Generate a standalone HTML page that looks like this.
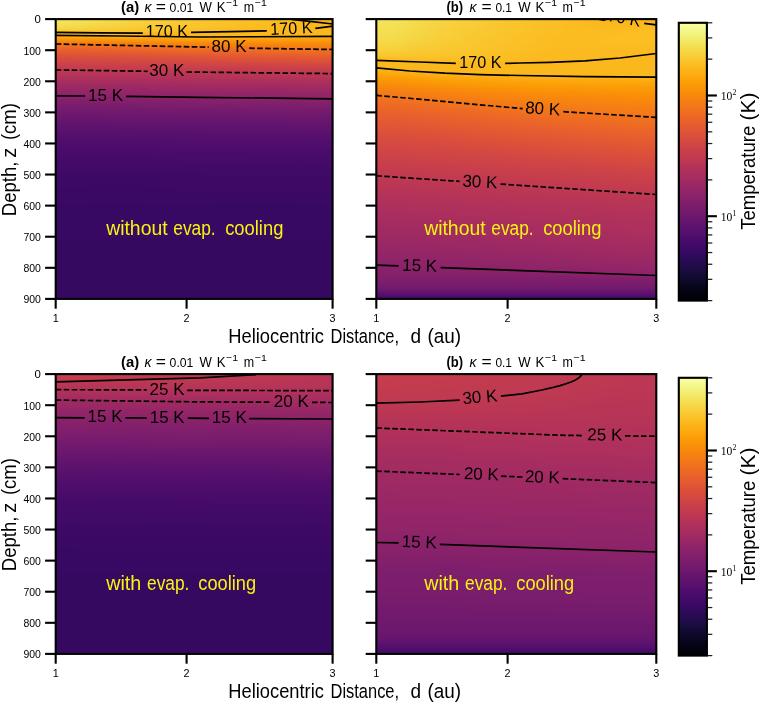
<!DOCTYPE html>
<html><head><meta charset="utf-8"><title>Temperature profiles</title><style>html,body{margin:0;padding:0;background:#fff;}body{width:760px;height:703px;overflow:hidden;font-family:"Liberation Sans",sans-serif;}</style></head>
<body><svg width="760" height="703" viewBox="0 0 760 703" style="display:block;will-change:transform"><defs><filter id="hb" x="-5%" y="-5%" width="110%" height="110%" color-interpolation-filters="sRGB"><feGaussianBlur stdDeviation="11 0"/></filter><linearGradient id="a0" gradientUnits="userSpaceOnUse" x1="0" y1="19.10" x2="0" y2="298.90"><stop offset="0" stop-color="#f3e35a"/><stop offset="0.0143" stop-color="#f4e156"/><stop offset="0.0286" stop-color="#f5d949"/><stop offset="0.0429" stop-color="#f9cb35"/><stop offset="0.0479" stop-color="#fbb81d"/><stop offset="0.0572" stop-color="#fbb81d"/><stop offset="0.0656" stop-color="#fca60c"/><stop offset="0.0715" stop-color="#fb9906"/><stop offset="0.0858" stop-color="#f57b17"/><stop offset="0.0901" stop-color="#f3761b"/><stop offset="0.1001" stop-color="#ee6a24"/><stop offset="0.1144" stop-color="#e65d2f"/><stop offset="0.1287" stop-color="#de5238"/><stop offset="0.143" stop-color="#d54a41"/><stop offset="0.1573" stop-color="#ce4347"/><stop offset="0.1716" stop-color="#c63d4d"/><stop offset="0.1823" stop-color="#bf3952"/><stop offset="0.1858" stop-color="#bd3853"/><stop offset="0.2001" stop-color="#b43359"/><stop offset="0.2144" stop-color="#ad305d"/><stop offset="0.2287" stop-color="#a32c61"/><stop offset="0.243" stop-color="#9b2964"/><stop offset="0.2573" stop-color="#952667"/><stop offset="0.2716" stop-color="#8d2369"/><stop offset="0.275" stop-color="#8c2369"/><stop offset="0.2859" stop-color="#85216b"/><stop offset="0.3002" stop-color="#7f1e6c"/><stop offset="0.3145" stop-color="#781c6d"/><stop offset="0.3288" stop-color="#721a6e"/><stop offset="0.3322" stop-color="#71196e"/><stop offset="0.3431" stop-color="#6c186e"/><stop offset="0.3574" stop-color="#67166e"/><stop offset="0.3717" stop-color="#62146e"/><stop offset="0.386" stop-color="#5d126e"/><stop offset="0.3894" stop-color="#5d126e"/><stop offset="0.4003" stop-color="#5a116e"/><stop offset="0.4146" stop-color="#550f6d"/><stop offset="0.4289" stop-color="#520e6d"/><stop offset="0.4432" stop-color="#4f0d6c"/><stop offset="0.4466" stop-color="#4f0d6c"/><stop offset="0.4575" stop-color="#4c0c6b"/><stop offset="0.4718" stop-color="#4a0c6b"/><stop offset="0.4861" stop-color="#470b6a"/><stop offset="0.5004" stop-color="#450a69"/><stop offset="0.5147" stop-color="#440a68"/><stop offset="0.5289" stop-color="#420a68"/><stop offset="0.5432" stop-color="#400a67"/><stop offset="0.5574" stop-color="#3e0966"/><stop offset="0.5718" stop-color="#3e0966"/><stop offset="0.5861" stop-color="#3d0965"/><stop offset="0.6004" stop-color="#3b0964"/><stop offset="0.6147" stop-color="#3b0964"/><stop offset="0.629" stop-color="#390963"/><stop offset="0.6433" stop-color="#390963"/><stop offset="0.6576" stop-color="#390963"/><stop offset="0.6719" stop-color="#380962"/><stop offset="0.6824" stop-color="#380962"/><stop offset="0.6862" stop-color="#380962"/><stop offset="0.7005" stop-color="#380962"/><stop offset="0.7148" stop-color="#380962"/><stop offset="0.7291" stop-color="#380962"/><stop offset="0.7434" stop-color="#380962"/><stop offset="0.7577" stop-color="#380962"/><stop offset="0.772" stop-color="#380962"/><stop offset="0.7863" stop-color="#360961"/><stop offset="0.8006" stop-color="#360961"/><stop offset="0.8149" stop-color="#360961"/><stop offset="0.8292" stop-color="#360961"/><stop offset="0.8435" stop-color="#360961"/><stop offset="0.8578" stop-color="#360961"/><stop offset="0.8721" stop-color="#360961"/><stop offset="0.8863" stop-color="#360961"/><stop offset="0.9006" stop-color="#360961"/><stop offset="0.9149" stop-color="#360961"/><stop offset="0.9292" stop-color="#360961"/><stop offset="0.9435" stop-color="#360961"/><stop offset="0.9578" stop-color="#360961"/><stop offset="0.9721" stop-color="#360961"/><stop offset="0.9864" stop-color="#360961"/><stop offset="1" stop-color="#360961"/></linearGradient><linearGradient id="a1" gradientUnits="userSpaceOnUse" x1="0" y1="19.10" x2="0" y2="298.90"><stop offset="0" stop-color="#f5db4c"/><stop offset="0.0143" stop-color="#f5d949"/><stop offset="0.0286" stop-color="#f7d340"/><stop offset="0.0429" stop-color="#f9c72f"/><stop offset="0.0451" stop-color="#fac62d"/><stop offset="0.0487" stop-color="#fbb81d"/><stop offset="0.0572" stop-color="#fbb81d"/><stop offset="0.0597" stop-color="#fbb81d"/><stop offset="0.0668" stop-color="#fca60c"/><stop offset="0.0715" stop-color="#fb9b06"/><stop offset="0.0858" stop-color="#f67e14"/><stop offset="0.0924" stop-color="#f3761b"/><stop offset="0.1001" stop-color="#ef6c23"/><stop offset="0.1144" stop-color="#e75e2e"/><stop offset="0.1287" stop-color="#df5337"/><stop offset="0.143" stop-color="#d74b3f"/><stop offset="0.1573" stop-color="#cf4446"/><stop offset="0.1716" stop-color="#c73e4c"/><stop offset="0.1839" stop-color="#bf3952"/><stop offset="0.1858" stop-color="#bf3952"/><stop offset="0.2001" stop-color="#b63458"/><stop offset="0.2144" stop-color="#ad305d"/><stop offset="0.2287" stop-color="#a52c60"/><stop offset="0.243" stop-color="#9d2964"/><stop offset="0.2573" stop-color="#952667"/><stop offset="0.2716" stop-color="#8d2369"/><stop offset="0.2761" stop-color="#8c2369"/><stop offset="0.2859" stop-color="#87216b"/><stop offset="0.3002" stop-color="#7f1e6c"/><stop offset="0.3145" stop-color="#781c6d"/><stop offset="0.3288" stop-color="#721a6e"/><stop offset="0.3333" stop-color="#71196e"/><stop offset="0.3431" stop-color="#6d186e"/><stop offset="0.3574" stop-color="#67166e"/><stop offset="0.3717" stop-color="#62146e"/><stop offset="0.386" stop-color="#5f136e"/><stop offset="0.3904" stop-color="#5d126e"/><stop offset="0.4003" stop-color="#5a116e"/><stop offset="0.4146" stop-color="#550f6d"/><stop offset="0.4289" stop-color="#520e6d"/><stop offset="0.4432" stop-color="#4f0d6c"/><stop offset="0.4476" stop-color="#4f0d6c"/><stop offset="0.4575" stop-color="#4d0d6c"/><stop offset="0.4718" stop-color="#4a0c6b"/><stop offset="0.4861" stop-color="#490b6a"/><stop offset="0.5004" stop-color="#450a69"/><stop offset="0.5147" stop-color="#440a68"/><stop offset="0.5289" stop-color="#420a68"/><stop offset="0.5432" stop-color="#400a67"/><stop offset="0.5575" stop-color="#3e0966"/><stop offset="0.5718" stop-color="#3e0966"/><stop offset="0.5861" stop-color="#3d0965"/><stop offset="0.6004" stop-color="#3b0964"/><stop offset="0.6147" stop-color="#3b0964"/><stop offset="0.629" stop-color="#390963"/><stop offset="0.6433" stop-color="#390963"/><stop offset="0.6576" stop-color="#390963"/><stop offset="0.6719" stop-color="#380962"/><stop offset="0.6835" stop-color="#380962"/><stop offset="0.6862" stop-color="#380962"/><stop offset="0.7005" stop-color="#380962"/><stop offset="0.7148" stop-color="#380962"/><stop offset="0.7291" stop-color="#380962"/><stop offset="0.7434" stop-color="#380962"/><stop offset="0.7577" stop-color="#380962"/><stop offset="0.772" stop-color="#380962"/><stop offset="0.7863" stop-color="#360961"/><stop offset="0.8006" stop-color="#360961"/><stop offset="0.8149" stop-color="#360961"/><stop offset="0.8292" stop-color="#360961"/><stop offset="0.8435" stop-color="#360961"/><stop offset="0.8578" stop-color="#360961"/><stop offset="0.8721" stop-color="#360961"/><stop offset="0.8863" stop-color="#360961"/><stop offset="0.9006" stop-color="#360961"/><stop offset="0.9149" stop-color="#360961"/><stop offset="0.9292" stop-color="#360961"/><stop offset="0.9435" stop-color="#360961"/><stop offset="0.9578" stop-color="#360961"/><stop offset="0.9721" stop-color="#360961"/><stop offset="0.9864" stop-color="#360961"/><stop offset="1" stop-color="#360961"/></linearGradient><linearGradient id="a2" gradientUnits="userSpaceOnUse" x1="0" y1="19.10" x2="0" y2="298.90"><stop offset="0" stop-color="#f7d340"/><stop offset="0.0143" stop-color="#f7d13d"/><stop offset="0.0286" stop-color="#f8cd37"/><stop offset="0.0429" stop-color="#fac42a"/><stop offset="0.0459" stop-color="#fac228"/><stop offset="0.0494" stop-color="#fbb81d"/><stop offset="0.0572" stop-color="#fbb81d"/><stop offset="0.061" stop-color="#fbb81d"/><stop offset="0.0681" stop-color="#fca60c"/><stop offset="0.0715" stop-color="#fc9f07"/><stop offset="0.0858" stop-color="#f78212"/><stop offset="0.0947" stop-color="#f3761b"/><stop offset="0.1001" stop-color="#f06f20"/><stop offset="0.1144" stop-color="#e9612b"/><stop offset="0.1287" stop-color="#e05536"/><stop offset="0.143" stop-color="#d84c3e"/><stop offset="0.1573" stop-color="#d04545"/><stop offset="0.1716" stop-color="#c73e4c"/><stop offset="0.1854" stop-color="#bf3952"/><stop offset="0.2001" stop-color="#b63458"/><stop offset="0.2144" stop-color="#ae305c"/><stop offset="0.2287" stop-color="#a52c60"/><stop offset="0.243" stop-color="#9d2964"/><stop offset="0.2573" stop-color="#952667"/><stop offset="0.2716" stop-color="#8f2469"/><stop offset="0.2771" stop-color="#8c2369"/><stop offset="0.2859" stop-color="#87216b"/><stop offset="0.3002" stop-color="#801f6c"/><stop offset="0.3145" stop-color="#781c6d"/><stop offset="0.3288" stop-color="#721a6e"/><stop offset="0.3343" stop-color="#71196e"/><stop offset="0.3431" stop-color="#6d186e"/><stop offset="0.3574" stop-color="#69166e"/><stop offset="0.3717" stop-color="#64156e"/><stop offset="0.386" stop-color="#5f136e"/><stop offset="0.3915" stop-color="#5d126e"/><stop offset="0.4003" stop-color="#5a116e"/><stop offset="0.4146" stop-color="#57106e"/><stop offset="0.4289" stop-color="#520e6d"/><stop offset="0.4432" stop-color="#4f0d6c"/><stop offset="0.4487" stop-color="#4f0d6c"/><stop offset="0.4575" stop-color="#4d0d6c"/><stop offset="0.4718" stop-color="#4a0c6b"/><stop offset="0.4861" stop-color="#490b6a"/><stop offset="0.5004" stop-color="#450a69"/><stop offset="0.5147" stop-color="#440a68"/><stop offset="0.5289" stop-color="#420a68"/><stop offset="0.5432" stop-color="#400a67"/><stop offset="0.5575" stop-color="#3e0966"/><stop offset="0.5595" stop-color="#3e0966"/><stop offset="0.5718" stop-color="#3e0966"/><stop offset="0.5861" stop-color="#3d0965"/><stop offset="0.6004" stop-color="#3b0964"/><stop offset="0.6147" stop-color="#3b0964"/><stop offset="0.629" stop-color="#390963"/><stop offset="0.6433" stop-color="#390963"/><stop offset="0.6576" stop-color="#390963"/><stop offset="0.6719" stop-color="#380962"/><stop offset="0.6846" stop-color="#380962"/><stop offset="0.6862" stop-color="#380962"/><stop offset="0.7005" stop-color="#380962"/><stop offset="0.7148" stop-color="#380962"/><stop offset="0.7291" stop-color="#380962"/><stop offset="0.7434" stop-color="#380962"/><stop offset="0.7577" stop-color="#380962"/><stop offset="0.772" stop-color="#380962"/><stop offset="0.7863" stop-color="#360961"/><stop offset="0.8006" stop-color="#360961"/><stop offset="0.8149" stop-color="#360961"/><stop offset="0.8292" stop-color="#360961"/><stop offset="0.8435" stop-color="#360961"/><stop offset="0.8578" stop-color="#360961"/><stop offset="0.8721" stop-color="#360961"/><stop offset="0.8863" stop-color="#360961"/><stop offset="0.9006" stop-color="#360961"/><stop offset="0.9149" stop-color="#360961"/><stop offset="0.9292" stop-color="#360961"/><stop offset="0.9435" stop-color="#360961"/><stop offset="0.9578" stop-color="#360961"/><stop offset="0.9721" stop-color="#360961"/><stop offset="0.9864" stop-color="#360961"/><stop offset="1" stop-color="#360961"/></linearGradient><linearGradient id="a3" gradientUnits="userSpaceOnUse" x1="0" y1="19.10" x2="0" y2="298.90"><stop offset="0" stop-color="#f8cd37"/><stop offset="0.0143" stop-color="#f9cb35"/><stop offset="0.0286" stop-color="#f9c72f"/><stop offset="0.0429" stop-color="#fac228"/><stop offset="0.0452" stop-color="#fac026"/><stop offset="0.0488" stop-color="#fbb81d"/><stop offset="0.0572" stop-color="#fbb81d"/><stop offset="0.0623" stop-color="#fbb81d"/><stop offset="0.0695" stop-color="#fca60c"/><stop offset="0.0715" stop-color="#fca309"/><stop offset="0.0858" stop-color="#f8850f"/><stop offset="0.097" stop-color="#f3761b"/><stop offset="0.1001" stop-color="#f1731d"/><stop offset="0.1144" stop-color="#ea632a"/><stop offset="0.1287" stop-color="#e25734"/><stop offset="0.143" stop-color="#d94d3d"/><stop offset="0.1573" stop-color="#d04545"/><stop offset="0.1716" stop-color="#c83f4b"/><stop offset="0.1858" stop-color="#c03a51"/><stop offset="0.2001" stop-color="#b73557"/><stop offset="0.2144" stop-color="#ae305c"/><stop offset="0.2287" stop-color="#a62d60"/><stop offset="0.243" stop-color="#9f2a63"/><stop offset="0.2573" stop-color="#972766"/><stop offset="0.2716" stop-color="#8f2469"/><stop offset="0.2782" stop-color="#8c2369"/><stop offset="0.2859" stop-color="#87216b"/><stop offset="0.3002" stop-color="#801f6c"/><stop offset="0.3145" stop-color="#7a1d6d"/><stop offset="0.3288" stop-color="#741a6e"/><stop offset="0.3354" stop-color="#71196e"/><stop offset="0.3431" stop-color="#6d186e"/><stop offset="0.3574" stop-color="#69166e"/><stop offset="0.3717" stop-color="#64156e"/><stop offset="0.386" stop-color="#5f136e"/><stop offset="0.3926" stop-color="#5d126e"/><stop offset="0.4003" stop-color="#5a116e"/><stop offset="0.4146" stop-color="#57106e"/><stop offset="0.4289" stop-color="#520e6d"/><stop offset="0.4432" stop-color="#4f0d6c"/><stop offset="0.4498" stop-color="#4f0d6c"/><stop offset="0.4575" stop-color="#4d0d6c"/><stop offset="0.4718" stop-color="#4a0c6b"/><stop offset="0.4861" stop-color="#490b6a"/><stop offset="0.5004" stop-color="#450a69"/><stop offset="0.5147" stop-color="#440a68"/><stop offset="0.5289" stop-color="#420a68"/><stop offset="0.5432" stop-color="#400a67"/><stop offset="0.5575" stop-color="#3e0966"/><stop offset="0.5606" stop-color="#3e0966"/><stop offset="0.5718" stop-color="#3e0966"/><stop offset="0.5861" stop-color="#3d0965"/><stop offset="0.6004" stop-color="#3b0964"/><stop offset="0.6147" stop-color="#3b0964"/><stop offset="0.629" stop-color="#390963"/><stop offset="0.6433" stop-color="#390963"/><stop offset="0.6576" stop-color="#390963"/><stop offset="0.6719" stop-color="#380962"/><stop offset="0.6856" stop-color="#380962"/><stop offset="0.7005" stop-color="#380962"/><stop offset="0.7148" stop-color="#380962"/><stop offset="0.7291" stop-color="#380962"/><stop offset="0.7434" stop-color="#380962"/><stop offset="0.7577" stop-color="#380962"/><stop offset="0.772" stop-color="#380962"/><stop offset="0.7863" stop-color="#360961"/><stop offset="0.8006" stop-color="#360961"/><stop offset="0.8149" stop-color="#360961"/><stop offset="0.8292" stop-color="#360961"/><stop offset="0.8435" stop-color="#360961"/><stop offset="0.8578" stop-color="#360961"/><stop offset="0.8721" stop-color="#360961"/><stop offset="0.8863" stop-color="#360961"/><stop offset="0.9006" stop-color="#360961"/><stop offset="0.9149" stop-color="#360961"/><stop offset="0.9292" stop-color="#360961"/><stop offset="0.9435" stop-color="#360961"/><stop offset="0.9578" stop-color="#360961"/><stop offset="0.9721" stop-color="#360961"/><stop offset="0.9864" stop-color="#360961"/><stop offset="1" stop-color="#360961"/></linearGradient><linearGradient id="a4" gradientUnits="userSpaceOnUse" x1="0" y1="19.10" x2="0" y2="298.90"><stop offset="0" stop-color="#f9c72f"/><stop offset="0.0143" stop-color="#fac62d"/><stop offset="0.0286" stop-color="#fac42a"/><stop offset="0.0429" stop-color="#fbbe23"/><stop offset="0.0473" stop-color="#fbb81d"/><stop offset="0.0572" stop-color="#fbb81d"/><stop offset="0.0637" stop-color="#fbb81d"/><stop offset="0.0709" stop-color="#fca60c"/><stop offset="0.0858" stop-color="#f8890c"/><stop offset="0.0993" stop-color="#f3761b"/><stop offset="0.1144" stop-color="#eb6628"/><stop offset="0.1287" stop-color="#e35933"/><stop offset="0.143" stop-color="#da4e3c"/><stop offset="0.1573" stop-color="#d24644"/><stop offset="0.1716" stop-color="#ca404a"/><stop offset="0.1858" stop-color="#c13a50"/><stop offset="0.1885" stop-color="#bf3952"/><stop offset="0.2001" stop-color="#b73557"/><stop offset="0.2144" stop-color="#b0315b"/><stop offset="0.2287" stop-color="#a62d60"/><stop offset="0.243" stop-color="#9f2a63"/><stop offset="0.2573" stop-color="#972766"/><stop offset="0.2716" stop-color="#8f2469"/><stop offset="0.2793" stop-color="#8c2369"/><stop offset="0.2859" stop-color="#88226a"/><stop offset="0.3002" stop-color="#801f6c"/><stop offset="0.3145" stop-color="#7a1d6d"/><stop offset="0.3288" stop-color="#741a6e"/><stop offset="0.3365" stop-color="#71196e"/><stop offset="0.3431" stop-color="#6d186e"/><stop offset="0.3574" stop-color="#69166e"/><stop offset="0.3717" stop-color="#64156e"/><stop offset="0.386" stop-color="#5f136e"/><stop offset="0.3936" stop-color="#5d126e"/><stop offset="0.4003" stop-color="#5a116e"/><stop offset="0.4146" stop-color="#57106e"/><stop offset="0.4289" stop-color="#540f6d"/><stop offset="0.4432" stop-color="#510e6c"/><stop offset="0.4508" stop-color="#4f0d6c"/><stop offset="0.4575" stop-color="#4d0d6c"/><stop offset="0.4718" stop-color="#4a0c6b"/><stop offset="0.4861" stop-color="#490b6a"/><stop offset="0.5004" stop-color="#470b6a"/><stop offset="0.5147" stop-color="#440a68"/><stop offset="0.5289" stop-color="#420a68"/><stop offset="0.5432" stop-color="#400a67"/><stop offset="0.5575" stop-color="#3e0966"/><stop offset="0.5616" stop-color="#3e0966"/><stop offset="0.5718" stop-color="#3e0966"/><stop offset="0.5861" stop-color="#3d0965"/><stop offset="0.6004" stop-color="#3d0965"/><stop offset="0.6147" stop-color="#3b0964"/><stop offset="0.629" stop-color="#390963"/><stop offset="0.6433" stop-color="#390963"/><stop offset="0.6576" stop-color="#390963"/><stop offset="0.6719" stop-color="#380962"/><stop offset="0.6862" stop-color="#380962"/><stop offset="0.7005" stop-color="#380962"/><stop offset="0.7148" stop-color="#380962"/><stop offset="0.7291" stop-color="#380962"/><stop offset="0.7434" stop-color="#380962"/><stop offset="0.7577" stop-color="#380962"/><stop offset="0.772" stop-color="#380962"/><stop offset="0.7863" stop-color="#360961"/><stop offset="0.8006" stop-color="#360961"/><stop offset="0.8149" stop-color="#360961"/><stop offset="0.8292" stop-color="#360961"/><stop offset="0.8435" stop-color="#360961"/><stop offset="0.8578" stop-color="#360961"/><stop offset="0.8721" stop-color="#360961"/><stop offset="0.8863" stop-color="#360961"/><stop offset="0.9006" stop-color="#360961"/><stop offset="0.9149" stop-color="#360961"/><stop offset="0.9292" stop-color="#360961"/><stop offset="0.9435" stop-color="#360961"/><stop offset="0.9578" stop-color="#360961"/><stop offset="0.9721" stop-color="#360961"/><stop offset="0.9864" stop-color="#360961"/><stop offset="1" stop-color="#360961"/></linearGradient><linearGradient id="a5" gradientUnits="userSpaceOnUse" x1="0" y1="19.10" x2="0" y2="298.90"><stop offset="0" stop-color="#fac228"/><stop offset="0.0143" stop-color="#fac228"/><stop offset="0.0286" stop-color="#fac026"/><stop offset="0.0411" stop-color="#fbbc21"/><stop offset="0.0429" stop-color="#fbba1f"/><stop offset="0.0447" stop-color="#fbb81d"/><stop offset="0.0572" stop-color="#fbb81d"/><stop offset="0.0636" stop-color="#fbb81d"/><stop offset="0.0707" stop-color="#fca60c"/><stop offset="0.0858" stop-color="#f98b0b"/><stop offset="0.1001" stop-color="#f37819"/><stop offset="0.1144" stop-color="#ec6726"/><stop offset="0.1287" stop-color="#e55c30"/><stop offset="0.143" stop-color="#dd513a"/><stop offset="0.1573" stop-color="#d34743"/><stop offset="0.1716" stop-color="#cb4149"/><stop offset="0.1858" stop-color="#c13a50"/><stop offset="0.1899" stop-color="#bf3952"/><stop offset="0.2001" stop-color="#b93556"/><stop offset="0.2144" stop-color="#b0315b"/><stop offset="0.2287" stop-color="#a82e5f"/><stop offset="0.243" stop-color="#a02a63"/><stop offset="0.2573" stop-color="#982766"/><stop offset="0.2716" stop-color="#902568"/><stop offset="0.2806" stop-color="#8c2369"/><stop offset="0.2859" stop-color="#88226a"/><stop offset="0.3002" stop-color="#82206c"/><stop offset="0.3145" stop-color="#7a1d6d"/><stop offset="0.3288" stop-color="#741a6e"/><stop offset="0.3377" stop-color="#71196e"/><stop offset="0.3431" stop-color="#6f196e"/><stop offset="0.3574" stop-color="#69166e"/><stop offset="0.3717" stop-color="#64156e"/><stop offset="0.386" stop-color="#5f136e"/><stop offset="0.3949" stop-color="#5d126e"/><stop offset="0.4003" stop-color="#5c126e"/><stop offset="0.4146" stop-color="#57106e"/><stop offset="0.4289" stop-color="#540f6d"/><stop offset="0.4432" stop-color="#510e6c"/><stop offset="0.4521" stop-color="#4f0d6c"/><stop offset="0.4575" stop-color="#4d0d6c"/><stop offset="0.4718" stop-color="#4a0c6b"/><stop offset="0.4861" stop-color="#490b6a"/><stop offset="0.5004" stop-color="#470b6a"/><stop offset="0.5147" stop-color="#440a68"/><stop offset="0.5289" stop-color="#420a68"/><stop offset="0.5432" stop-color="#400a67"/><stop offset="0.5575" stop-color="#400a67"/><stop offset="0.5629" stop-color="#3e0966"/><stop offset="0.5718" stop-color="#3e0966"/><stop offset="0.5861" stop-color="#3d0965"/><stop offset="0.6004" stop-color="#3d0965"/><stop offset="0.6147" stop-color="#3b0964"/><stop offset="0.629" stop-color="#3b0964"/><stop offset="0.6433" stop-color="#390963"/><stop offset="0.6576" stop-color="#390963"/><stop offset="0.6719" stop-color="#380962"/><stop offset="0.6862" stop-color="#380962"/><stop offset="0.688" stop-color="#380962"/><stop offset="0.7005" stop-color="#380962"/><stop offset="0.7148" stop-color="#380962"/><stop offset="0.7291" stop-color="#380962"/><stop offset="0.7434" stop-color="#380962"/><stop offset="0.7577" stop-color="#380962"/><stop offset="0.772" stop-color="#380962"/><stop offset="0.7863" stop-color="#360961"/><stop offset="0.8006" stop-color="#360961"/><stop offset="0.8149" stop-color="#360961"/><stop offset="0.8292" stop-color="#360961"/><stop offset="0.8435" stop-color="#360961"/><stop offset="0.8578" stop-color="#360961"/><stop offset="0.8721" stop-color="#360961"/><stop offset="0.8863" stop-color="#360961"/><stop offset="0.9006" stop-color="#360961"/><stop offset="0.9149" stop-color="#360961"/><stop offset="0.9292" stop-color="#360961"/><stop offset="0.9435" stop-color="#360961"/><stop offset="0.9578" stop-color="#360961"/><stop offset="0.9721" stop-color="#360961"/><stop offset="0.9864" stop-color="#360961"/><stop offset="1" stop-color="#360961"/></linearGradient><linearGradient id="a6" gradientUnits="userSpaceOnUse" x1="0" y1="19.10" x2="0" y2="298.90"><stop offset="0" stop-color="#fbbe23"/><stop offset="0.0143" stop-color="#fbbe23"/><stop offset="0.0286" stop-color="#fbbc21"/><stop offset="0.0385" stop-color="#fbba1f"/><stop offset="0.0421" stop-color="#fbb81d"/><stop offset="0.0572" stop-color="#fbb81d"/><stop offset="0.0631" stop-color="#fbb81d"/><stop offset="0.0702" stop-color="#fca60c"/><stop offset="0.0858" stop-color="#f98c0a"/><stop offset="0.1001" stop-color="#f47918"/><stop offset="0.1035" stop-color="#f3761b"/><stop offset="0.1144" stop-color="#ee6a24"/><stop offset="0.1287" stop-color="#e65d2f"/><stop offset="0.143" stop-color="#de5238"/><stop offset="0.1573" stop-color="#d44842"/><stop offset="0.1716" stop-color="#cb4149"/><stop offset="0.1858" stop-color="#c33b4f"/><stop offset="0.1913" stop-color="#bf3952"/><stop offset="0.2001" stop-color="#ba3655"/><stop offset="0.2144" stop-color="#b1325a"/><stop offset="0.2287" stop-color="#a82e5f"/><stop offset="0.243" stop-color="#a02a63"/><stop offset="0.2573" stop-color="#982766"/><stop offset="0.2716" stop-color="#902568"/><stop offset="0.2819" stop-color="#8c2369"/><stop offset="0.2859" stop-color="#8a226a"/><stop offset="0.3002" stop-color="#82206c"/><stop offset="0.3145" stop-color="#7c1d6d"/><stop offset="0.3288" stop-color="#751b6e"/><stop offset="0.3391" stop-color="#71196e"/><stop offset="0.3431" stop-color="#6f196e"/><stop offset="0.3574" stop-color="#6a176e"/><stop offset="0.3717" stop-color="#65156e"/><stop offset="0.386" stop-color="#61136e"/><stop offset="0.3963" stop-color="#5d126e"/><stop offset="0.4003" stop-color="#5c126e"/><stop offset="0.4146" stop-color="#57106e"/><stop offset="0.4289" stop-color="#540f6d"/><stop offset="0.4432" stop-color="#510e6c"/><stop offset="0.4534" stop-color="#4f0d6c"/><stop offset="0.4575" stop-color="#4d0d6c"/><stop offset="0.4718" stop-color="#4c0c6b"/><stop offset="0.4861" stop-color="#490b6a"/><stop offset="0.5004" stop-color="#470b6a"/><stop offset="0.5147" stop-color="#450a69"/><stop offset="0.5289" stop-color="#420a68"/><stop offset="0.5432" stop-color="#400a67"/><stop offset="0.5575" stop-color="#400a67"/><stop offset="0.5642" stop-color="#3e0966"/><stop offset="0.5718" stop-color="#3e0966"/><stop offset="0.5861" stop-color="#3d0965"/><stop offset="0.6004" stop-color="#3d0965"/><stop offset="0.6147" stop-color="#3b0964"/><stop offset="0.629" stop-color="#3b0964"/><stop offset="0.6433" stop-color="#390963"/><stop offset="0.6576" stop-color="#390963"/><stop offset="0.6719" stop-color="#380962"/><stop offset="0.6862" stop-color="#380962"/><stop offset="0.6893" stop-color="#380962"/><stop offset="0.7005" stop-color="#380962"/><stop offset="0.7148" stop-color="#380962"/><stop offset="0.7291" stop-color="#380962"/><stop offset="0.7434" stop-color="#380962"/><stop offset="0.7577" stop-color="#380962"/><stop offset="0.772" stop-color="#380962"/><stop offset="0.7863" stop-color="#360961"/><stop offset="0.8006" stop-color="#360961"/><stop offset="0.8149" stop-color="#360961"/><stop offset="0.8292" stop-color="#360961"/><stop offset="0.8435" stop-color="#360961"/><stop offset="0.8578" stop-color="#360961"/><stop offset="0.8721" stop-color="#360961"/><stop offset="0.8863" stop-color="#360961"/><stop offset="0.9006" stop-color="#360961"/><stop offset="0.9149" stop-color="#360961"/><stop offset="0.9292" stop-color="#360961"/><stop offset="0.9435" stop-color="#360961"/><stop offset="0.9578" stop-color="#360961"/><stop offset="0.9721" stop-color="#360961"/><stop offset="0.9864" stop-color="#360961"/><stop offset="1" stop-color="#360961"/></linearGradient><linearGradient id="a7" gradientUnits="userSpaceOnUse" x1="0" y1="19.10" x2="0" y2="298.90"><stop offset="0" stop-color="#fbba1f"/><stop offset="0.0143" stop-color="#fbba1f"/><stop offset="0.0286" stop-color="#fbba1f"/><stop offset="0.0343" stop-color="#fbba1f"/><stop offset="0.0379" stop-color="#fbb81d"/><stop offset="0.0429" stop-color="#fbb81d"/><stop offset="0.0572" stop-color="#fbb81d"/><stop offset="0.0626" stop-color="#fbb81d"/><stop offset="0.0697" stop-color="#fca60c"/><stop offset="0.0715" stop-color="#fca309"/><stop offset="0.0858" stop-color="#f98c0a"/><stop offset="0.1001" stop-color="#f57b17"/><stop offset="0.1055" stop-color="#f3761b"/><stop offset="0.1144" stop-color="#ef6c23"/><stop offset="0.1287" stop-color="#e75e2e"/><stop offset="0.143" stop-color="#df5337"/><stop offset="0.1573" stop-color="#d54a41"/><stop offset="0.1716" stop-color="#cc4248"/><stop offset="0.1858" stop-color="#c33b4f"/><stop offset="0.1927" stop-color="#bf3952"/><stop offset="0.2001" stop-color="#ba3655"/><stop offset="0.2144" stop-color="#b1325a"/><stop offset="0.2287" stop-color="#a92e5e"/><stop offset="0.243" stop-color="#a02a63"/><stop offset="0.2573" stop-color="#982766"/><stop offset="0.2716" stop-color="#922568"/><stop offset="0.2832" stop-color="#8c2369"/><stop offset="0.2859" stop-color="#8a226a"/><stop offset="0.3002" stop-color="#82206c"/><stop offset="0.3145" stop-color="#7c1d6d"/><stop offset="0.3288" stop-color="#751b6e"/><stop offset="0.3404" stop-color="#71196e"/><stop offset="0.3431" stop-color="#6f196e"/><stop offset="0.3574" stop-color="#6a176e"/><stop offset="0.3717" stop-color="#65156e"/><stop offset="0.386" stop-color="#61136e"/><stop offset="0.3976" stop-color="#5d126e"/><stop offset="0.4003" stop-color="#5c126e"/><stop offset="0.4146" stop-color="#59106e"/><stop offset="0.4289" stop-color="#540f6d"/><stop offset="0.4432" stop-color="#510e6c"/><stop offset="0.4548" stop-color="#4f0d6c"/><stop offset="0.4575" stop-color="#4d0d6c"/><stop offset="0.4718" stop-color="#4c0c6b"/><stop offset="0.4861" stop-color="#490b6a"/><stop offset="0.5004" stop-color="#470b6a"/><stop offset="0.5147" stop-color="#450a69"/><stop offset="0.5289" stop-color="#420a68"/><stop offset="0.5432" stop-color="#400a67"/><stop offset="0.5575" stop-color="#400a67"/><stop offset="0.5656" stop-color="#3e0966"/><stop offset="0.5718" stop-color="#3e0966"/><stop offset="0.5861" stop-color="#3d0965"/><stop offset="0.6004" stop-color="#3d0965"/><stop offset="0.6147" stop-color="#3b0964"/><stop offset="0.629" stop-color="#3b0964"/><stop offset="0.6433" stop-color="#390963"/><stop offset="0.6576" stop-color="#390963"/><stop offset="0.6719" stop-color="#380962"/><stop offset="0.6862" stop-color="#380962"/><stop offset="0.6906" stop-color="#380962"/><stop offset="0.7005" stop-color="#380962"/><stop offset="0.7148" stop-color="#380962"/><stop offset="0.7291" stop-color="#380962"/><stop offset="0.7434" stop-color="#380962"/><stop offset="0.7577" stop-color="#380962"/><stop offset="0.772" stop-color="#380962"/><stop offset="0.7863" stop-color="#360961"/><stop offset="0.8006" stop-color="#360961"/><stop offset="0.8149" stop-color="#360961"/><stop offset="0.8292" stop-color="#360961"/><stop offset="0.8435" stop-color="#360961"/><stop offset="0.8578" stop-color="#360961"/><stop offset="0.8721" stop-color="#360961"/><stop offset="0.8863" stop-color="#360961"/><stop offset="0.9006" stop-color="#360961"/><stop offset="0.9149" stop-color="#360961"/><stop offset="0.9292" stop-color="#360961"/><stop offset="0.9435" stop-color="#360961"/><stop offset="0.9578" stop-color="#360961"/><stop offset="0.9721" stop-color="#360961"/><stop offset="0.9864" stop-color="#360961"/><stop offset="1" stop-color="#360961"/></linearGradient><linearGradient id="a8" gradientUnits="userSpaceOnUse" x1="0" y1="19.10" x2="0" y2="298.90"><stop offset="0" stop-color="#fbb61a"/><stop offset="0.0143" stop-color="#fbb81d"/><stop offset="0.0286" stop-color="#fbb81d"/><stop offset="0.0323" stop-color="#fbb81d"/><stop offset="0.0429" stop-color="#fbb81d"/><stop offset="0.0572" stop-color="#fbb81d"/><stop offset="0.0621" stop-color="#fbb81d"/><stop offset="0.0692" stop-color="#fca60c"/><stop offset="0.0715" stop-color="#fca309"/><stop offset="0.0858" stop-color="#f98c0a"/><stop offset="0.1001" stop-color="#f57d15"/><stop offset="0.1076" stop-color="#f3761b"/><stop offset="0.1144" stop-color="#f06f20"/><stop offset="0.1287" stop-color="#e9612b"/><stop offset="0.143" stop-color="#e05536"/><stop offset="0.1573" stop-color="#d84c3e"/><stop offset="0.1716" stop-color="#ce4347"/><stop offset="0.1858" stop-color="#c43c4e"/><stop offset="0.1941" stop-color="#bf3952"/><stop offset="0.2001" stop-color="#bc3754"/><stop offset="0.2144" stop-color="#b3325a"/><stop offset="0.2287" stop-color="#a92e5e"/><stop offset="0.243" stop-color="#a22b62"/><stop offset="0.2573" stop-color="#9a2865"/><stop offset="0.2716" stop-color="#922568"/><stop offset="0.2845" stop-color="#8c2369"/><stop offset="0.3002" stop-color="#84206b"/><stop offset="0.3145" stop-color="#7d1e6d"/><stop offset="0.3288" stop-color="#751b6e"/><stop offset="0.3417" stop-color="#71196e"/><stop offset="0.3574" stop-color="#6a176e"/><stop offset="0.3717" stop-color="#65156e"/><stop offset="0.386" stop-color="#61136e"/><stop offset="0.3989" stop-color="#5d126e"/><stop offset="0.4146" stop-color="#59106e"/><stop offset="0.4289" stop-color="#540f6d"/><stop offset="0.4432" stop-color="#510e6c"/><stop offset="0.4561" stop-color="#4f0d6c"/><stop offset="0.4718" stop-color="#4c0c6b"/><stop offset="0.4861" stop-color="#490b6a"/><stop offset="0.5004" stop-color="#470b6a"/><stop offset="0.5147" stop-color="#450a69"/><stop offset="0.5289" stop-color="#440a68"/><stop offset="0.5432" stop-color="#420a68"/><stop offset="0.5575" stop-color="#400a67"/><stop offset="0.5669" stop-color="#3e0966"/><stop offset="0.5718" stop-color="#3e0966"/><stop offset="0.5861" stop-color="#3d0965"/><stop offset="0.6004" stop-color="#3d0965"/><stop offset="0.6147" stop-color="#3b0964"/><stop offset="0.629" stop-color="#3b0964"/><stop offset="0.6433" stop-color="#390963"/><stop offset="0.6576" stop-color="#390963"/><stop offset="0.6719" stop-color="#380962"/><stop offset="0.6862" stop-color="#380962"/><stop offset="0.692" stop-color="#380962"/><stop offset="0.7005" stop-color="#380962"/><stop offset="0.7148" stop-color="#380962"/><stop offset="0.7291" stop-color="#380962"/><stop offset="0.7434" stop-color="#380962"/><stop offset="0.7577" stop-color="#380962"/><stop offset="0.772" stop-color="#380962"/><stop offset="0.7863" stop-color="#360961"/><stop offset="0.8006" stop-color="#360961"/><stop offset="0.8149" stop-color="#360961"/><stop offset="0.8292" stop-color="#360961"/><stop offset="0.8435" stop-color="#360961"/><stop offset="0.8578" stop-color="#360961"/><stop offset="0.8721" stop-color="#360961"/><stop offset="0.8863" stop-color="#360961"/><stop offset="0.9006" stop-color="#360961"/><stop offset="0.9149" stop-color="#360961"/><stop offset="0.9292" stop-color="#360961"/><stop offset="0.9435" stop-color="#360961"/><stop offset="0.9578" stop-color="#360961"/><stop offset="0.9721" stop-color="#360961"/><stop offset="0.9864" stop-color="#360961"/><stop offset="1" stop-color="#360961"/></linearGradient><linearGradient id="b0" gradientUnits="userSpaceOnUse" x1="0" y1="19.10" x2="0" y2="298.90"><stop offset="0" stop-color="#f3e35a"/><stop offset="0.0143" stop-color="#f3e35a"/><stop offset="0.0286" stop-color="#f4e156"/><stop offset="0.0429" stop-color="#f4df53"/><stop offset="0.0572" stop-color="#f4dd4f"/><stop offset="0.0598" stop-color="#f4dd4f"/><stop offset="0.0715" stop-color="#f5db4c"/><stop offset="0.0858" stop-color="#f6d746"/><stop offset="0.0971" stop-color="#f7d340"/><stop offset="0.1001" stop-color="#f7d340"/><stop offset="0.1144" stop-color="#f8cf3a"/><stop offset="0.1287" stop-color="#f9c72f"/><stop offset="0.143" stop-color="#fbbc21"/><stop offset="0.1494" stop-color="#fbb81d"/><stop offset="0.1573" stop-color="#fbb81d"/><stop offset="0.1716" stop-color="#fbb81d"/><stop offset="0.179" stop-color="#fbb61a"/><stop offset="0.1858" stop-color="#fcb014"/><stop offset="0.1897" stop-color="#fcac11"/><stop offset="0.2001" stop-color="#fca50a"/><stop offset="0.2144" stop-color="#fb9906"/><stop offset="0.2287" stop-color="#fa9008"/><stop offset="0.243" stop-color="#f8870e"/><stop offset="0.2573" stop-color="#f67e14"/><stop offset="0.2716" stop-color="#f37819"/><stop offset="0.2769" stop-color="#f3761b"/><stop offset="0.2859" stop-color="#f1731d"/><stop offset="0.3002" stop-color="#ef6c23"/><stop offset="0.3145" stop-color="#ec6726"/><stop offset="0.3288" stop-color="#ea632a"/><stop offset="0.3431" stop-color="#e75e2e"/><stop offset="0.3574" stop-color="#e55c30"/><stop offset="0.3717" stop-color="#e25734"/><stop offset="0.386" stop-color="#e05536"/><stop offset="0.4003" stop-color="#dd513a"/><stop offset="0.4146" stop-color="#da4e3c"/><stop offset="0.4289" stop-color="#d84c3e"/><stop offset="0.4432" stop-color="#d54a41"/><stop offset="0.4575" stop-color="#d34743"/><stop offset="0.4718" stop-color="#cf4446"/><stop offset="0.4861" stop-color="#ce4347"/><stop offset="0.5004" stop-color="#cb4149"/><stop offset="0.5147" stop-color="#c83f4b"/><stop offset="0.5289" stop-color="#c63d4d"/><stop offset="0.5432" stop-color="#c33b4f"/><stop offset="0.5575" stop-color="#c03a51"/><stop offset="0.5634" stop-color="#bf3952"/><stop offset="0.5718" stop-color="#bd3853"/><stop offset="0.5861" stop-color="#bc3754"/><stop offset="0.6004" stop-color="#b93556"/><stop offset="0.6147" stop-color="#b63458"/><stop offset="0.629" stop-color="#b43359"/><stop offset="0.6433" stop-color="#b1325a"/><stop offset="0.6576" stop-color="#b0315b"/><stop offset="0.6719" stop-color="#ad305d"/><stop offset="0.6862" stop-color="#ab2f5e"/><stop offset="0.7005" stop-color="#a82e5f"/><stop offset="0.7148" stop-color="#a62d60"/><stop offset="0.7291" stop-color="#a52c60"/><stop offset="0.7434" stop-color="#a22b62"/><stop offset="0.7577" stop-color="#a02a63"/><stop offset="0.772" stop-color="#9f2a63"/><stop offset="0.7863" stop-color="#9b2964"/><stop offset="0.8006" stop-color="#9a2865"/><stop offset="0.8149" stop-color="#972766"/><stop offset="0.8292" stop-color="#952667"/><stop offset="0.8435" stop-color="#922568"/><stop offset="0.8578" stop-color="#902568"/><stop offset="0.8721" stop-color="#8d2369"/><stop offset="0.8814" stop-color="#8c2369"/><stop offset="0.8863" stop-color="#8a226a"/><stop offset="0.9006" stop-color="#87216b"/><stop offset="0.9149" stop-color="#85216b"/><stop offset="0.9285" stop-color="#801f6c"/><stop offset="0.9435" stop-color="#7c1d6d"/><stop offset="0.9578" stop-color="#751b6e"/><stop offset="0.9721" stop-color="#67166e"/><stop offset="0.975" stop-color="#64156e"/><stop offset="0.9864" stop-color="#540f6d"/><stop offset="0.9907" stop-color="#4f0d6c"/><stop offset="1" stop-color="#450a69"/></linearGradient><linearGradient id="b1" gradientUnits="userSpaceOnUse" x1="0" y1="19.10" x2="0" y2="298.90"><stop offset="0" stop-color="#f5db4c"/><stop offset="0.0143" stop-color="#f5d949"/><stop offset="0.0286" stop-color="#f5d949"/><stop offset="0.0429" stop-color="#f6d746"/><stop offset="0.0572" stop-color="#f6d543"/><stop offset="0.0612" stop-color="#f6d543"/><stop offset="0.0715" stop-color="#f7d340"/><stop offset="0.0858" stop-color="#f7d13d"/><stop offset="0.0995" stop-color="#f8cd37"/><stop offset="0.1144" stop-color="#f9c932"/><stop offset="0.1287" stop-color="#fac62d"/><stop offset="0.1332" stop-color="#fac42a"/><stop offset="0.143" stop-color="#fbbe23"/><stop offset="0.1531" stop-color="#fbb81d"/><stop offset="0.1573" stop-color="#fbb81d"/><stop offset="0.1716" stop-color="#fbb81d"/><stop offset="0.1858" stop-color="#fbb61a"/><stop offset="0.1981" stop-color="#fcac11"/><stop offset="0.2001" stop-color="#fcaa0f"/><stop offset="0.2144" stop-color="#fc9f07"/><stop offset="0.2287" stop-color="#fb9606"/><stop offset="0.243" stop-color="#f98c0a"/><stop offset="0.2573" stop-color="#f78410"/><stop offset="0.2716" stop-color="#f57d15"/><stop offset="0.2859" stop-color="#f3761b"/><stop offset="0.3002" stop-color="#f06f20"/><stop offset="0.3145" stop-color="#ee6a24"/><stop offset="0.3288" stop-color="#eb6628"/><stop offset="0.3431" stop-color="#e9612b"/><stop offset="0.3574" stop-color="#e65d2f"/><stop offset="0.3717" stop-color="#e45a31"/><stop offset="0.386" stop-color="#e15635"/><stop offset="0.4003" stop-color="#df5337"/><stop offset="0.4146" stop-color="#db503b"/><stop offset="0.4289" stop-color="#d94d3d"/><stop offset="0.4432" stop-color="#d74b3f"/><stop offset="0.4575" stop-color="#d44842"/><stop offset="0.4718" stop-color="#d24644"/><stop offset="0.4861" stop-color="#cf4446"/><stop offset="0.5004" stop-color="#cc4248"/><stop offset="0.5147" stop-color="#ca404a"/><stop offset="0.5289" stop-color="#c73e4c"/><stop offset="0.5432" stop-color="#c43c4e"/><stop offset="0.5575" stop-color="#c13a50"/><stop offset="0.5701" stop-color="#bf3952"/><stop offset="0.5718" stop-color="#bf3952"/><stop offset="0.5861" stop-color="#bc3754"/><stop offset="0.6004" stop-color="#ba3655"/><stop offset="0.6147" stop-color="#b73557"/><stop offset="0.629" stop-color="#b43359"/><stop offset="0.6433" stop-color="#b3325a"/><stop offset="0.6576" stop-color="#b0315b"/><stop offset="0.6719" stop-color="#ae305c"/><stop offset="0.6862" stop-color="#ad305d"/><stop offset="0.7005" stop-color="#a92e5e"/><stop offset="0.7148" stop-color="#a82e5f"/><stop offset="0.7291" stop-color="#a52c60"/><stop offset="0.7434" stop-color="#a32c61"/><stop offset="0.7577" stop-color="#a22b62"/><stop offset="0.772" stop-color="#9f2a63"/><stop offset="0.7863" stop-color="#9d2964"/><stop offset="0.8006" stop-color="#9b2964"/><stop offset="0.8149" stop-color="#982766"/><stop offset="0.8292" stop-color="#972766"/><stop offset="0.8435" stop-color="#932667"/><stop offset="0.8578" stop-color="#902568"/><stop offset="0.8721" stop-color="#8f2469"/><stop offset="0.8851" stop-color="#8c2369"/><stop offset="0.9006" stop-color="#88226a"/><stop offset="0.9149" stop-color="#85216b"/><stop offset="0.9285" stop-color="#801f6c"/><stop offset="0.9435" stop-color="#7c1d6d"/><stop offset="0.9578" stop-color="#751b6e"/><stop offset="0.9721" stop-color="#67166e"/><stop offset="0.975" stop-color="#64156e"/><stop offset="0.9864" stop-color="#540f6d"/><stop offset="0.9907" stop-color="#4f0d6c"/><stop offset="1" stop-color="#450a69"/></linearGradient><linearGradient id="b2" gradientUnits="userSpaceOnUse" x1="0" y1="19.10" x2="0" y2="298.90"><stop offset="0" stop-color="#f7d340"/><stop offset="0.0143" stop-color="#f7d13d"/><stop offset="0.0286" stop-color="#f7d13d"/><stop offset="0.0429" stop-color="#f8cf3a"/><stop offset="0.0572" stop-color="#f8cf3a"/><stop offset="0.0626" stop-color="#f8cf3a"/><stop offset="0.0715" stop-color="#f8cd37"/><stop offset="0.0858" stop-color="#f9cb35"/><stop offset="0.1001" stop-color="#f9c932"/><stop offset="0.1017" stop-color="#f9c932"/><stop offset="0.1144" stop-color="#f9c72f"/><stop offset="0.1287" stop-color="#fac42a"/><stop offset="0.1361" stop-color="#fac228"/><stop offset="0.143" stop-color="#fbbe23"/><stop offset="0.1565" stop-color="#fbb81d"/><stop offset="0.1716" stop-color="#fbb81d"/><stop offset="0.1858" stop-color="#fbb81d"/><stop offset="0.1935" stop-color="#fbb61a"/><stop offset="0.2001" stop-color="#fcb014"/><stop offset="0.2042" stop-color="#fcac11"/><stop offset="0.2144" stop-color="#fca50a"/><stop offset="0.2287" stop-color="#fb9906"/><stop offset="0.243" stop-color="#fa9008"/><stop offset="0.2573" stop-color="#f8870e"/><stop offset="0.2716" stop-color="#f68013"/><stop offset="0.2859" stop-color="#f47918"/><stop offset="0.2952" stop-color="#f3761b"/><stop offset="0.3002" stop-color="#f2741c"/><stop offset="0.3145" stop-color="#ef6e21"/><stop offset="0.3288" stop-color="#ed6925"/><stop offset="0.3431" stop-color="#eb6429"/><stop offset="0.3574" stop-color="#e8602d"/><stop offset="0.3717" stop-color="#e65d2f"/><stop offset="0.386" stop-color="#e35933"/><stop offset="0.4003" stop-color="#e05536"/><stop offset="0.4146" stop-color="#de5238"/><stop offset="0.4289" stop-color="#da4e3c"/><stop offset="0.4432" stop-color="#d84c3e"/><stop offset="0.4575" stop-color="#d54a41"/><stop offset="0.4718" stop-color="#d34743"/><stop offset="0.4861" stop-color="#d04545"/><stop offset="0.5004" stop-color="#ce4347"/><stop offset="0.5147" stop-color="#cb4149"/><stop offset="0.5289" stop-color="#c83f4b"/><stop offset="0.5432" stop-color="#c63d4d"/><stop offset="0.5575" stop-color="#c33b4f"/><stop offset="0.5718" stop-color="#c03a51"/><stop offset="0.5768" stop-color="#bf3952"/><stop offset="0.5861" stop-color="#bd3853"/><stop offset="0.6004" stop-color="#ba3655"/><stop offset="0.6147" stop-color="#b93556"/><stop offset="0.629" stop-color="#b63458"/><stop offset="0.6433" stop-color="#b43359"/><stop offset="0.6576" stop-color="#b1325a"/><stop offset="0.6719" stop-color="#b0315b"/><stop offset="0.6862" stop-color="#ad305d"/><stop offset="0.7005" stop-color="#ab2f5e"/><stop offset="0.7148" stop-color="#a92e5e"/><stop offset="0.7291" stop-color="#a62d60"/><stop offset="0.7434" stop-color="#a52c60"/><stop offset="0.7577" stop-color="#a22b62"/><stop offset="0.772" stop-color="#a02a63"/><stop offset="0.7863" stop-color="#9f2a63"/><stop offset="0.8006" stop-color="#9b2964"/><stop offset="0.8149" stop-color="#9a2865"/><stop offset="0.8292" stop-color="#972766"/><stop offset="0.8435" stop-color="#952667"/><stop offset="0.8578" stop-color="#922568"/><stop offset="0.8721" stop-color="#8f2469"/><stop offset="0.8863" stop-color="#8c2369"/><stop offset="0.8888" stop-color="#8c2369"/><stop offset="0.9006" stop-color="#88226a"/><stop offset="0.9149" stop-color="#85216b"/><stop offset="0.9285" stop-color="#801f6c"/><stop offset="0.9435" stop-color="#7c1d6d"/><stop offset="0.9578" stop-color="#751b6e"/><stop offset="0.9721" stop-color="#67166e"/><stop offset="0.975" stop-color="#64156e"/><stop offset="0.9864" stop-color="#540f6d"/><stop offset="0.9907" stop-color="#4f0d6c"/><stop offset="1" stop-color="#450a69"/></linearGradient><linearGradient id="b3" gradientUnits="userSpaceOnUse" x1="0" y1="19.10" x2="0" y2="298.90"><stop offset="0" stop-color="#f9cb35"/><stop offset="0.0143" stop-color="#f9cb35"/><stop offset="0.0286" stop-color="#f9cb35"/><stop offset="0.0429" stop-color="#f9c932"/><stop offset="0.0572" stop-color="#f9c932"/><stop offset="0.0632" stop-color="#f9c932"/><stop offset="0.0715" stop-color="#f9c72f"/><stop offset="0.0858" stop-color="#f9c72f"/><stop offset="0.1001" stop-color="#fac62d"/><stop offset="0.1026" stop-color="#fac62d"/><stop offset="0.1144" stop-color="#fac42a"/><stop offset="0.1287" stop-color="#fac228"/><stop offset="0.1374" stop-color="#fac026"/><stop offset="0.143" stop-color="#fbbe23"/><stop offset="0.1573" stop-color="#fbb81d"/><stop offset="0.1716" stop-color="#fbb81d"/><stop offset="0.1858" stop-color="#fbb81d"/><stop offset="0.1966" stop-color="#fbb61a"/><stop offset="0.2001" stop-color="#fcb418"/><stop offset="0.2073" stop-color="#fcac11"/><stop offset="0.2144" stop-color="#fca60c"/><stop offset="0.2287" stop-color="#fb9d07"/><stop offset="0.243" stop-color="#fa9407"/><stop offset="0.2573" stop-color="#f98b0b"/><stop offset="0.2716" stop-color="#f78410"/><stop offset="0.2859" stop-color="#f57d15"/><stop offset="0.3002" stop-color="#f37819"/><stop offset="0.3044" stop-color="#f3761b"/><stop offset="0.3145" stop-color="#f1711f"/><stop offset="0.3288" stop-color="#ef6c23"/><stop offset="0.3431" stop-color="#ec6726"/><stop offset="0.3574" stop-color="#ea632a"/><stop offset="0.3717" stop-color="#e75e2e"/><stop offset="0.386" stop-color="#e55c30"/><stop offset="0.4003" stop-color="#e25734"/><stop offset="0.4146" stop-color="#e05536"/><stop offset="0.4289" stop-color="#dd513a"/><stop offset="0.4432" stop-color="#da4e3c"/><stop offset="0.4575" stop-color="#d74b3f"/><stop offset="0.4718" stop-color="#d44842"/><stop offset="0.4861" stop-color="#d24644"/><stop offset="0.5004" stop-color="#cf4446"/><stop offset="0.5147" stop-color="#cc4248"/><stop offset="0.5289" stop-color="#ca404a"/><stop offset="0.5432" stop-color="#c73e4c"/><stop offset="0.5575" stop-color="#c43c4e"/><stop offset="0.5718" stop-color="#c13a50"/><stop offset="0.5834" stop-color="#bf3952"/><stop offset="0.5861" stop-color="#bf3952"/><stop offset="0.6004" stop-color="#bc3754"/><stop offset="0.6147" stop-color="#b93556"/><stop offset="0.629" stop-color="#b73557"/><stop offset="0.6433" stop-color="#b43359"/><stop offset="0.6576" stop-color="#b3325a"/><stop offset="0.6719" stop-color="#b0315b"/><stop offset="0.6862" stop-color="#ae305c"/><stop offset="0.7005" stop-color="#ad305d"/><stop offset="0.7148" stop-color="#a92e5e"/><stop offset="0.7291" stop-color="#a82e5f"/><stop offset="0.7434" stop-color="#a62d60"/><stop offset="0.7577" stop-color="#a32c61"/><stop offset="0.772" stop-color="#a22b62"/><stop offset="0.7863" stop-color="#9f2a63"/><stop offset="0.8006" stop-color="#9d2964"/><stop offset="0.8149" stop-color="#9b2964"/><stop offset="0.8292" stop-color="#982766"/><stop offset="0.8435" stop-color="#952667"/><stop offset="0.8578" stop-color="#932667"/><stop offset="0.8721" stop-color="#902568"/><stop offset="0.8863" stop-color="#8d2369"/><stop offset="0.8924" stop-color="#8c2369"/><stop offset="0.9006" stop-color="#8a226a"/><stop offset="0.9149" stop-color="#85216b"/><stop offset="0.9285" stop-color="#801f6c"/><stop offset="0.9435" stop-color="#7c1d6d"/><stop offset="0.9578" stop-color="#751b6e"/><stop offset="0.9721" stop-color="#67166e"/><stop offset="0.975" stop-color="#64156e"/><stop offset="0.9864" stop-color="#540f6d"/><stop offset="0.9907" stop-color="#4f0d6c"/><stop offset="1" stop-color="#450a69"/></linearGradient><linearGradient id="b4" gradientUnits="userSpaceOnUse" x1="0" y1="19.10" x2="0" y2="298.90"><stop offset="0" stop-color="#fac62d"/><stop offset="0.0143" stop-color="#fac62d"/><stop offset="0.0286" stop-color="#fac62d"/><stop offset="0.0429" stop-color="#fac62d"/><stop offset="0.0572" stop-color="#fac42a"/><stop offset="0.0633" stop-color="#fac42a"/><stop offset="0.0715" stop-color="#fac42a"/><stop offset="0.0858" stop-color="#fac228"/><stop offset="0.1001" stop-color="#fac228"/><stop offset="0.1029" stop-color="#fac228"/><stop offset="0.1144" stop-color="#fac026"/><stop offset="0.1287" stop-color="#fbbe23"/><stop offset="0.1377" stop-color="#fbbe23"/><stop offset="0.143" stop-color="#fbbc21"/><stop offset="0.1573" stop-color="#fbb81d"/><stop offset="0.1716" stop-color="#fbb81d"/><stop offset="0.1858" stop-color="#fbb81d"/><stop offset="0.1996" stop-color="#fbb61a"/><stop offset="0.2104" stop-color="#fcac11"/><stop offset="0.2144" stop-color="#fcaa0f"/><stop offset="0.2287" stop-color="#fc9f07"/><stop offset="0.243" stop-color="#fb9706"/><stop offset="0.2573" stop-color="#f98e09"/><stop offset="0.2716" stop-color="#f8870e"/><stop offset="0.2859" stop-color="#f68013"/><stop offset="0.3002" stop-color="#f57b17"/><stop offset="0.3136" stop-color="#f3761b"/><stop offset="0.3288" stop-color="#f06f20"/><stop offset="0.3431" stop-color="#ee6a24"/><stop offset="0.3574" stop-color="#eb6628"/><stop offset="0.3717" stop-color="#e9612b"/><stop offset="0.386" stop-color="#e75e2e"/><stop offset="0.4003" stop-color="#e45a31"/><stop offset="0.4146" stop-color="#e15635"/><stop offset="0.4289" stop-color="#df5337"/><stop offset="0.4432" stop-color="#db503b"/><stop offset="0.4575" stop-color="#d94d3d"/><stop offset="0.4718" stop-color="#d74b3f"/><stop offset="0.4861" stop-color="#d34743"/><stop offset="0.5004" stop-color="#d04545"/><stop offset="0.5147" stop-color="#ce4347"/><stop offset="0.5289" stop-color="#cb4149"/><stop offset="0.5432" stop-color="#c83f4b"/><stop offset="0.5575" stop-color="#c63d4d"/><stop offset="0.5718" stop-color="#c33b4f"/><stop offset="0.5861" stop-color="#c03a51"/><stop offset="0.5901" stop-color="#bf3952"/><stop offset="0.6004" stop-color="#bd3853"/><stop offset="0.6147" stop-color="#ba3655"/><stop offset="0.629" stop-color="#b93556"/><stop offset="0.6433" stop-color="#b63458"/><stop offset="0.6576" stop-color="#b3325a"/><stop offset="0.6719" stop-color="#b1325a"/><stop offset="0.6862" stop-color="#b0315b"/><stop offset="0.7005" stop-color="#ad305d"/><stop offset="0.7148" stop-color="#ab2f5e"/><stop offset="0.7291" stop-color="#a92e5e"/><stop offset="0.7434" stop-color="#a62d60"/><stop offset="0.7577" stop-color="#a52c60"/><stop offset="0.772" stop-color="#a32c61"/><stop offset="0.7863" stop-color="#a02a63"/><stop offset="0.8006" stop-color="#9f2a63"/><stop offset="0.8149" stop-color="#9b2964"/><stop offset="0.8292" stop-color="#9a2865"/><stop offset="0.8435" stop-color="#972766"/><stop offset="0.8578" stop-color="#932667"/><stop offset="0.8721" stop-color="#902568"/><stop offset="0.8863" stop-color="#8d2369"/><stop offset="0.8961" stop-color="#8c2369"/><stop offset="0.9006" stop-color="#8a226a"/><stop offset="0.9149" stop-color="#85216b"/><stop offset="0.9285" stop-color="#801f6c"/><stop offset="0.9435" stop-color="#7c1d6d"/><stop offset="0.9578" stop-color="#751b6e"/><stop offset="0.9721" stop-color="#67166e"/><stop offset="0.975" stop-color="#64156e"/><stop offset="0.9864" stop-color="#540f6d"/><stop offset="0.9907" stop-color="#4f0d6c"/><stop offset="1" stop-color="#450a69"/></linearGradient><linearGradient id="b5" gradientUnits="userSpaceOnUse" x1="0" y1="19.10" x2="0" y2="298.90"><stop offset="0" stop-color="#fac228"/><stop offset="0.0143" stop-color="#fac228"/><stop offset="0.0286" stop-color="#fac228"/><stop offset="0.0429" stop-color="#fac228"/><stop offset="0.0572" stop-color="#fac026"/><stop offset="0.0623" stop-color="#fac026"/><stop offset="0.0715" stop-color="#fac026"/><stop offset="0.0858" stop-color="#fac026"/><stop offset="0.1001" stop-color="#fbbe23"/><stop offset="0.1144" stop-color="#fbbe23"/><stop offset="0.1287" stop-color="#fbbc21"/><stop offset="0.1354" stop-color="#fbbc21"/><stop offset="0.143" stop-color="#fbba1f"/><stop offset="0.1557" stop-color="#fbb81d"/><stop offset="0.1716" stop-color="#fbb81d"/><stop offset="0.1858" stop-color="#fbb81d"/><stop offset="0.2001" stop-color="#fbb61a"/><stop offset="0.2022" stop-color="#fbb61a"/><stop offset="0.2129" stop-color="#fcac11"/><stop offset="0.2287" stop-color="#fca108"/><stop offset="0.243" stop-color="#fb9906"/><stop offset="0.2573" stop-color="#fa9207"/><stop offset="0.2716" stop-color="#f98b0b"/><stop offset="0.2859" stop-color="#f78410"/><stop offset="0.3002" stop-color="#f67e14"/><stop offset="0.3145" stop-color="#f37819"/><stop offset="0.322" stop-color="#f3761b"/><stop offset="0.3288" stop-color="#f1731d"/><stop offset="0.3431" stop-color="#ef6e21"/><stop offset="0.3574" stop-color="#ed6925"/><stop offset="0.3717" stop-color="#eb6429"/><stop offset="0.386" stop-color="#e8602d"/><stop offset="0.4003" stop-color="#e65d2f"/><stop offset="0.4146" stop-color="#e35933"/><stop offset="0.4289" stop-color="#e05536"/><stop offset="0.4432" stop-color="#de5238"/><stop offset="0.4575" stop-color="#da4e3c"/><stop offset="0.4718" stop-color="#d84c3e"/><stop offset="0.4861" stop-color="#d54a41"/><stop offset="0.5004" stop-color="#d24644"/><stop offset="0.5147" stop-color="#cf4446"/><stop offset="0.5289" stop-color="#cc4248"/><stop offset="0.5432" stop-color="#ca404a"/><stop offset="0.5575" stop-color="#c73e4c"/><stop offset="0.5718" stop-color="#c43c4e"/><stop offset="0.5861" stop-color="#c13a50"/><stop offset="0.5968" stop-color="#bf3952"/><stop offset="0.6004" stop-color="#bf3952"/><stop offset="0.6147" stop-color="#bc3754"/><stop offset="0.629" stop-color="#b93556"/><stop offset="0.6433" stop-color="#b73557"/><stop offset="0.6576" stop-color="#b43359"/><stop offset="0.6719" stop-color="#b3325a"/><stop offset="0.6862" stop-color="#b0315b"/><stop offset="0.7005" stop-color="#ae305c"/><stop offset="0.7148" stop-color="#ad305d"/><stop offset="0.7291" stop-color="#a92e5e"/><stop offset="0.7434" stop-color="#a82e5f"/><stop offset="0.7577" stop-color="#a62d60"/><stop offset="0.772" stop-color="#a52c60"/><stop offset="0.7863" stop-color="#a22b62"/><stop offset="0.8006" stop-color="#a02a63"/><stop offset="0.8149" stop-color="#9d2964"/><stop offset="0.8292" stop-color="#9b2964"/><stop offset="0.8435" stop-color="#982766"/><stop offset="0.8578" stop-color="#952667"/><stop offset="0.8721" stop-color="#922568"/><stop offset="0.8863" stop-color="#8f2469"/><stop offset="0.8998" stop-color="#8c2369"/><stop offset="0.9149" stop-color="#87216b"/><stop offset="0.9285" stop-color="#801f6c"/><stop offset="0.9435" stop-color="#7c1d6d"/><stop offset="0.9578" stop-color="#751b6e"/><stop offset="0.9721" stop-color="#67166e"/><stop offset="0.975" stop-color="#64156e"/><stop offset="0.9864" stop-color="#540f6d"/><stop offset="0.9907" stop-color="#4f0d6c"/><stop offset="1" stop-color="#450a69"/></linearGradient><linearGradient id="b6" gradientUnits="userSpaceOnUse" x1="0" y1="19.10" x2="0" y2="298.90"><stop offset="0" stop-color="#fbbe23"/><stop offset="0.0143" stop-color="#fbbe23"/><stop offset="0.0286" stop-color="#fbbe23"/><stop offset="0.0429" stop-color="#fbbe23"/><stop offset="0.0572" stop-color="#fbbc21"/><stop offset="0.0715" stop-color="#fbbc21"/><stop offset="0.0761" stop-color="#fbbc21"/><stop offset="0.0858" stop-color="#fbbc21"/><stop offset="0.1001" stop-color="#fbbc21"/><stop offset="0.1144" stop-color="#fbba1f"/><stop offset="0.1287" stop-color="#fbba1f"/><stop offset="0.143" stop-color="#fbba1f"/><stop offset="0.1523" stop-color="#fbb81d"/><stop offset="0.1573" stop-color="#fbb81d"/><stop offset="0.1716" stop-color="#fbb81d"/><stop offset="0.1858" stop-color="#fbb81d"/><stop offset="0.2001" stop-color="#fbb61a"/><stop offset="0.2039" stop-color="#fbb61a"/><stop offset="0.2144" stop-color="#fcac11"/><stop offset="0.2287" stop-color="#fca309"/><stop offset="0.243" stop-color="#fb9b06"/><stop offset="0.2573" stop-color="#fa9207"/><stop offset="0.2716" stop-color="#f98c0a"/><stop offset="0.2859" stop-color="#f8850f"/><stop offset="0.3002" stop-color="#f68013"/><stop offset="0.3145" stop-color="#f57b17"/><stop offset="0.3285" stop-color="#f3761b"/><stop offset="0.3431" stop-color="#f1711f"/><stop offset="0.3574" stop-color="#ef6c23"/><stop offset="0.3717" stop-color="#ec6726"/><stop offset="0.386" stop-color="#ea632a"/><stop offset="0.4003" stop-color="#e75e2e"/><stop offset="0.4146" stop-color="#e45a31"/><stop offset="0.4289" stop-color="#e25734"/><stop offset="0.4432" stop-color="#df5337"/><stop offset="0.4575" stop-color="#dd513a"/><stop offset="0.4718" stop-color="#d94d3d"/><stop offset="0.4861" stop-color="#d74b3f"/><stop offset="0.5004" stop-color="#d44842"/><stop offset="0.5147" stop-color="#d04545"/><stop offset="0.5289" stop-color="#ce4347"/><stop offset="0.5432" stop-color="#cb4149"/><stop offset="0.5575" stop-color="#c83f4b"/><stop offset="0.5718" stop-color="#c63d4d"/><stop offset="0.5861" stop-color="#c33b4f"/><stop offset="0.6004" stop-color="#c03a51"/><stop offset="0.6035" stop-color="#bf3952"/><stop offset="0.6147" stop-color="#bd3853"/><stop offset="0.629" stop-color="#ba3655"/><stop offset="0.6433" stop-color="#b73557"/><stop offset="0.6576" stop-color="#b63458"/><stop offset="0.6719" stop-color="#b3325a"/><stop offset="0.6862" stop-color="#b1325a"/><stop offset="0.7005" stop-color="#b0315b"/><stop offset="0.7148" stop-color="#ae305c"/><stop offset="0.7291" stop-color="#ab2f5e"/><stop offset="0.7434" stop-color="#a92e5e"/><stop offset="0.7577" stop-color="#a82e5f"/><stop offset="0.772" stop-color="#a52c60"/><stop offset="0.7863" stop-color="#a32c61"/><stop offset="0.8006" stop-color="#a22b62"/><stop offset="0.8149" stop-color="#9f2a63"/><stop offset="0.8292" stop-color="#9d2964"/><stop offset="0.8435" stop-color="#9a2865"/><stop offset="0.8578" stop-color="#972766"/><stop offset="0.8721" stop-color="#932667"/><stop offset="0.8863" stop-color="#902568"/><stop offset="0.9006" stop-color="#8c2369"/><stop offset="0.9035" stop-color="#8c2369"/><stop offset="0.9149" stop-color="#87216b"/><stop offset="0.9285" stop-color="#801f6c"/><stop offset="0.9435" stop-color="#7c1d6d"/><stop offset="0.9578" stop-color="#751b6e"/><stop offset="0.9721" stop-color="#67166e"/><stop offset="0.975" stop-color="#64156e"/><stop offset="0.9864" stop-color="#540f6d"/><stop offset="0.9907" stop-color="#4f0d6c"/><stop offset="1" stop-color="#450a69"/></linearGradient><linearGradient id="b7" gradientUnits="userSpaceOnUse" x1="0" y1="19.10" x2="0" y2="298.90"><stop offset="0" stop-color="#fbba1f"/><stop offset="0.0143" stop-color="#fbba1f"/><stop offset="0.0286" stop-color="#fbbc21"/><stop offset="0.0429" stop-color="#fbbc21"/><stop offset="0.0572" stop-color="#fbbc21"/><stop offset="0.0715" stop-color="#fbbc21"/><stop offset="0.0743" stop-color="#fbbc21"/><stop offset="0.0858" stop-color="#fbbc21"/><stop offset="0.1001" stop-color="#fbbc21"/><stop offset="0.1144" stop-color="#fbba1f"/><stop offset="0.1287" stop-color="#fbba1f"/><stop offset="0.143" stop-color="#fbba1f"/><stop offset="0.1487" stop-color="#fbb81d"/><stop offset="0.1573" stop-color="#fbb81d"/><stop offset="0.1716" stop-color="#fbb81d"/><stop offset="0.1858" stop-color="#fbb81d"/><stop offset="0.2001" stop-color="#fbb81d"/><stop offset="0.2055" stop-color="#fbb61a"/><stop offset="0.2144" stop-color="#fcae12"/><stop offset="0.2163" stop-color="#fcac11"/><stop offset="0.2287" stop-color="#fca50a"/><stop offset="0.243" stop-color="#fb9b06"/><stop offset="0.2573" stop-color="#fa9407"/><stop offset="0.2716" stop-color="#f98e09"/><stop offset="0.2859" stop-color="#f8870e"/><stop offset="0.3002" stop-color="#f78212"/><stop offset="0.3145" stop-color="#f57d15"/><stop offset="0.3288" stop-color="#f37819"/><stop offset="0.335" stop-color="#f3761b"/><stop offset="0.3431" stop-color="#f1731d"/><stop offset="0.3574" stop-color="#ef6e21"/><stop offset="0.3717" stop-color="#ed6925"/><stop offset="0.386" stop-color="#eb6429"/><stop offset="0.4003" stop-color="#e9612b"/><stop offset="0.4146" stop-color="#e65d2f"/><stop offset="0.4289" stop-color="#e35933"/><stop offset="0.4432" stop-color="#e15635"/><stop offset="0.4575" stop-color="#de5238"/><stop offset="0.4718" stop-color="#db503b"/><stop offset="0.4861" stop-color="#d84c3e"/><stop offset="0.5004" stop-color="#d54a41"/><stop offset="0.5147" stop-color="#d34743"/><stop offset="0.5289" stop-color="#cf4446"/><stop offset="0.5432" stop-color="#cc4248"/><stop offset="0.5575" stop-color="#ca404a"/><stop offset="0.5718" stop-color="#c73e4c"/><stop offset="0.5861" stop-color="#c43c4e"/><stop offset="0.6004" stop-color="#c13a50"/><stop offset="0.6102" stop-color="#bf3952"/><stop offset="0.6147" stop-color="#bf3952"/><stop offset="0.629" stop-color="#bc3754"/><stop offset="0.6433" stop-color="#b93556"/><stop offset="0.6576" stop-color="#b73557"/><stop offset="0.6719" stop-color="#b43359"/><stop offset="0.6862" stop-color="#b3325a"/><stop offset="0.7005" stop-color="#b1325a"/><stop offset="0.7148" stop-color="#ae305c"/><stop offset="0.7291" stop-color="#ad305d"/><stop offset="0.7434" stop-color="#ab2f5e"/><stop offset="0.7577" stop-color="#a92e5e"/><stop offset="0.772" stop-color="#a62d60"/><stop offset="0.7863" stop-color="#a52c60"/><stop offset="0.8006" stop-color="#a32c61"/><stop offset="0.8149" stop-color="#a02a63"/><stop offset="0.8292" stop-color="#9f2a63"/><stop offset="0.8435" stop-color="#9b2964"/><stop offset="0.8578" stop-color="#982766"/><stop offset="0.8721" stop-color="#952667"/><stop offset="0.8863" stop-color="#922568"/><stop offset="0.9006" stop-color="#8d2369"/><stop offset="0.9072" stop-color="#8c2369"/><stop offset="0.9149" stop-color="#88226a"/><stop offset="0.9285" stop-color="#801f6c"/><stop offset="0.9435" stop-color="#7c1d6d"/><stop offset="0.9578" stop-color="#751b6e"/><stop offset="0.9721" stop-color="#67166e"/><stop offset="0.975" stop-color="#64156e"/><stop offset="0.9864" stop-color="#540f6d"/><stop offset="0.9907" stop-color="#4f0d6c"/><stop offset="1" stop-color="#450a69"/></linearGradient><linearGradient id="b8" gradientUnits="userSpaceOnUse" x1="0" y1="19.10" x2="0" y2="298.90"><stop offset="0" stop-color="#fbb61a"/><stop offset="0.0143" stop-color="#fbb81d"/><stop offset="0.0286" stop-color="#fbba1f"/><stop offset="0.0429" stop-color="#fbbc21"/><stop offset="0.0572" stop-color="#fbbe23"/><stop offset="0.0703" stop-color="#fbbe23"/><stop offset="0.0858" stop-color="#fbbe23"/><stop offset="0.1001" stop-color="#fbbc21"/><stop offset="0.1144" stop-color="#fbba1f"/><stop offset="0.1287" stop-color="#fbba1f"/><stop offset="0.1407" stop-color="#fbb81d"/><stop offset="0.143" stop-color="#fbb81d"/><stop offset="0.1573" stop-color="#fbb81d"/><stop offset="0.1716" stop-color="#fbb81d"/><stop offset="0.1858" stop-color="#fbb81d"/><stop offset="0.2001" stop-color="#fbb81d"/><stop offset="0.2064" stop-color="#fbb61a"/><stop offset="0.2144" stop-color="#fcae12"/><stop offset="0.2171" stop-color="#fcac11"/><stop offset="0.2287" stop-color="#fca50a"/><stop offset="0.243" stop-color="#fb9d07"/><stop offset="0.2573" stop-color="#fb9606"/><stop offset="0.2716" stop-color="#f98e09"/><stop offset="0.2859" stop-color="#f8890c"/><stop offset="0.3002" stop-color="#f78410"/><stop offset="0.3145" stop-color="#f67e14"/><stop offset="0.3288" stop-color="#f47918"/><stop offset="0.3415" stop-color="#f3761b"/><stop offset="0.3574" stop-color="#f06f20"/><stop offset="0.3717" stop-color="#ef6c23"/><stop offset="0.386" stop-color="#ec6726"/><stop offset="0.4003" stop-color="#ea632a"/><stop offset="0.4146" stop-color="#e75e2e"/><stop offset="0.4289" stop-color="#e55c30"/><stop offset="0.4432" stop-color="#e25734"/><stop offset="0.4575" stop-color="#df5337"/><stop offset="0.4718" stop-color="#dd513a"/><stop offset="0.4861" stop-color="#d94d3d"/><stop offset="0.5004" stop-color="#d74b3f"/><stop offset="0.5147" stop-color="#d44842"/><stop offset="0.5289" stop-color="#d04545"/><stop offset="0.5432" stop-color="#ce4347"/><stop offset="0.5575" stop-color="#cb4149"/><stop offset="0.5718" stop-color="#c83f4b"/><stop offset="0.5861" stop-color="#c63d4d"/><stop offset="0.6004" stop-color="#c33b4f"/><stop offset="0.6147" stop-color="#c03a51"/><stop offset="0.6169" stop-color="#bf3952"/><stop offset="0.629" stop-color="#bd3853"/><stop offset="0.6433" stop-color="#ba3655"/><stop offset="0.6576" stop-color="#b73557"/><stop offset="0.6719" stop-color="#b63458"/><stop offset="0.6862" stop-color="#b43359"/><stop offset="0.7005" stop-color="#b1325a"/><stop offset="0.7148" stop-color="#b0315b"/><stop offset="0.7291" stop-color="#ae305c"/><stop offset="0.7434" stop-color="#ad305d"/><stop offset="0.7577" stop-color="#ab2f5e"/><stop offset="0.772" stop-color="#a82e5f"/><stop offset="0.7863" stop-color="#a62d60"/><stop offset="0.8006" stop-color="#a52c60"/><stop offset="0.8149" stop-color="#a22b62"/><stop offset="0.8292" stop-color="#a02a63"/><stop offset="0.8435" stop-color="#9d2964"/><stop offset="0.8578" stop-color="#9a2865"/><stop offset="0.8721" stop-color="#972766"/><stop offset="0.8863" stop-color="#932667"/><stop offset="0.9006" stop-color="#8f2469"/><stop offset="0.9108" stop-color="#8c2369"/><stop offset="0.9149" stop-color="#8a226a"/><stop offset="0.9285" stop-color="#801f6c"/><stop offset="0.9435" stop-color="#7c1d6d"/><stop offset="0.9578" stop-color="#751b6e"/><stop offset="0.9721" stop-color="#67166e"/><stop offset="0.975" stop-color="#64156e"/><stop offset="0.9864" stop-color="#540f6d"/><stop offset="0.9907" stop-color="#4f0d6c"/><stop offset="1" stop-color="#450a69"/></linearGradient><linearGradient id="b9" gradientUnits="userSpaceOnUse" x1="0" y1="19.10" x2="0" y2="298.90"><stop offset="0" stop-color="#fcb216"/><stop offset="0.0143" stop-color="#fbb81d"/><stop offset="0.0286" stop-color="#fbba1f"/><stop offset="0.0429" stop-color="#fbbe23"/><stop offset="0.0572" stop-color="#fbbe23"/><stop offset="0.0646" stop-color="#fbbe23"/><stop offset="0.0715" stop-color="#fbbe23"/><stop offset="0.0858" stop-color="#fbbe23"/><stop offset="0.1001" stop-color="#fbbc21"/><stop offset="0.1144" stop-color="#fbba1f"/><stop offset="0.1287" stop-color="#fbb81d"/><stop offset="0.143" stop-color="#fbb81d"/><stop offset="0.1573" stop-color="#fbb81d"/><stop offset="0.1716" stop-color="#fbb81d"/><stop offset="0.1858" stop-color="#fbb81d"/><stop offset="0.2001" stop-color="#fbb81d"/><stop offset="0.2072" stop-color="#fbb61a"/><stop offset="0.2144" stop-color="#fcb014"/><stop offset="0.2179" stop-color="#fcac11"/><stop offset="0.2287" stop-color="#fca60c"/><stop offset="0.243" stop-color="#fb9d07"/><stop offset="0.2573" stop-color="#fb9606"/><stop offset="0.2716" stop-color="#fa9008"/><stop offset="0.2859" stop-color="#f98b0b"/><stop offset="0.3002" stop-color="#f8850f"/><stop offset="0.3145" stop-color="#f68013"/><stop offset="0.3288" stop-color="#f57d15"/><stop offset="0.3431" stop-color="#f37819"/><stop offset="0.3481" stop-color="#f3761b"/><stop offset="0.3574" stop-color="#f1731d"/><stop offset="0.3717" stop-color="#ef6e21"/><stop offset="0.386" stop-color="#ed6925"/><stop offset="0.4003" stop-color="#eb6429"/><stop offset="0.4146" stop-color="#e9612b"/><stop offset="0.4289" stop-color="#e65d2f"/><stop offset="0.4432" stop-color="#e35933"/><stop offset="0.4575" stop-color="#e15635"/><stop offset="0.4718" stop-color="#de5238"/><stop offset="0.4861" stop-color="#db503b"/><stop offset="0.5004" stop-color="#d84c3e"/><stop offset="0.5147" stop-color="#d54a41"/><stop offset="0.5289" stop-color="#d34743"/><stop offset="0.5432" stop-color="#cf4446"/><stop offset="0.5575" stop-color="#cc4248"/><stop offset="0.5718" stop-color="#ca404a"/><stop offset="0.5861" stop-color="#c73e4c"/><stop offset="0.6004" stop-color="#c43c4e"/><stop offset="0.6147" stop-color="#c13a50"/><stop offset="0.6235" stop-color="#bf3952"/><stop offset="0.629" stop-color="#bf3952"/><stop offset="0.6433" stop-color="#bc3754"/><stop offset="0.6576" stop-color="#b93556"/><stop offset="0.6719" stop-color="#b73557"/><stop offset="0.6862" stop-color="#b43359"/><stop offset="0.7005" stop-color="#b3325a"/><stop offset="0.7148" stop-color="#b1325a"/><stop offset="0.7291" stop-color="#b0315b"/><stop offset="0.7434" stop-color="#ae305c"/><stop offset="0.7577" stop-color="#ad305d"/><stop offset="0.772" stop-color="#ab2f5e"/><stop offset="0.7863" stop-color="#a82e5f"/><stop offset="0.8006" stop-color="#a62d60"/><stop offset="0.8149" stop-color="#a52c60"/><stop offset="0.8292" stop-color="#a22b62"/><stop offset="0.8435" stop-color="#9f2a63"/><stop offset="0.8578" stop-color="#9b2964"/><stop offset="0.8721" stop-color="#982766"/><stop offset="0.8863" stop-color="#952667"/><stop offset="0.9006" stop-color="#902568"/><stop offset="0.9145" stop-color="#8c2369"/><stop offset="0.9285" stop-color="#801f6c"/><stop offset="0.9435" stop-color="#7c1d6d"/><stop offset="0.9578" stop-color="#751b6e"/><stop offset="0.9721" stop-color="#67166e"/><stop offset="0.975" stop-color="#64156e"/><stop offset="0.9864" stop-color="#540f6d"/><stop offset="0.9907" stop-color="#4f0d6c"/><stop offset="1" stop-color="#450a69"/></linearGradient><linearGradient id="c0" gradientUnits="userSpaceOnUse" x1="0" y1="374.10" x2="0" y2="653.90"><stop offset="0" stop-color="#cb4149"/><stop offset="0.0143" stop-color="#c43c4e"/><stop offset="0.026" stop-color="#bf3952"/><stop offset="0.0286" stop-color="#bf3952"/><stop offset="0.0429" stop-color="#b73557"/><stop offset="0.056" stop-color="#b3325a"/><stop offset="0.0715" stop-color="#ab2f5e"/><stop offset="0.0858" stop-color="#a52c60"/><stop offset="0.0936" stop-color="#a22b62"/><stop offset="0.1001" stop-color="#9f2a63"/><stop offset="0.1144" stop-color="#9a2865"/><stop offset="0.1287" stop-color="#932667"/><stop offset="0.143" stop-color="#8f2469"/><stop offset="0.1561" stop-color="#8c2369"/><stop offset="0.1716" stop-color="#87216b"/><stop offset="0.1858" stop-color="#84206b"/><stop offset="0.2001" stop-color="#801f6c"/><stop offset="0.2144" stop-color="#7d1e6d"/><stop offset="0.224" stop-color="#7a1d6d"/><stop offset="0.2287" stop-color="#781c6d"/><stop offset="0.243" stop-color="#751b6e"/><stop offset="0.2573" stop-color="#71196e"/><stop offset="0.2716" stop-color="#6d186e"/><stop offset="0.2859" stop-color="#69166e"/><stop offset="0.3002" stop-color="#65156e"/><stop offset="0.3145" stop-color="#61136e"/><stop offset="0.3288" stop-color="#5d126e"/><stop offset="0.3348" stop-color="#5c126e"/><stop offset="0.3431" stop-color="#5a116e"/><stop offset="0.3574" stop-color="#57106e"/><stop offset="0.3717" stop-color="#540f6d"/><stop offset="0.386" stop-color="#510e6c"/><stop offset="0.4003" stop-color="#4f0d6c"/><stop offset="0.4146" stop-color="#4c0c6b"/><stop offset="0.4289" stop-color="#4a0c6b"/><stop offset="0.4432" stop-color="#470b6a"/><stop offset="0.4456" stop-color="#470b6a"/><stop offset="0.4575" stop-color="#450a69"/><stop offset="0.4718" stop-color="#440a68"/><stop offset="0.4861" stop-color="#440a68"/><stop offset="0.5004" stop-color="#420a68"/><stop offset="0.5147" stop-color="#400a67"/><stop offset="0.5289" stop-color="#400a67"/><stop offset="0.5432" stop-color="#3e0966"/><stop offset="0.5564" stop-color="#3d0965"/><stop offset="0.5718" stop-color="#3d0965"/><stop offset="0.5861" stop-color="#3b0964"/><stop offset="0.6004" stop-color="#3b0964"/><stop offset="0.6147" stop-color="#390963"/><stop offset="0.629" stop-color="#380962"/><stop offset="0.6433" stop-color="#380962"/><stop offset="0.6576" stop-color="#380962"/><stop offset="0.6672" stop-color="#380962"/><stop offset="0.6719" stop-color="#380962"/><stop offset="0.6862" stop-color="#380962"/><stop offset="0.7005" stop-color="#380962"/><stop offset="0.7148" stop-color="#360961"/><stop offset="0.7291" stop-color="#360961"/><stop offset="0.7434" stop-color="#360961"/><stop offset="0.7577" stop-color="#360961"/><stop offset="0.772" stop-color="#360961"/><stop offset="0.7863" stop-color="#360961"/><stop offset="0.8006" stop-color="#360961"/><stop offset="0.8149" stop-color="#360961"/><stop offset="0.8292" stop-color="#360961"/><stop offset="0.8435" stop-color="#360961"/><stop offset="0.8578" stop-color="#360961"/><stop offset="0.8721" stop-color="#360961"/><stop offset="0.8863" stop-color="#360961"/><stop offset="0.9006" stop-color="#360961"/><stop offset="0.9149" stop-color="#360961"/><stop offset="0.9292" stop-color="#360961"/><stop offset="0.9435" stop-color="#360961"/><stop offset="0.9578" stop-color="#360961"/><stop offset="0.9721" stop-color="#360961"/><stop offset="0.9864" stop-color="#360961"/><stop offset="1" stop-color="#360961"/></linearGradient><linearGradient id="c1" gradientUnits="userSpaceOnUse" x1="0" y1="374.10" x2="0" y2="653.90"><stop offset="0" stop-color="#c83f4b"/><stop offset="0.0143" stop-color="#c33b4f"/><stop offset="0.0231" stop-color="#bf3952"/><stop offset="0.0286" stop-color="#bd3853"/><stop offset="0.0429" stop-color="#b73557"/><stop offset="0.0565" stop-color="#b3325a"/><stop offset="0.0715" stop-color="#ab2f5e"/><stop offset="0.0858" stop-color="#a52c60"/><stop offset="0.095" stop-color="#a22b62"/><stop offset="0.1001" stop-color="#9f2a63"/><stop offset="0.1144" stop-color="#9a2865"/><stop offset="0.1287" stop-color="#952667"/><stop offset="0.143" stop-color="#902568"/><stop offset="0.1567" stop-color="#8c2369"/><stop offset="0.1716" stop-color="#87216b"/><stop offset="0.1858" stop-color="#84206b"/><stop offset="0.2001" stop-color="#801f6c"/><stop offset="0.2144" stop-color="#7d1e6d"/><stop offset="0.2246" stop-color="#7a1d6d"/><stop offset="0.2287" stop-color="#781c6d"/><stop offset="0.243" stop-color="#751b6e"/><stop offset="0.2573" stop-color="#71196e"/><stop offset="0.2716" stop-color="#6d186e"/><stop offset="0.2859" stop-color="#69166e"/><stop offset="0.3002" stop-color="#65156e"/><stop offset="0.3145" stop-color="#61136e"/><stop offset="0.3288" stop-color="#5d126e"/><stop offset="0.3354" stop-color="#5c126e"/><stop offset="0.3431" stop-color="#5a116e"/><stop offset="0.3574" stop-color="#57106e"/><stop offset="0.3717" stop-color="#540f6d"/><stop offset="0.386" stop-color="#510e6c"/><stop offset="0.4003" stop-color="#4f0d6c"/><stop offset="0.4146" stop-color="#4c0c6b"/><stop offset="0.4289" stop-color="#4a0c6b"/><stop offset="0.4432" stop-color="#470b6a"/><stop offset="0.4462" stop-color="#470b6a"/><stop offset="0.4575" stop-color="#450a69"/><stop offset="0.4718" stop-color="#440a68"/><stop offset="0.4861" stop-color="#440a68"/><stop offset="0.5004" stop-color="#420a68"/><stop offset="0.5147" stop-color="#400a67"/><stop offset="0.5289" stop-color="#400a67"/><stop offset="0.5432" stop-color="#3e0966"/><stop offset="0.557" stop-color="#3d0965"/><stop offset="0.5718" stop-color="#3d0965"/><stop offset="0.5861" stop-color="#3b0964"/><stop offset="0.6004" stop-color="#3b0964"/><stop offset="0.6147" stop-color="#390963"/><stop offset="0.629" stop-color="#390963"/><stop offset="0.6433" stop-color="#380962"/><stop offset="0.6576" stop-color="#380962"/><stop offset="0.6678" stop-color="#380962"/><stop offset="0.6719" stop-color="#380962"/><stop offset="0.6862" stop-color="#380962"/><stop offset="0.7005" stop-color="#380962"/><stop offset="0.7148" stop-color="#360961"/><stop offset="0.7291" stop-color="#360961"/><stop offset="0.7434" stop-color="#360961"/><stop offset="0.7577" stop-color="#360961"/><stop offset="0.772" stop-color="#360961"/><stop offset="0.7863" stop-color="#360961"/><stop offset="0.8006" stop-color="#360961"/><stop offset="0.8149" stop-color="#360961"/><stop offset="0.8292" stop-color="#360961"/><stop offset="0.8435" stop-color="#360961"/><stop offset="0.8578" stop-color="#360961"/><stop offset="0.8721" stop-color="#360961"/><stop offset="0.8863" stop-color="#360961"/><stop offset="0.9006" stop-color="#360961"/><stop offset="0.9149" stop-color="#360961"/><stop offset="0.9292" stop-color="#360961"/><stop offset="0.9435" stop-color="#360961"/><stop offset="0.9578" stop-color="#360961"/><stop offset="0.9721" stop-color="#360961"/><stop offset="0.9864" stop-color="#360961"/><stop offset="1" stop-color="#360961"/></linearGradient><linearGradient id="c2" gradientUnits="userSpaceOnUse" x1="0" y1="374.10" x2="0" y2="653.90"><stop offset="0" stop-color="#c73e4c"/><stop offset="0.0143" stop-color="#c13a50"/><stop offset="0.0201" stop-color="#bf3952"/><stop offset="0.0286" stop-color="#bc3754"/><stop offset="0.0429" stop-color="#b73557"/><stop offset="0.057" stop-color="#b3325a"/><stop offset="0.0715" stop-color="#ad305d"/><stop offset="0.0858" stop-color="#a62d60"/><stop offset="0.0964" stop-color="#a22b62"/><stop offset="0.1001" stop-color="#a02a63"/><stop offset="0.1144" stop-color="#9a2865"/><stop offset="0.1287" stop-color="#952667"/><stop offset="0.143" stop-color="#902568"/><stop offset="0.1572" stop-color="#8c2369"/><stop offset="0.1716" stop-color="#87216b"/><stop offset="0.1858" stop-color="#84206b"/><stop offset="0.2001" stop-color="#801f6c"/><stop offset="0.2144" stop-color="#7d1e6d"/><stop offset="0.2252" stop-color="#7a1d6d"/><stop offset="0.2287" stop-color="#781c6d"/><stop offset="0.243" stop-color="#751b6e"/><stop offset="0.2573" stop-color="#71196e"/><stop offset="0.2716" stop-color="#6d186e"/><stop offset="0.2859" stop-color="#69166e"/><stop offset="0.3002" stop-color="#65156e"/><stop offset="0.3145" stop-color="#61136e"/><stop offset="0.3288" stop-color="#5d126e"/><stop offset="0.3359" stop-color="#5c126e"/><stop offset="0.3431" stop-color="#5a116e"/><stop offset="0.3574" stop-color="#57106e"/><stop offset="0.3717" stop-color="#540f6d"/><stop offset="0.386" stop-color="#510e6c"/><stop offset="0.4003" stop-color="#4f0d6c"/><stop offset="0.4146" stop-color="#4c0c6b"/><stop offset="0.4289" stop-color="#4a0c6b"/><stop offset="0.4432" stop-color="#470b6a"/><stop offset="0.4467" stop-color="#470b6a"/><stop offset="0.4575" stop-color="#450a69"/><stop offset="0.4718" stop-color="#450a69"/><stop offset="0.4861" stop-color="#440a68"/><stop offset="0.5004" stop-color="#420a68"/><stop offset="0.5147" stop-color="#400a67"/><stop offset="0.5289" stop-color="#400a67"/><stop offset="0.5432" stop-color="#3e0966"/><stop offset="0.5575" stop-color="#3d0965"/><stop offset="0.5718" stop-color="#3d0965"/><stop offset="0.5861" stop-color="#3b0964"/><stop offset="0.6004" stop-color="#3b0964"/><stop offset="0.6147" stop-color="#390963"/><stop offset="0.629" stop-color="#390963"/><stop offset="0.6433" stop-color="#380962"/><stop offset="0.6576" stop-color="#380962"/><stop offset="0.6683" stop-color="#380962"/><stop offset="0.6719" stop-color="#380962"/><stop offset="0.6862" stop-color="#380962"/><stop offset="0.7005" stop-color="#380962"/><stop offset="0.7148" stop-color="#360961"/><stop offset="0.7291" stop-color="#360961"/><stop offset="0.7434" stop-color="#360961"/><stop offset="0.7577" stop-color="#360961"/><stop offset="0.772" stop-color="#360961"/><stop offset="0.7863" stop-color="#360961"/><stop offset="0.8006" stop-color="#360961"/><stop offset="0.8149" stop-color="#360961"/><stop offset="0.8292" stop-color="#360961"/><stop offset="0.8435" stop-color="#360961"/><stop offset="0.8578" stop-color="#360961"/><stop offset="0.8721" stop-color="#360961"/><stop offset="0.8863" stop-color="#360961"/><stop offset="0.9006" stop-color="#360961"/><stop offset="0.9149" stop-color="#360961"/><stop offset="0.9292" stop-color="#360961"/><stop offset="0.9435" stop-color="#360961"/><stop offset="0.9578" stop-color="#360961"/><stop offset="0.9721" stop-color="#360961"/><stop offset="0.9864" stop-color="#360961"/><stop offset="1" stop-color="#360961"/></linearGradient><linearGradient id="c3" gradientUnits="userSpaceOnUse" x1="0" y1="374.10" x2="0" y2="653.90"><stop offset="0" stop-color="#c43c4e"/><stop offset="0.0143" stop-color="#c03a51"/><stop offset="0.0171" stop-color="#bf3952"/><stop offset="0.0286" stop-color="#bc3754"/><stop offset="0.0429" stop-color="#b73557"/><stop offset="0.0572" stop-color="#b3325a"/><stop offset="0.0715" stop-color="#ad305d"/><stop offset="0.0858" stop-color="#a62d60"/><stop offset="0.0977" stop-color="#a22b62"/><stop offset="0.1001" stop-color="#a02a63"/><stop offset="0.1144" stop-color="#9b2964"/><stop offset="0.1287" stop-color="#952667"/><stop offset="0.143" stop-color="#902568"/><stop offset="0.1573" stop-color="#8c2369"/><stop offset="0.1716" stop-color="#87216b"/><stop offset="0.1858" stop-color="#84206b"/><stop offset="0.2001" stop-color="#801f6c"/><stop offset="0.2144" stop-color="#7d1e6d"/><stop offset="0.2257" stop-color="#7a1d6d"/><stop offset="0.2287" stop-color="#7a1d6d"/><stop offset="0.243" stop-color="#751b6e"/><stop offset="0.2573" stop-color="#721a6e"/><stop offset="0.2716" stop-color="#6d186e"/><stop offset="0.2859" stop-color="#69166e"/><stop offset="0.3002" stop-color="#65156e"/><stop offset="0.3145" stop-color="#61136e"/><stop offset="0.3288" stop-color="#5d126e"/><stop offset="0.3365" stop-color="#5c126e"/><stop offset="0.3431" stop-color="#5a116e"/><stop offset="0.3574" stop-color="#57106e"/><stop offset="0.3717" stop-color="#540f6d"/><stop offset="0.386" stop-color="#510e6c"/><stop offset="0.4003" stop-color="#4f0d6c"/><stop offset="0.4146" stop-color="#4c0c6b"/><stop offset="0.4289" stop-color="#4a0c6b"/><stop offset="0.4432" stop-color="#470b6a"/><stop offset="0.4473" stop-color="#470b6a"/><stop offset="0.4575" stop-color="#450a69"/><stop offset="0.4718" stop-color="#450a69"/><stop offset="0.4861" stop-color="#440a68"/><stop offset="0.5004" stop-color="#420a68"/><stop offset="0.5147" stop-color="#400a67"/><stop offset="0.5289" stop-color="#400a67"/><stop offset="0.5432" stop-color="#3e0966"/><stop offset="0.5575" stop-color="#3d0965"/><stop offset="0.5718" stop-color="#3d0965"/><stop offset="0.5861" stop-color="#3b0964"/><stop offset="0.6004" stop-color="#3b0964"/><stop offset="0.6147" stop-color="#390963"/><stop offset="0.629" stop-color="#390963"/><stop offset="0.6433" stop-color="#380962"/><stop offset="0.6576" stop-color="#380962"/><stop offset="0.6689" stop-color="#380962"/><stop offset="0.6719" stop-color="#380962"/><stop offset="0.6862" stop-color="#380962"/><stop offset="0.7005" stop-color="#380962"/><stop offset="0.7148" stop-color="#360961"/><stop offset="0.7291" stop-color="#360961"/><stop offset="0.7434" stop-color="#360961"/><stop offset="0.7577" stop-color="#360961"/><stop offset="0.772" stop-color="#360961"/><stop offset="0.7863" stop-color="#360961"/><stop offset="0.8006" stop-color="#360961"/><stop offset="0.8149" stop-color="#360961"/><stop offset="0.8292" stop-color="#360961"/><stop offset="0.8435" stop-color="#360961"/><stop offset="0.8578" stop-color="#360961"/><stop offset="0.8721" stop-color="#360961"/><stop offset="0.8863" stop-color="#360961"/><stop offset="0.9006" stop-color="#360961"/><stop offset="0.9149" stop-color="#360961"/><stop offset="0.9292" stop-color="#360961"/><stop offset="0.9435" stop-color="#360961"/><stop offset="0.9578" stop-color="#360961"/><stop offset="0.9721" stop-color="#360961"/><stop offset="0.9864" stop-color="#360961"/><stop offset="1" stop-color="#360961"/></linearGradient><linearGradient id="c4" gradientUnits="userSpaceOnUse" x1="0" y1="374.10" x2="0" y2="653.90"><stop offset="0" stop-color="#c33b4f"/><stop offset="0.0141" stop-color="#bf3952"/><stop offset="0.0286" stop-color="#bc3754"/><stop offset="0.0429" stop-color="#b73557"/><stop offset="0.0572" stop-color="#b3325a"/><stop offset="0.0715" stop-color="#ad305d"/><stop offset="0.0858" stop-color="#a62d60"/><stop offset="0.0991" stop-color="#a22b62"/><stop offset="0.1144" stop-color="#9b2964"/><stop offset="0.1287" stop-color="#952667"/><stop offset="0.143" stop-color="#902568"/><stop offset="0.1573" stop-color="#8c2369"/><stop offset="0.1716" stop-color="#88226a"/><stop offset="0.1858" stop-color="#84206b"/><stop offset="0.2001" stop-color="#801f6c"/><stop offset="0.2144" stop-color="#7d1e6d"/><stop offset="0.2263" stop-color="#7a1d6d"/><stop offset="0.2287" stop-color="#7a1d6d"/><stop offset="0.243" stop-color="#751b6e"/><stop offset="0.2573" stop-color="#721a6e"/><stop offset="0.2716" stop-color="#6d186e"/><stop offset="0.2859" stop-color="#69166e"/><stop offset="0.3002" stop-color="#65156e"/><stop offset="0.3145" stop-color="#62146e"/><stop offset="0.3288" stop-color="#5d126e"/><stop offset="0.3371" stop-color="#5c126e"/><stop offset="0.3431" stop-color="#5a116e"/><stop offset="0.3574" stop-color="#57106e"/><stop offset="0.3717" stop-color="#540f6d"/><stop offset="0.386" stop-color="#520e6d"/><stop offset="0.4003" stop-color="#4f0d6c"/><stop offset="0.4146" stop-color="#4c0c6b"/><stop offset="0.4289" stop-color="#4a0c6b"/><stop offset="0.4432" stop-color="#490b6a"/><stop offset="0.4479" stop-color="#470b6a"/><stop offset="0.4575" stop-color="#450a69"/><stop offset="0.4718" stop-color="#450a69"/><stop offset="0.4861" stop-color="#440a68"/><stop offset="0.5004" stop-color="#420a68"/><stop offset="0.5147" stop-color="#400a67"/><stop offset="0.5289" stop-color="#400a67"/><stop offset="0.5432" stop-color="#3e0966"/><stop offset="0.5575" stop-color="#3d0965"/><stop offset="0.5718" stop-color="#3d0965"/><stop offset="0.5861" stop-color="#3b0964"/><stop offset="0.6004" stop-color="#3b0964"/><stop offset="0.6147" stop-color="#390963"/><stop offset="0.629" stop-color="#390963"/><stop offset="0.6433" stop-color="#380962"/><stop offset="0.6576" stop-color="#380962"/><stop offset="0.6695" stop-color="#380962"/><stop offset="0.6719" stop-color="#380962"/><stop offset="0.6862" stop-color="#380962"/><stop offset="0.7005" stop-color="#380962"/><stop offset="0.7148" stop-color="#360961"/><stop offset="0.7291" stop-color="#360961"/><stop offset="0.7434" stop-color="#360961"/><stop offset="0.7577" stop-color="#360961"/><stop offset="0.772" stop-color="#360961"/><stop offset="0.7863" stop-color="#360961"/><stop offset="0.8006" stop-color="#360961"/><stop offset="0.8149" stop-color="#360961"/><stop offset="0.8292" stop-color="#360961"/><stop offset="0.8435" stop-color="#360961"/><stop offset="0.8578" stop-color="#360961"/><stop offset="0.8721" stop-color="#360961"/><stop offset="0.8863" stop-color="#360961"/><stop offset="0.9006" stop-color="#360961"/><stop offset="0.9149" stop-color="#360961"/><stop offset="0.9292" stop-color="#360961"/><stop offset="0.9435" stop-color="#360961"/><stop offset="0.9578" stop-color="#360961"/><stop offset="0.9721" stop-color="#360961"/><stop offset="0.9864" stop-color="#360961"/><stop offset="1" stop-color="#360961"/></linearGradient><linearGradient id="c5" gradientUnits="userSpaceOnUse" x1="0" y1="374.10" x2="0" y2="653.90"><stop offset="0" stop-color="#c13a50"/><stop offset="0.0082" stop-color="#bf3952"/><stop offset="0.0143" stop-color="#bd3853"/><stop offset="0.0286" stop-color="#ba3655"/><stop offset="0.0429" stop-color="#b73557"/><stop offset="0.0572" stop-color="#b3325a"/><stop offset="0.0715" stop-color="#ad305d"/><stop offset="0.0858" stop-color="#a62d60"/><stop offset="0.0998" stop-color="#a22b62"/><stop offset="0.1144" stop-color="#9b2964"/><stop offset="0.1287" stop-color="#972766"/><stop offset="0.143" stop-color="#902568"/><stop offset="0.1573" stop-color="#8c2369"/><stop offset="0.159" stop-color="#8c2369"/><stop offset="0.1716" stop-color="#88226a"/><stop offset="0.1858" stop-color="#84206b"/><stop offset="0.2001" stop-color="#801f6c"/><stop offset="0.2144" stop-color="#7d1e6d"/><stop offset="0.2269" stop-color="#7a1d6d"/><stop offset="0.2287" stop-color="#7a1d6d"/><stop offset="0.243" stop-color="#751b6e"/><stop offset="0.2573" stop-color="#721a6e"/><stop offset="0.2716" stop-color="#6d186e"/><stop offset="0.2859" stop-color="#6a176e"/><stop offset="0.3002" stop-color="#65156e"/><stop offset="0.3145" stop-color="#62146e"/><stop offset="0.3288" stop-color="#5d126e"/><stop offset="0.3377" stop-color="#5c126e"/><stop offset="0.3431" stop-color="#5a116e"/><stop offset="0.3574" stop-color="#57106e"/><stop offset="0.3717" stop-color="#540f6d"/><stop offset="0.386" stop-color="#520e6d"/><stop offset="0.4003" stop-color="#4f0d6c"/><stop offset="0.4146" stop-color="#4c0c6b"/><stop offset="0.4289" stop-color="#4a0c6b"/><stop offset="0.4432" stop-color="#490b6a"/><stop offset="0.4484" stop-color="#470b6a"/><stop offset="0.4575" stop-color="#470b6a"/><stop offset="0.4718" stop-color="#450a69"/><stop offset="0.4861" stop-color="#440a68"/><stop offset="0.5004" stop-color="#420a68"/><stop offset="0.5147" stop-color="#400a67"/><stop offset="0.5289" stop-color="#400a67"/><stop offset="0.5432" stop-color="#3e0966"/><stop offset="0.5575" stop-color="#3d0965"/><stop offset="0.5592" stop-color="#3d0965"/><stop offset="0.5718" stop-color="#3d0965"/><stop offset="0.5861" stop-color="#3b0964"/><stop offset="0.6004" stop-color="#3b0964"/><stop offset="0.6147" stop-color="#390963"/><stop offset="0.629" stop-color="#390963"/><stop offset="0.6433" stop-color="#380962"/><stop offset="0.6576" stop-color="#380962"/><stop offset="0.67" stop-color="#380962"/><stop offset="0.6719" stop-color="#380962"/><stop offset="0.6862" stop-color="#380962"/><stop offset="0.7005" stop-color="#380962"/><stop offset="0.7148" stop-color="#360961"/><stop offset="0.7291" stop-color="#360961"/><stop offset="0.7434" stop-color="#360961"/><stop offset="0.7577" stop-color="#360961"/><stop offset="0.772" stop-color="#360961"/><stop offset="0.7863" stop-color="#360961"/><stop offset="0.8006" stop-color="#360961"/><stop offset="0.8149" stop-color="#360961"/><stop offset="0.8292" stop-color="#360961"/><stop offset="0.8435" stop-color="#360961"/><stop offset="0.8578" stop-color="#360961"/><stop offset="0.8721" stop-color="#360961"/><stop offset="0.8863" stop-color="#360961"/><stop offset="0.9006" stop-color="#360961"/><stop offset="0.9149" stop-color="#360961"/><stop offset="0.9292" stop-color="#360961"/><stop offset="0.9435" stop-color="#360961"/><stop offset="0.9578" stop-color="#360961"/><stop offset="0.9721" stop-color="#360961"/><stop offset="0.9864" stop-color="#360961"/><stop offset="1" stop-color="#360961"/></linearGradient><linearGradient id="c6" gradientUnits="userSpaceOnUse" x1="0" y1="374.10" x2="0" y2="653.90"><stop offset="0" stop-color="#bf3952"/><stop offset="0.0143" stop-color="#bd3853"/><stop offset="0.0286" stop-color="#ba3655"/><stop offset="0.0429" stop-color="#b63458"/><stop offset="0.0572" stop-color="#b3325a"/><stop offset="0.0715" stop-color="#ae305c"/><stop offset="0.0858" stop-color="#a82e5f"/><stop offset="0.1001" stop-color="#a22b62"/><stop offset="0.1144" stop-color="#9b2964"/><stop offset="0.1287" stop-color="#972766"/><stop offset="0.143" stop-color="#902568"/><stop offset="0.1573" stop-color="#8c2369"/><stop offset="0.1595" stop-color="#8c2369"/><stop offset="0.1716" stop-color="#88226a"/><stop offset="0.1858" stop-color="#84206b"/><stop offset="0.2001" stop-color="#801f6c"/><stop offset="0.2144" stop-color="#7d1e6d"/><stop offset="0.2274" stop-color="#7a1d6d"/><stop offset="0.243" stop-color="#751b6e"/><stop offset="0.2573" stop-color="#721a6e"/><stop offset="0.2716" stop-color="#6d186e"/><stop offset="0.2859" stop-color="#6a176e"/><stop offset="0.3002" stop-color="#65156e"/><stop offset="0.3145" stop-color="#62146e"/><stop offset="0.3288" stop-color="#5d126e"/><stop offset="0.3382" stop-color="#5c126e"/><stop offset="0.3431" stop-color="#5a116e"/><stop offset="0.3574" stop-color="#57106e"/><stop offset="0.3717" stop-color="#540f6d"/><stop offset="0.386" stop-color="#520e6d"/><stop offset="0.4003" stop-color="#4f0d6c"/><stop offset="0.4146" stop-color="#4c0c6b"/><stop offset="0.4289" stop-color="#4a0c6b"/><stop offset="0.4432" stop-color="#490b6a"/><stop offset="0.449" stop-color="#470b6a"/><stop offset="0.4575" stop-color="#470b6a"/><stop offset="0.4718" stop-color="#450a69"/><stop offset="0.4861" stop-color="#440a68"/><stop offset="0.5004" stop-color="#420a68"/><stop offset="0.5147" stop-color="#400a67"/><stop offset="0.5289" stop-color="#400a67"/><stop offset="0.5432" stop-color="#3e0966"/><stop offset="0.5575" stop-color="#3d0965"/><stop offset="0.5598" stop-color="#3d0965"/><stop offset="0.5718" stop-color="#3d0965"/><stop offset="0.5861" stop-color="#3b0964"/><stop offset="0.6004" stop-color="#3b0964"/><stop offset="0.6147" stop-color="#390963"/><stop offset="0.629" stop-color="#390963"/><stop offset="0.6433" stop-color="#380962"/><stop offset="0.6576" stop-color="#380962"/><stop offset="0.6706" stop-color="#380962"/><stop offset="0.6862" stop-color="#380962"/><stop offset="0.7005" stop-color="#380962"/><stop offset="0.7148" stop-color="#360961"/><stop offset="0.7291" stop-color="#360961"/><stop offset="0.7434" stop-color="#360961"/><stop offset="0.7577" stop-color="#360961"/><stop offset="0.772" stop-color="#360961"/><stop offset="0.7863" stop-color="#360961"/><stop offset="0.8006" stop-color="#360961"/><stop offset="0.8149" stop-color="#360961"/><stop offset="0.8292" stop-color="#360961"/><stop offset="0.8435" stop-color="#360961"/><stop offset="0.8578" stop-color="#360961"/><stop offset="0.8721" stop-color="#360961"/><stop offset="0.8863" stop-color="#360961"/><stop offset="0.9006" stop-color="#360961"/><stop offset="0.9149" stop-color="#360961"/><stop offset="0.9292" stop-color="#360961"/><stop offset="0.9435" stop-color="#360961"/><stop offset="0.9578" stop-color="#360961"/><stop offset="0.9721" stop-color="#360961"/><stop offset="0.9864" stop-color="#360961"/><stop offset="1" stop-color="#360961"/></linearGradient><linearGradient id="c7" gradientUnits="userSpaceOnUse" x1="0" y1="374.10" x2="0" y2="653.90"><stop offset="0" stop-color="#bc3754"/><stop offset="0.0143" stop-color="#bc3754"/><stop offset="0.0286" stop-color="#b93556"/><stop offset="0.0429" stop-color="#b63458"/><stop offset="0.0572" stop-color="#b3325a"/><stop offset="0.0589" stop-color="#b3325a"/><stop offset="0.0715" stop-color="#ae305c"/><stop offset="0.0858" stop-color="#a82e5f"/><stop offset="0.1001" stop-color="#a22b62"/><stop offset="0.1144" stop-color="#9b2964"/><stop offset="0.1287" stop-color="#972766"/><stop offset="0.143" stop-color="#902568"/><stop offset="0.1573" stop-color="#8c2369"/><stop offset="0.1599" stop-color="#8c2369"/><stop offset="0.1716" stop-color="#88226a"/><stop offset="0.1858" stop-color="#84206b"/><stop offset="0.2001" stop-color="#801f6c"/><stop offset="0.2144" stop-color="#7d1e6d"/><stop offset="0.2278" stop-color="#7a1d6d"/><stop offset="0.243" stop-color="#751b6e"/><stop offset="0.2573" stop-color="#721a6e"/><stop offset="0.2716" stop-color="#6d186e"/><stop offset="0.2859" stop-color="#6a176e"/><stop offset="0.3002" stop-color="#65156e"/><stop offset="0.3145" stop-color="#62146e"/><stop offset="0.3288" stop-color="#5d126e"/><stop offset="0.3386" stop-color="#5c126e"/><stop offset="0.3431" stop-color="#5a116e"/><stop offset="0.3574" stop-color="#57106e"/><stop offset="0.3717" stop-color="#550f6d"/><stop offset="0.386" stop-color="#520e6d"/><stop offset="0.4003" stop-color="#4f0d6c"/><stop offset="0.4146" stop-color="#4c0c6b"/><stop offset="0.4289" stop-color="#4a0c6b"/><stop offset="0.4432" stop-color="#490b6a"/><stop offset="0.4494" stop-color="#470b6a"/><stop offset="0.4575" stop-color="#470b6a"/><stop offset="0.4718" stop-color="#450a69"/><stop offset="0.4861" stop-color="#440a68"/><stop offset="0.5004" stop-color="#420a68"/><stop offset="0.5147" stop-color="#400a67"/><stop offset="0.5289" stop-color="#400a67"/><stop offset="0.5432" stop-color="#3e0966"/><stop offset="0.5575" stop-color="#3d0965"/><stop offset="0.5602" stop-color="#3d0965"/><stop offset="0.5718" stop-color="#3d0965"/><stop offset="0.5861" stop-color="#3b0964"/><stop offset="0.6004" stop-color="#3b0964"/><stop offset="0.6147" stop-color="#390963"/><stop offset="0.629" stop-color="#390963"/><stop offset="0.6433" stop-color="#380962"/><stop offset="0.6576" stop-color="#380962"/><stop offset="0.671" stop-color="#380962"/><stop offset="0.6862" stop-color="#380962"/><stop offset="0.7005" stop-color="#380962"/><stop offset="0.7148" stop-color="#360961"/><stop offset="0.7291" stop-color="#360961"/><stop offset="0.7434" stop-color="#360961"/><stop offset="0.7577" stop-color="#360961"/><stop offset="0.772" stop-color="#360961"/><stop offset="0.7863" stop-color="#360961"/><stop offset="0.8006" stop-color="#360961"/><stop offset="0.8149" stop-color="#360961"/><stop offset="0.8292" stop-color="#360961"/><stop offset="0.8435" stop-color="#360961"/><stop offset="0.8578" stop-color="#360961"/><stop offset="0.8721" stop-color="#360961"/><stop offset="0.8863" stop-color="#360961"/><stop offset="0.9006" stop-color="#360961"/><stop offset="0.9149" stop-color="#360961"/><stop offset="0.9292" stop-color="#360961"/><stop offset="0.9435" stop-color="#360961"/><stop offset="0.9578" stop-color="#360961"/><stop offset="0.9721" stop-color="#360961"/><stop offset="0.9864" stop-color="#360961"/><stop offset="1" stop-color="#360961"/></linearGradient><linearGradient id="c8" gradientUnits="userSpaceOnUse" x1="0" y1="374.10" x2="0" y2="653.90"><stop offset="0" stop-color="#ba3655"/><stop offset="0.0143" stop-color="#b93556"/><stop offset="0.0286" stop-color="#b73557"/><stop offset="0.0429" stop-color="#b63458"/><stop offset="0.0572" stop-color="#b3325a"/><stop offset="0.0592" stop-color="#b3325a"/><stop offset="0.0715" stop-color="#ae305c"/><stop offset="0.0858" stop-color="#a82e5f"/><stop offset="0.1001" stop-color="#a22b62"/><stop offset="0.1144" stop-color="#9b2964"/><stop offset="0.1287" stop-color="#972766"/><stop offset="0.143" stop-color="#922568"/><stop offset="0.1573" stop-color="#8c2369"/><stop offset="0.1603" stop-color="#8c2369"/><stop offset="0.1716" stop-color="#88226a"/><stop offset="0.1858" stop-color="#85216b"/><stop offset="0.2001" stop-color="#801f6c"/><stop offset="0.2144" stop-color="#7d1e6d"/><stop offset="0.2282" stop-color="#7a1d6d"/><stop offset="0.243" stop-color="#771c6d"/><stop offset="0.2573" stop-color="#721a6e"/><stop offset="0.2716" stop-color="#6d186e"/><stop offset="0.2859" stop-color="#6a176e"/><stop offset="0.3002" stop-color="#65156e"/><stop offset="0.3145" stop-color="#62146e"/><stop offset="0.3288" stop-color="#5f136e"/><stop offset="0.339" stop-color="#5c126e"/><stop offset="0.3431" stop-color="#5c126e"/><stop offset="0.3574" stop-color="#59106e"/><stop offset="0.3717" stop-color="#550f6d"/><stop offset="0.386" stop-color="#520e6d"/><stop offset="0.4003" stop-color="#4f0d6c"/><stop offset="0.4146" stop-color="#4c0c6b"/><stop offset="0.4289" stop-color="#4a0c6b"/><stop offset="0.4432" stop-color="#490b6a"/><stop offset="0.4498" stop-color="#470b6a"/><stop offset="0.4575" stop-color="#470b6a"/><stop offset="0.4718" stop-color="#450a69"/><stop offset="0.4861" stop-color="#440a68"/><stop offset="0.5004" stop-color="#420a68"/><stop offset="0.5147" stop-color="#400a67"/><stop offset="0.5289" stop-color="#400a67"/><stop offset="0.5432" stop-color="#3e0966"/><stop offset="0.5575" stop-color="#3e0966"/><stop offset="0.5606" stop-color="#3d0965"/><stop offset="0.5718" stop-color="#3d0965"/><stop offset="0.5861" stop-color="#3b0964"/><stop offset="0.6004" stop-color="#3b0964"/><stop offset="0.6147" stop-color="#390963"/><stop offset="0.629" stop-color="#390963"/><stop offset="0.6433" stop-color="#380962"/><stop offset="0.6576" stop-color="#380962"/><stop offset="0.6714" stop-color="#380962"/><stop offset="0.6862" stop-color="#380962"/><stop offset="0.7005" stop-color="#380962"/><stop offset="0.7148" stop-color="#360961"/><stop offset="0.7291" stop-color="#360961"/><stop offset="0.7434" stop-color="#360961"/><stop offset="0.7577" stop-color="#360961"/><stop offset="0.772" stop-color="#360961"/><stop offset="0.7863" stop-color="#360961"/><stop offset="0.8006" stop-color="#360961"/><stop offset="0.8149" stop-color="#360961"/><stop offset="0.8292" stop-color="#360961"/><stop offset="0.8435" stop-color="#360961"/><stop offset="0.8578" stop-color="#360961"/><stop offset="0.8721" stop-color="#360961"/><stop offset="0.8863" stop-color="#360961"/><stop offset="0.9006" stop-color="#360961"/><stop offset="0.9149" stop-color="#360961"/><stop offset="0.9292" stop-color="#360961"/><stop offset="0.9435" stop-color="#360961"/><stop offset="0.9578" stop-color="#360961"/><stop offset="0.9721" stop-color="#360961"/><stop offset="0.9864" stop-color="#360961"/><stop offset="1" stop-color="#360961"/></linearGradient><linearGradient id="d0" gradientUnits="userSpaceOnUse" x1="0" y1="374.10" x2="0" y2="653.90"><stop offset="0" stop-color="#c63d4d"/><stop offset="0.0143" stop-color="#c63d4d"/><stop offset="0.0286" stop-color="#c43c4e"/><stop offset="0.0429" stop-color="#c43c4e"/><stop offset="0.0572" stop-color="#c33b4f"/><stop offset="0.0715" stop-color="#c13a50"/><stop offset="0.0858" stop-color="#c03a51"/><stop offset="0.1001" stop-color="#c03a51"/><stop offset="0.1026" stop-color="#bf3952"/><stop offset="0.1144" stop-color="#bd3853"/><stop offset="0.1287" stop-color="#bc3754"/><stop offset="0.143" stop-color="#ba3655"/><stop offset="0.1573" stop-color="#b73557"/><stop offset="0.1716" stop-color="#b63458"/><stop offset="0.1858" stop-color="#b3325a"/><stop offset="0.1946" stop-color="#b3325a"/><stop offset="0.2001" stop-color="#b1325a"/><stop offset="0.2144" stop-color="#b0315b"/><stop offset="0.2287" stop-color="#ae305c"/><stop offset="0.243" stop-color="#ad305d"/><stop offset="0.2573" stop-color="#ab2f5e"/><stop offset="0.2716" stop-color="#a92e5e"/><stop offset="0.2859" stop-color="#a82e5f"/><stop offset="0.3002" stop-color="#a62d60"/><stop offset="0.3145" stop-color="#a52c60"/><stop offset="0.3288" stop-color="#a32c61"/><stop offset="0.3431" stop-color="#a22b62"/><stop offset="0.3487" stop-color="#a22b62"/><stop offset="0.3574" stop-color="#a02a63"/><stop offset="0.3717" stop-color="#9f2a63"/><stop offset="0.386" stop-color="#9f2a63"/><stop offset="0.4003" stop-color="#9d2964"/><stop offset="0.4146" stop-color="#9b2964"/><stop offset="0.4289" stop-color="#9a2865"/><stop offset="0.4432" stop-color="#9a2865"/><stop offset="0.4575" stop-color="#982766"/><stop offset="0.4718" stop-color="#972766"/><stop offset="0.4861" stop-color="#972766"/><stop offset="0.5004" stop-color="#952667"/><stop offset="0.5147" stop-color="#932667"/><stop offset="0.5289" stop-color="#922568"/><stop offset="0.5432" stop-color="#922568"/><stop offset="0.5575" stop-color="#902568"/><stop offset="0.5718" stop-color="#8f2469"/><stop offset="0.5861" stop-color="#8d2369"/><stop offset="0.6004" stop-color="#8c2369"/><stop offset="0.6036" stop-color="#8c2369"/><stop offset="0.6147" stop-color="#8a226a"/><stop offset="0.629" stop-color="#88226a"/><stop offset="0.6433" stop-color="#85216b"/><stop offset="0.6576" stop-color="#84206b"/><stop offset="0.6719" stop-color="#82206c"/><stop offset="0.6862" stop-color="#801f6c"/><stop offset="0.6929" stop-color="#7f1e6c"/><stop offset="0.7005" stop-color="#7f1e6c"/><stop offset="0.7148" stop-color="#7d1e6d"/><stop offset="0.7291" stop-color="#7d1e6d"/><stop offset="0.7434" stop-color="#7c1d6d"/><stop offset="0.7577" stop-color="#7c1d6d"/><stop offset="0.772" stop-color="#7a1d6d"/><stop offset="0.7863" stop-color="#7a1d6d"/><stop offset="0.793" stop-color="#781c6d"/><stop offset="0.8006" stop-color="#781c6d"/><stop offset="0.8149" stop-color="#771c6d"/><stop offset="0.8292" stop-color="#751b6e"/><stop offset="0.8435" stop-color="#741a6e"/><stop offset="0.8578" stop-color="#721a6e"/><stop offset="0.8721" stop-color="#71196e"/><stop offset="0.8863" stop-color="#6f196e"/><stop offset="0.9006" stop-color="#6d186e"/><stop offset="0.9149" stop-color="#6c186e"/><stop offset="0.9292" stop-color="#69166e"/><stop offset="0.9407" stop-color="#67166e"/><stop offset="0.9435" stop-color="#65156e"/><stop offset="0.9578" stop-color="#5f136e"/><stop offset="0.9671" stop-color="#5a116e"/><stop offset="0.9721" stop-color="#57106e"/><stop offset="0.9864" stop-color="#4c0c6b"/><stop offset="1" stop-color="#450a69"/></linearGradient><linearGradient id="d1" gradientUnits="userSpaceOnUse" x1="0" y1="374.10" x2="0" y2="653.90"><stop offset="0" stop-color="#c63d4d"/><stop offset="0.0143" stop-color="#c43c4e"/><stop offset="0.0286" stop-color="#c43c4e"/><stop offset="0.0429" stop-color="#c33b4f"/><stop offset="0.0572" stop-color="#c33b4f"/><stop offset="0.0715" stop-color="#c13a50"/><stop offset="0.0858" stop-color="#c03a51"/><stop offset="0.0999" stop-color="#bf3952"/><stop offset="0.1144" stop-color="#bd3853"/><stop offset="0.1287" stop-color="#bc3754"/><stop offset="0.143" stop-color="#ba3655"/><stop offset="0.1573" stop-color="#b73557"/><stop offset="0.1716" stop-color="#b63458"/><stop offset="0.1858" stop-color="#b43359"/><stop offset="0.1985" stop-color="#b3325a"/><stop offset="0.2001" stop-color="#b1325a"/><stop offset="0.2144" stop-color="#b0315b"/><stop offset="0.2287" stop-color="#ae305c"/><stop offset="0.243" stop-color="#ad305d"/><stop offset="0.2573" stop-color="#ab2f5e"/><stop offset="0.2716" stop-color="#a92e5e"/><stop offset="0.2859" stop-color="#a82e5f"/><stop offset="0.3002" stop-color="#a62d60"/><stop offset="0.3145" stop-color="#a52c60"/><stop offset="0.3288" stop-color="#a32c61"/><stop offset="0.3431" stop-color="#a22b62"/><stop offset="0.3528" stop-color="#a22b62"/><stop offset="0.3574" stop-color="#a02a63"/><stop offset="0.3717" stop-color="#a02a63"/><stop offset="0.386" stop-color="#9f2a63"/><stop offset="0.4003" stop-color="#9d2964"/><stop offset="0.4146" stop-color="#9b2964"/><stop offset="0.4289" stop-color="#9b2964"/><stop offset="0.4432" stop-color="#9a2865"/><stop offset="0.4575" stop-color="#982766"/><stop offset="0.4718" stop-color="#972766"/><stop offset="0.4861" stop-color="#972766"/><stop offset="0.5004" stop-color="#952667"/><stop offset="0.5147" stop-color="#932667"/><stop offset="0.5289" stop-color="#932667"/><stop offset="0.5432" stop-color="#922568"/><stop offset="0.5575" stop-color="#902568"/><stop offset="0.5718" stop-color="#8f2469"/><stop offset="0.5861" stop-color="#8d2369"/><stop offset="0.6004" stop-color="#8c2369"/><stop offset="0.607" stop-color="#8c2369"/><stop offset="0.6147" stop-color="#8a226a"/><stop offset="0.629" stop-color="#88226a"/><stop offset="0.6433" stop-color="#87216b"/><stop offset="0.6576" stop-color="#84206b"/><stop offset="0.6719" stop-color="#82206c"/><stop offset="0.6862" stop-color="#801f6c"/><stop offset="0.6963" stop-color="#7f1e6c"/><stop offset="0.7005" stop-color="#7f1e6c"/><stop offset="0.7148" stop-color="#7d1e6d"/><stop offset="0.7291" stop-color="#7d1e6d"/><stop offset="0.7434" stop-color="#7c1d6d"/><stop offset="0.7577" stop-color="#7c1d6d"/><stop offset="0.772" stop-color="#7a1d6d"/><stop offset="0.7863" stop-color="#7a1d6d"/><stop offset="0.7964" stop-color="#781c6d"/><stop offset="0.8006" stop-color="#781c6d"/><stop offset="0.8149" stop-color="#771c6d"/><stop offset="0.8292" stop-color="#751b6e"/><stop offset="0.8435" stop-color="#741a6e"/><stop offset="0.8578" stop-color="#721a6e"/><stop offset="0.8721" stop-color="#71196e"/><stop offset="0.8863" stop-color="#6f196e"/><stop offset="0.9006" stop-color="#6d186e"/><stop offset="0.9149" stop-color="#6c186e"/><stop offset="0.9292" stop-color="#69166e"/><stop offset="0.9407" stop-color="#67166e"/><stop offset="0.9435" stop-color="#65156e"/><stop offset="0.9578" stop-color="#5f136e"/><stop offset="0.9671" stop-color="#5a116e"/><stop offset="0.9721" stop-color="#57106e"/><stop offset="0.9864" stop-color="#4c0c6b"/><stop offset="1" stop-color="#450a69"/></linearGradient><linearGradient id="d2" gradientUnits="userSpaceOnUse" x1="0" y1="374.10" x2="0" y2="653.90"><stop offset="0" stop-color="#c43c4e"/><stop offset="0.0143" stop-color="#c43c4e"/><stop offset="0.0286" stop-color="#c33b4f"/><stop offset="0.0429" stop-color="#c33b4f"/><stop offset="0.0572" stop-color="#c13a50"/><stop offset="0.0715" stop-color="#c13a50"/><stop offset="0.0858" stop-color="#c03a51"/><stop offset="0.0952" stop-color="#bf3952"/><stop offset="0.1001" stop-color="#bf3952"/><stop offset="0.1144" stop-color="#bd3853"/><stop offset="0.1287" stop-color="#bc3754"/><stop offset="0.143" stop-color="#ba3655"/><stop offset="0.1573" stop-color="#b73557"/><stop offset="0.1716" stop-color="#b63458"/><stop offset="0.1858" stop-color="#b43359"/><stop offset="0.2001" stop-color="#b3325a"/><stop offset="0.2024" stop-color="#b3325a"/><stop offset="0.2144" stop-color="#b1325a"/><stop offset="0.2287" stop-color="#b0315b"/><stop offset="0.243" stop-color="#ae305c"/><stop offset="0.2573" stop-color="#ab2f5e"/><stop offset="0.2716" stop-color="#a92e5e"/><stop offset="0.2859" stop-color="#a82e5f"/><stop offset="0.3002" stop-color="#a62d60"/><stop offset="0.3145" stop-color="#a52c60"/><stop offset="0.3288" stop-color="#a52c60"/><stop offset="0.3431" stop-color="#a32c61"/><stop offset="0.3569" stop-color="#a22b62"/><stop offset="0.3717" stop-color="#a02a63"/><stop offset="0.386" stop-color="#9f2a63"/><stop offset="0.4003" stop-color="#9d2964"/><stop offset="0.4146" stop-color="#9b2964"/><stop offset="0.4289" stop-color="#9b2964"/><stop offset="0.4432" stop-color="#9a2865"/><stop offset="0.4575" stop-color="#982766"/><stop offset="0.4718" stop-color="#982766"/><stop offset="0.4861" stop-color="#972766"/><stop offset="0.5004" stop-color="#952667"/><stop offset="0.5147" stop-color="#932667"/><stop offset="0.5289" stop-color="#932667"/><stop offset="0.5432" stop-color="#922568"/><stop offset="0.5575" stop-color="#902568"/><stop offset="0.5718" stop-color="#8f2469"/><stop offset="0.5861" stop-color="#8d2369"/><stop offset="0.6004" stop-color="#8d2369"/><stop offset="0.6103" stop-color="#8c2369"/><stop offset="0.6147" stop-color="#8c2369"/><stop offset="0.629" stop-color="#88226a"/><stop offset="0.6433" stop-color="#87216b"/><stop offset="0.6576" stop-color="#85216b"/><stop offset="0.6719" stop-color="#82206c"/><stop offset="0.6862" stop-color="#801f6c"/><stop offset="0.6997" stop-color="#7f1e6c"/><stop offset="0.7148" stop-color="#7d1e6d"/><stop offset="0.7291" stop-color="#7d1e6d"/><stop offset="0.7434" stop-color="#7c1d6d"/><stop offset="0.7577" stop-color="#7c1d6d"/><stop offset="0.772" stop-color="#7a1d6d"/><stop offset="0.7863" stop-color="#7a1d6d"/><stop offset="0.7998" stop-color="#781c6d"/><stop offset="0.8149" stop-color="#771c6d"/><stop offset="0.8292" stop-color="#751b6e"/><stop offset="0.8435" stop-color="#741a6e"/><stop offset="0.8578" stop-color="#721a6e"/><stop offset="0.8721" stop-color="#71196e"/><stop offset="0.8863" stop-color="#6f196e"/><stop offset="0.9006" stop-color="#6d186e"/><stop offset="0.9149" stop-color="#6c186e"/><stop offset="0.9292" stop-color="#69166e"/><stop offset="0.9407" stop-color="#67166e"/><stop offset="0.9435" stop-color="#65156e"/><stop offset="0.9578" stop-color="#5f136e"/><stop offset="0.9671" stop-color="#5a116e"/><stop offset="0.9721" stop-color="#57106e"/><stop offset="0.9864" stop-color="#4c0c6b"/><stop offset="1" stop-color="#450a69"/></linearGradient><linearGradient id="d3" gradientUnits="userSpaceOnUse" x1="0" y1="374.10" x2="0" y2="653.90"><stop offset="0" stop-color="#c33b4f"/><stop offset="0.0143" stop-color="#c33b4f"/><stop offset="0.0286" stop-color="#c33b4f"/><stop offset="0.0429" stop-color="#c13a50"/><stop offset="0.0572" stop-color="#c13a50"/><stop offset="0.0715" stop-color="#c03a51"/><stop offset="0.0858" stop-color="#bf3952"/><stop offset="0.088" stop-color="#bf3952"/><stop offset="0.1001" stop-color="#bf3952"/><stop offset="0.1144" stop-color="#bd3853"/><stop offset="0.1287" stop-color="#bc3754"/><stop offset="0.143" stop-color="#ba3655"/><stop offset="0.1573" stop-color="#b93556"/><stop offset="0.1716" stop-color="#b63458"/><stop offset="0.1858" stop-color="#b43359"/><stop offset="0.2001" stop-color="#b3325a"/><stop offset="0.2064" stop-color="#b3325a"/><stop offset="0.2144" stop-color="#b1325a"/><stop offset="0.2287" stop-color="#b0315b"/><stop offset="0.243" stop-color="#ae305c"/><stop offset="0.2573" stop-color="#ad305d"/><stop offset="0.2716" stop-color="#ab2f5e"/><stop offset="0.2859" stop-color="#a92e5e"/><stop offset="0.3002" stop-color="#a82e5f"/><stop offset="0.3145" stop-color="#a62d60"/><stop offset="0.3288" stop-color="#a52c60"/><stop offset="0.3431" stop-color="#a32c61"/><stop offset="0.3574" stop-color="#a22b62"/><stop offset="0.361" stop-color="#a22b62"/><stop offset="0.3717" stop-color="#a02a63"/><stop offset="0.386" stop-color="#9f2a63"/><stop offset="0.4003" stop-color="#9d2964"/><stop offset="0.4146" stop-color="#9d2964"/><stop offset="0.4289" stop-color="#9b2964"/><stop offset="0.4432" stop-color="#9a2865"/><stop offset="0.4575" stop-color="#9a2865"/><stop offset="0.4718" stop-color="#982766"/><stop offset="0.4861" stop-color="#972766"/><stop offset="0.5004" stop-color="#952667"/><stop offset="0.5147" stop-color="#952667"/><stop offset="0.5289" stop-color="#932667"/><stop offset="0.5432" stop-color="#922568"/><stop offset="0.5575" stop-color="#902568"/><stop offset="0.5718" stop-color="#902568"/><stop offset="0.5861" stop-color="#8f2469"/><stop offset="0.6004" stop-color="#8d2369"/><stop offset="0.6137" stop-color="#8c2369"/><stop offset="0.629" stop-color="#8a226a"/><stop offset="0.6433" stop-color="#87216b"/><stop offset="0.6576" stop-color="#85216b"/><stop offset="0.6719" stop-color="#84206b"/><stop offset="0.6862" stop-color="#801f6c"/><stop offset="0.7005" stop-color="#7f1e6c"/><stop offset="0.7031" stop-color="#7f1e6c"/><stop offset="0.7148" stop-color="#7f1e6c"/><stop offset="0.7291" stop-color="#7d1e6d"/><stop offset="0.7434" stop-color="#7d1e6d"/><stop offset="0.7577" stop-color="#7c1d6d"/><stop offset="0.772" stop-color="#7c1d6d"/><stop offset="0.7863" stop-color="#7a1d6d"/><stop offset="0.8006" stop-color="#781c6d"/><stop offset="0.8032" stop-color="#781c6d"/><stop offset="0.8149" stop-color="#781c6d"/><stop offset="0.8292" stop-color="#771c6d"/><stop offset="0.8435" stop-color="#741a6e"/><stop offset="0.8578" stop-color="#721a6e"/><stop offset="0.8721" stop-color="#71196e"/><stop offset="0.8863" stop-color="#6f196e"/><stop offset="0.9006" stop-color="#6d186e"/><stop offset="0.9149" stop-color="#6c186e"/><stop offset="0.9292" stop-color="#69166e"/><stop offset="0.9407" stop-color="#67166e"/><stop offset="0.9435" stop-color="#65156e"/><stop offset="0.9578" stop-color="#5f136e"/><stop offset="0.9671" stop-color="#5a116e"/><stop offset="0.9721" stop-color="#57106e"/><stop offset="0.9864" stop-color="#4c0c6b"/><stop offset="1" stop-color="#450a69"/></linearGradient><linearGradient id="d4" gradientUnits="userSpaceOnUse" x1="0" y1="374.10" x2="0" y2="653.90"><stop offset="0" stop-color="#c13a50"/><stop offset="0.0143" stop-color="#c13a50"/><stop offset="0.0286" stop-color="#c13a50"/><stop offset="0.0429" stop-color="#c13a50"/><stop offset="0.0572" stop-color="#c03a51"/><stop offset="0.0715" stop-color="#c03a51"/><stop offset="0.0782" stop-color="#bf3952"/><stop offset="0.0858" stop-color="#bf3952"/><stop offset="0.1001" stop-color="#bd3853"/><stop offset="0.1144" stop-color="#bc3754"/><stop offset="0.1287" stop-color="#bc3754"/><stop offset="0.143" stop-color="#ba3655"/><stop offset="0.1573" stop-color="#b73557"/><stop offset="0.1716" stop-color="#b63458"/><stop offset="0.1858" stop-color="#b43359"/><stop offset="0.2001" stop-color="#b3325a"/><stop offset="0.2103" stop-color="#b3325a"/><stop offset="0.2144" stop-color="#b1325a"/><stop offset="0.2287" stop-color="#b0315b"/><stop offset="0.243" stop-color="#ae305c"/><stop offset="0.2573" stop-color="#ad305d"/><stop offset="0.2716" stop-color="#ab2f5e"/><stop offset="0.2859" stop-color="#a92e5e"/><stop offset="0.3002" stop-color="#a82e5f"/><stop offset="0.3145" stop-color="#a62d60"/><stop offset="0.3288" stop-color="#a52c60"/><stop offset="0.3431" stop-color="#a32c61"/><stop offset="0.3574" stop-color="#a22b62"/><stop offset="0.365" stop-color="#a22b62"/><stop offset="0.3717" stop-color="#a02a63"/><stop offset="0.386" stop-color="#9f2a63"/><stop offset="0.4003" stop-color="#9f2a63"/><stop offset="0.4146" stop-color="#9d2964"/><stop offset="0.4289" stop-color="#9b2964"/><stop offset="0.4432" stop-color="#9a2865"/><stop offset="0.4575" stop-color="#9a2865"/><stop offset="0.4718" stop-color="#982766"/><stop offset="0.4861" stop-color="#972766"/><stop offset="0.5004" stop-color="#972766"/><stop offset="0.5147" stop-color="#952667"/><stop offset="0.5289" stop-color="#932667"/><stop offset="0.5432" stop-color="#922568"/><stop offset="0.5575" stop-color="#922568"/><stop offset="0.5718" stop-color="#902568"/><stop offset="0.5861" stop-color="#8f2469"/><stop offset="0.6004" stop-color="#8d2369"/><stop offset="0.6147" stop-color="#8c2369"/><stop offset="0.6171" stop-color="#8c2369"/><stop offset="0.629" stop-color="#8a226a"/><stop offset="0.6433" stop-color="#88226a"/><stop offset="0.6576" stop-color="#85216b"/><stop offset="0.6719" stop-color="#84206b"/><stop offset="0.6862" stop-color="#82206c"/><stop offset="0.7005" stop-color="#801f6c"/><stop offset="0.7065" stop-color="#7f1e6c"/><stop offset="0.7148" stop-color="#7f1e6c"/><stop offset="0.7291" stop-color="#7d1e6d"/><stop offset="0.7434" stop-color="#7d1e6d"/><stop offset="0.7577" stop-color="#7c1d6d"/><stop offset="0.772" stop-color="#7c1d6d"/><stop offset="0.7863" stop-color="#7a1d6d"/><stop offset="0.8006" stop-color="#7a1d6d"/><stop offset="0.8066" stop-color="#781c6d"/><stop offset="0.8149" stop-color="#781c6d"/><stop offset="0.8292" stop-color="#771c6d"/><stop offset="0.8435" stop-color="#751b6e"/><stop offset="0.8578" stop-color="#721a6e"/><stop offset="0.8721" stop-color="#71196e"/><stop offset="0.8863" stop-color="#6f196e"/><stop offset="0.9006" stop-color="#6d186e"/><stop offset="0.9149" stop-color="#6c186e"/><stop offset="0.9292" stop-color="#69166e"/><stop offset="0.9407" stop-color="#67166e"/><stop offset="0.9435" stop-color="#65156e"/><stop offset="0.9578" stop-color="#5f136e"/><stop offset="0.9671" stop-color="#5a116e"/><stop offset="0.9721" stop-color="#57106e"/><stop offset="0.9864" stop-color="#4c0c6b"/><stop offset="1" stop-color="#450a69"/></linearGradient><linearGradient id="d5" gradientUnits="userSpaceOnUse" x1="0" y1="374.10" x2="0" y2="653.90"><stop offset="0" stop-color="#c13a50"/><stop offset="0.0143" stop-color="#c13a50"/><stop offset="0.0286" stop-color="#c03a51"/><stop offset="0.0429" stop-color="#c03a51"/><stop offset="0.0572" stop-color="#c03a51"/><stop offset="0.0631" stop-color="#bf3952"/><stop offset="0.0715" stop-color="#bf3952"/><stop offset="0.0858" stop-color="#bd3853"/><stop offset="0.1001" stop-color="#bd3853"/><stop offset="0.1144" stop-color="#bc3754"/><stop offset="0.1287" stop-color="#ba3655"/><stop offset="0.143" stop-color="#b93556"/><stop offset="0.1573" stop-color="#b73557"/><stop offset="0.1716" stop-color="#b63458"/><stop offset="0.1858" stop-color="#b43359"/><stop offset="0.2001" stop-color="#b3325a"/><stop offset="0.2142" stop-color="#b3325a"/><stop offset="0.2287" stop-color="#b1325a"/><stop offset="0.243" stop-color="#b0315b"/><stop offset="0.2573" stop-color="#ae305c"/><stop offset="0.2716" stop-color="#ad305d"/><stop offset="0.2859" stop-color="#ab2f5e"/><stop offset="0.3002" stop-color="#a82e5f"/><stop offset="0.3145" stop-color="#a62d60"/><stop offset="0.3288" stop-color="#a52c60"/><stop offset="0.3431" stop-color="#a32c61"/><stop offset="0.3574" stop-color="#a32c61"/><stop offset="0.3691" stop-color="#a22b62"/><stop offset="0.3717" stop-color="#a22b62"/><stop offset="0.386" stop-color="#a02a63"/><stop offset="0.4003" stop-color="#9f2a63"/><stop offset="0.4146" stop-color="#9d2964"/><stop offset="0.4289" stop-color="#9b2964"/><stop offset="0.4432" stop-color="#9b2964"/><stop offset="0.4575" stop-color="#9a2865"/><stop offset="0.4718" stop-color="#982766"/><stop offset="0.4861" stop-color="#972766"/><stop offset="0.5004" stop-color="#972766"/><stop offset="0.5147" stop-color="#952667"/><stop offset="0.5289" stop-color="#932667"/><stop offset="0.5432" stop-color="#932667"/><stop offset="0.5575" stop-color="#922568"/><stop offset="0.5718" stop-color="#902568"/><stop offset="0.5861" stop-color="#8f2469"/><stop offset="0.6004" stop-color="#8d2369"/><stop offset="0.6147" stop-color="#8c2369"/><stop offset="0.6205" stop-color="#8c2369"/><stop offset="0.629" stop-color="#8a226a"/><stop offset="0.6433" stop-color="#88226a"/><stop offset="0.6576" stop-color="#87216b"/><stop offset="0.6719" stop-color="#84206b"/><stop offset="0.6862" stop-color="#82206c"/><stop offset="0.7005" stop-color="#801f6c"/><stop offset="0.7099" stop-color="#7f1e6c"/><stop offset="0.7148" stop-color="#7f1e6c"/><stop offset="0.7291" stop-color="#7d1e6d"/><stop offset="0.7434" stop-color="#7d1e6d"/><stop offset="0.7577" stop-color="#7c1d6d"/><stop offset="0.772" stop-color="#7c1d6d"/><stop offset="0.7863" stop-color="#7a1d6d"/><stop offset="0.8006" stop-color="#7a1d6d"/><stop offset="0.81" stop-color="#781c6d"/><stop offset="0.8149" stop-color="#781c6d"/><stop offset="0.8292" stop-color="#771c6d"/><stop offset="0.8435" stop-color="#751b6e"/><stop offset="0.8578" stop-color="#721a6e"/><stop offset="0.8721" stop-color="#71196e"/><stop offset="0.8863" stop-color="#6f196e"/><stop offset="0.9006" stop-color="#6d186e"/><stop offset="0.9149" stop-color="#6c186e"/><stop offset="0.9292" stop-color="#69166e"/><stop offset="0.9407" stop-color="#67166e"/><stop offset="0.9435" stop-color="#65156e"/><stop offset="0.9578" stop-color="#5f136e"/><stop offset="0.9671" stop-color="#5a116e"/><stop offset="0.9721" stop-color="#57106e"/><stop offset="0.9864" stop-color="#4c0c6b"/><stop offset="1" stop-color="#450a69"/></linearGradient><linearGradient id="d6" gradientUnits="userSpaceOnUse" x1="0" y1="374.10" x2="0" y2="653.90"><stop offset="0" stop-color="#c03a51"/><stop offset="0.0143" stop-color="#c03a51"/><stop offset="0.0286" stop-color="#c03a51"/><stop offset="0.0426" stop-color="#bf3952"/><stop offset="0.0572" stop-color="#bf3952"/><stop offset="0.0715" stop-color="#bf3952"/><stop offset="0.0858" stop-color="#bd3853"/><stop offset="0.1001" stop-color="#bc3754"/><stop offset="0.1144" stop-color="#bc3754"/><stop offset="0.1287" stop-color="#ba3655"/><stop offset="0.143" stop-color="#b93556"/><stop offset="0.1573" stop-color="#b73557"/><stop offset="0.1716" stop-color="#b63458"/><stop offset="0.1858" stop-color="#b43359"/><stop offset="0.2001" stop-color="#b43359"/><stop offset="0.2144" stop-color="#b3325a"/><stop offset="0.2181" stop-color="#b3325a"/><stop offset="0.2287" stop-color="#b1325a"/><stop offset="0.243" stop-color="#b0315b"/><stop offset="0.2573" stop-color="#ae305c"/><stop offset="0.2716" stop-color="#ad305d"/><stop offset="0.2859" stop-color="#ab2f5e"/><stop offset="0.3002" stop-color="#a92e5e"/><stop offset="0.3145" stop-color="#a82e5f"/><stop offset="0.3288" stop-color="#a62d60"/><stop offset="0.3431" stop-color="#a52c60"/><stop offset="0.3574" stop-color="#a32c61"/><stop offset="0.3717" stop-color="#a22b62"/><stop offset="0.386" stop-color="#a02a63"/><stop offset="0.4003" stop-color="#9f2a63"/><stop offset="0.4146" stop-color="#9d2964"/><stop offset="0.4289" stop-color="#9d2964"/><stop offset="0.4432" stop-color="#9b2964"/><stop offset="0.4575" stop-color="#9a2865"/><stop offset="0.4718" stop-color="#982766"/><stop offset="0.4861" stop-color="#982766"/><stop offset="0.5004" stop-color="#972766"/><stop offset="0.5147" stop-color="#952667"/><stop offset="0.5289" stop-color="#932667"/><stop offset="0.5432" stop-color="#932667"/><stop offset="0.5575" stop-color="#922568"/><stop offset="0.5718" stop-color="#902568"/><stop offset="0.5861" stop-color="#8f2469"/><stop offset="0.6004" stop-color="#8d2369"/><stop offset="0.6147" stop-color="#8c2369"/><stop offset="0.6239" stop-color="#8c2369"/><stop offset="0.629" stop-color="#8a226a"/><stop offset="0.6433" stop-color="#88226a"/><stop offset="0.6576" stop-color="#87216b"/><stop offset="0.6719" stop-color="#85216b"/><stop offset="0.6862" stop-color="#82206c"/><stop offset="0.7005" stop-color="#801f6c"/><stop offset="0.7133" stop-color="#7f1e6c"/><stop offset="0.7291" stop-color="#7d1e6d"/><stop offset="0.7434" stop-color="#7d1e6d"/><stop offset="0.7577" stop-color="#7c1d6d"/><stop offset="0.772" stop-color="#7c1d6d"/><stop offset="0.7863" stop-color="#7a1d6d"/><stop offset="0.8006" stop-color="#7a1d6d"/><stop offset="0.8133" stop-color="#781c6d"/><stop offset="0.8292" stop-color="#771c6d"/><stop offset="0.8435" stop-color="#751b6e"/><stop offset="0.8578" stop-color="#741a6e"/><stop offset="0.8721" stop-color="#71196e"/><stop offset="0.8863" stop-color="#6f196e"/><stop offset="0.9006" stop-color="#6d186e"/><stop offset="0.9149" stop-color="#6c186e"/><stop offset="0.9292" stop-color="#69166e"/><stop offset="0.9407" stop-color="#67166e"/><stop offset="0.9435" stop-color="#65156e"/><stop offset="0.9578" stop-color="#5f136e"/><stop offset="0.9671" stop-color="#5a116e"/><stop offset="0.9721" stop-color="#57106e"/><stop offset="0.9864" stop-color="#4c0c6b"/><stop offset="1" stop-color="#450a69"/></linearGradient><linearGradient id="d7" gradientUnits="userSpaceOnUse" x1="0" y1="374.10" x2="0" y2="653.90"><stop offset="0" stop-color="#bf3952"/><stop offset="0.0143" stop-color="#bf3952"/><stop offset="0.0286" stop-color="#bf3952"/><stop offset="0.0429" stop-color="#bd3853"/><stop offset="0.0572" stop-color="#bd3853"/><stop offset="0.0715" stop-color="#bc3754"/><stop offset="0.0858" stop-color="#bc3754"/><stop offset="0.1001" stop-color="#ba3655"/><stop offset="0.1144" stop-color="#b93556"/><stop offset="0.1287" stop-color="#b93556"/><stop offset="0.143" stop-color="#b73557"/><stop offset="0.1573" stop-color="#b73557"/><stop offset="0.1716" stop-color="#b63458"/><stop offset="0.1858" stop-color="#b43359"/><stop offset="0.2001" stop-color="#b43359"/><stop offset="0.2144" stop-color="#b3325a"/><stop offset="0.2199" stop-color="#b3325a"/><stop offset="0.2287" stop-color="#b1325a"/><stop offset="0.243" stop-color="#b0315b"/><stop offset="0.2573" stop-color="#ae305c"/><stop offset="0.2716" stop-color="#ad305d"/><stop offset="0.2859" stop-color="#ab2f5e"/><stop offset="0.3002" stop-color="#a92e5e"/><stop offset="0.3145" stop-color="#a82e5f"/><stop offset="0.3288" stop-color="#a62d60"/><stop offset="0.3431" stop-color="#a52c60"/><stop offset="0.3574" stop-color="#a32c61"/><stop offset="0.3717" stop-color="#a22b62"/><stop offset="0.3774" stop-color="#a22b62"/><stop offset="0.386" stop-color="#a02a63"/><stop offset="0.4003" stop-color="#9f2a63"/><stop offset="0.4146" stop-color="#9f2a63"/><stop offset="0.4289" stop-color="#9d2964"/><stop offset="0.4432" stop-color="#9b2964"/><stop offset="0.4575" stop-color="#9a2865"/><stop offset="0.4718" stop-color="#9a2865"/><stop offset="0.4861" stop-color="#982766"/><stop offset="0.5004" stop-color="#972766"/><stop offset="0.5147" stop-color="#952667"/><stop offset="0.5289" stop-color="#952667"/><stop offset="0.5432" stop-color="#932667"/><stop offset="0.5575" stop-color="#922568"/><stop offset="0.5718" stop-color="#902568"/><stop offset="0.5861" stop-color="#902568"/><stop offset="0.6004" stop-color="#8f2469"/><stop offset="0.6147" stop-color="#8d2369"/><stop offset="0.6273" stop-color="#8c2369"/><stop offset="0.629" stop-color="#8c2369"/><stop offset="0.6433" stop-color="#8a226a"/><stop offset="0.6576" stop-color="#87216b"/><stop offset="0.6719" stop-color="#85216b"/><stop offset="0.6862" stop-color="#82206c"/><stop offset="0.7005" stop-color="#801f6c"/><stop offset="0.7148" stop-color="#7f1e6c"/><stop offset="0.7167" stop-color="#7f1e6c"/><stop offset="0.7291" stop-color="#7f1e6c"/><stop offset="0.7434" stop-color="#7d1e6d"/><stop offset="0.7577" stop-color="#7d1e6d"/><stop offset="0.772" stop-color="#7c1d6d"/><stop offset="0.7863" stop-color="#7c1d6d"/><stop offset="0.8006" stop-color="#7a1d6d"/><stop offset="0.8149" stop-color="#781c6d"/><stop offset="0.8167" stop-color="#781c6d"/><stop offset="0.8292" stop-color="#771c6d"/><stop offset="0.8435" stop-color="#751b6e"/><stop offset="0.8578" stop-color="#741a6e"/><stop offset="0.8721" stop-color="#71196e"/><stop offset="0.8863" stop-color="#6f196e"/><stop offset="0.9006" stop-color="#6d186e"/><stop offset="0.9149" stop-color="#6c186e"/><stop offset="0.9292" stop-color="#69166e"/><stop offset="0.9407" stop-color="#67166e"/><stop offset="0.9435" stop-color="#65156e"/><stop offset="0.9578" stop-color="#5f136e"/><stop offset="0.9671" stop-color="#5a116e"/><stop offset="0.9721" stop-color="#57106e"/><stop offset="0.9864" stop-color="#4c0c6b"/><stop offset="1" stop-color="#450a69"/></linearGradient><linearGradient id="d8" gradientUnits="userSpaceOnUse" x1="0" y1="374.10" x2="0" y2="653.90"><stop offset="0" stop-color="#bd3853"/><stop offset="0.0143" stop-color="#bd3853"/><stop offset="0.0286" stop-color="#bd3853"/><stop offset="0.0429" stop-color="#bd3853"/><stop offset="0.0572" stop-color="#bc3754"/><stop offset="0.0715" stop-color="#bc3754"/><stop offset="0.0858" stop-color="#ba3655"/><stop offset="0.1001" stop-color="#ba3655"/><stop offset="0.1144" stop-color="#b93556"/><stop offset="0.1287" stop-color="#b93556"/><stop offset="0.143" stop-color="#b73557"/><stop offset="0.1573" stop-color="#b63458"/><stop offset="0.1716" stop-color="#b63458"/><stop offset="0.1858" stop-color="#b43359"/><stop offset="0.2001" stop-color="#b43359"/><stop offset="0.2144" stop-color="#b3325a"/><stop offset="0.2207" stop-color="#b3325a"/><stop offset="0.2287" stop-color="#b1325a"/><stop offset="0.243" stop-color="#b0315b"/><stop offset="0.2573" stop-color="#ae305c"/><stop offset="0.2716" stop-color="#ae305c"/><stop offset="0.2859" stop-color="#ad305d"/><stop offset="0.3002" stop-color="#a92e5e"/><stop offset="0.3145" stop-color="#a82e5f"/><stop offset="0.3288" stop-color="#a62d60"/><stop offset="0.3431" stop-color="#a52c60"/><stop offset="0.3574" stop-color="#a32c61"/><stop offset="0.3717" stop-color="#a22b62"/><stop offset="0.3815" stop-color="#a22b62"/><stop offset="0.386" stop-color="#a02a63"/><stop offset="0.4003" stop-color="#a02a63"/><stop offset="0.4146" stop-color="#9f2a63"/><stop offset="0.4289" stop-color="#9d2964"/><stop offset="0.4432" stop-color="#9b2964"/><stop offset="0.4575" stop-color="#9b2964"/><stop offset="0.4718" stop-color="#9a2865"/><stop offset="0.4861" stop-color="#982766"/><stop offset="0.5004" stop-color="#972766"/><stop offset="0.5147" stop-color="#972766"/><stop offset="0.5289" stop-color="#952667"/><stop offset="0.5432" stop-color="#932667"/><stop offset="0.5575" stop-color="#922568"/><stop offset="0.5718" stop-color="#922568"/><stop offset="0.5861" stop-color="#902568"/><stop offset="0.6004" stop-color="#8f2469"/><stop offset="0.6147" stop-color="#8d2369"/><stop offset="0.629" stop-color="#8c2369"/><stop offset="0.6307" stop-color="#8c2369"/><stop offset="0.6433" stop-color="#8a226a"/><stop offset="0.6576" stop-color="#88226a"/><stop offset="0.6719" stop-color="#85216b"/><stop offset="0.6862" stop-color="#84206b"/><stop offset="0.7005" stop-color="#82206c"/><stop offset="0.7148" stop-color="#801f6c"/><stop offset="0.7201" stop-color="#7f1e6c"/><stop offset="0.7291" stop-color="#7f1e6c"/><stop offset="0.7434" stop-color="#7d1e6d"/><stop offset="0.7577" stop-color="#7d1e6d"/><stop offset="0.772" stop-color="#7c1d6d"/><stop offset="0.7863" stop-color="#7c1d6d"/><stop offset="0.8006" stop-color="#7a1d6d"/><stop offset="0.8149" stop-color="#7a1d6d"/><stop offset="0.8201" stop-color="#781c6d"/><stop offset="0.8292" stop-color="#781c6d"/><stop offset="0.8435" stop-color="#751b6e"/><stop offset="0.8578" stop-color="#741a6e"/><stop offset="0.8721" stop-color="#71196e"/><stop offset="0.8863" stop-color="#6f196e"/><stop offset="0.9006" stop-color="#6d186e"/><stop offset="0.9149" stop-color="#6c186e"/><stop offset="0.9292" stop-color="#69166e"/><stop offset="0.9407" stop-color="#67166e"/><stop offset="0.9435" stop-color="#65156e"/><stop offset="0.9578" stop-color="#5f136e"/><stop offset="0.9671" stop-color="#5a116e"/><stop offset="0.9721" stop-color="#57106e"/><stop offset="0.9864" stop-color="#4c0c6b"/><stop offset="1" stop-color="#450a69"/></linearGradient><linearGradient id="d9" gradientUnits="userSpaceOnUse" x1="0" y1="374.10" x2="0" y2="653.90"><stop offset="0" stop-color="#bd3853"/><stop offset="0.0143" stop-color="#bc3754"/><stop offset="0.0286" stop-color="#bc3754"/><stop offset="0.0429" stop-color="#bc3754"/><stop offset="0.0572" stop-color="#bc3754"/><stop offset="0.0715" stop-color="#ba3655"/><stop offset="0.0858" stop-color="#ba3655"/><stop offset="0.1001" stop-color="#b93556"/><stop offset="0.1144" stop-color="#b93556"/><stop offset="0.1287" stop-color="#b73557"/><stop offset="0.143" stop-color="#b73557"/><stop offset="0.1573" stop-color="#b63458"/><stop offset="0.1716" stop-color="#b63458"/><stop offset="0.1858" stop-color="#b43359"/><stop offset="0.2001" stop-color="#b3325a"/><stop offset="0.2144" stop-color="#b3325a"/><stop offset="0.2215" stop-color="#b3325a"/><stop offset="0.2287" stop-color="#b1325a"/><stop offset="0.243" stop-color="#b0315b"/><stop offset="0.2573" stop-color="#b0315b"/><stop offset="0.2716" stop-color="#ae305c"/><stop offset="0.2859" stop-color="#ad305d"/><stop offset="0.3002" stop-color="#ab2f5e"/><stop offset="0.3145" stop-color="#a92e5e"/><stop offset="0.3288" stop-color="#a82e5f"/><stop offset="0.3431" stop-color="#a62d60"/><stop offset="0.3574" stop-color="#a52c60"/><stop offset="0.3717" stop-color="#a32c61"/><stop offset="0.3857" stop-color="#a22b62"/><stop offset="0.4003" stop-color="#a02a63"/><stop offset="0.4146" stop-color="#9f2a63"/><stop offset="0.4289" stop-color="#9d2964"/><stop offset="0.4432" stop-color="#9d2964"/><stop offset="0.4575" stop-color="#9b2964"/><stop offset="0.4718" stop-color="#9a2865"/><stop offset="0.4861" stop-color="#982766"/><stop offset="0.5004" stop-color="#982766"/><stop offset="0.5147" stop-color="#972766"/><stop offset="0.5289" stop-color="#952667"/><stop offset="0.5432" stop-color="#932667"/><stop offset="0.5575" stop-color="#932667"/><stop offset="0.5718" stop-color="#922568"/><stop offset="0.5861" stop-color="#902568"/><stop offset="0.6004" stop-color="#8f2469"/><stop offset="0.6147" stop-color="#8d2369"/><stop offset="0.629" stop-color="#8c2369"/><stop offset="0.6341" stop-color="#8c2369"/><stop offset="0.6433" stop-color="#8a226a"/><stop offset="0.6576" stop-color="#88226a"/><stop offset="0.6719" stop-color="#87216b"/><stop offset="0.6862" stop-color="#84206b"/><stop offset="0.7005" stop-color="#82206c"/><stop offset="0.7148" stop-color="#801f6c"/><stop offset="0.7235" stop-color="#7f1e6c"/><stop offset="0.7291" stop-color="#7f1e6c"/><stop offset="0.7434" stop-color="#7d1e6d"/><stop offset="0.7577" stop-color="#7d1e6d"/><stop offset="0.772" stop-color="#7c1d6d"/><stop offset="0.7863" stop-color="#7c1d6d"/><stop offset="0.8006" stop-color="#7a1d6d"/><stop offset="0.8149" stop-color="#7a1d6d"/><stop offset="0.8235" stop-color="#781c6d"/><stop offset="0.8292" stop-color="#781c6d"/><stop offset="0.8435" stop-color="#771c6d"/><stop offset="0.8578" stop-color="#741a6e"/><stop offset="0.8721" stop-color="#71196e"/><stop offset="0.8863" stop-color="#6f196e"/><stop offset="0.9006" stop-color="#6d186e"/><stop offset="0.9149" stop-color="#6c186e"/><stop offset="0.9292" stop-color="#69166e"/><stop offset="0.9407" stop-color="#67166e"/><stop offset="0.9435" stop-color="#65156e"/><stop offset="0.9578" stop-color="#5f136e"/><stop offset="0.9671" stop-color="#5a116e"/><stop offset="0.9721" stop-color="#57106e"/><stop offset="0.9864" stop-color="#4c0c6b"/><stop offset="1" stop-color="#450a69"/></linearGradient><clipPath id="cpa"><rect x="55.7" y="19.1" width="276.9" height="279.8"/></clipPath><clipPath id="cpb"><rect x="376.3" y="19.1" width="280.0" height="279.8"/></clipPath><clipPath id="cpc"><rect x="55.7" y="374.1" width="276.9" height="279.8"/></clipPath><clipPath id="cpd"><rect x="376.3" y="374.1" width="280.0" height="279.8"/></clipPath><linearGradient id="cb" x1="0" y1="0" x2="0" y2="1"><stop offset="0.0000" stop-color="#fcffa4"/><stop offset="0.0208" stop-color="#f5f992"/><stop offset="0.0417" stop-color="#f2f27d"/><stop offset="0.0625" stop-color="#f2ea69"/><stop offset="0.0833" stop-color="#f4df53"/><stop offset="0.1042" stop-color="#f6d543"/><stop offset="0.1250" stop-color="#f9cb35"/><stop offset="0.1458" stop-color="#fac026"/><stop offset="0.1667" stop-color="#fbb61a"/><stop offset="0.1875" stop-color="#fcac11"/><stop offset="0.2083" stop-color="#fca108"/><stop offset="0.2292" stop-color="#fb9706"/><stop offset="0.2500" stop-color="#f98e09"/><stop offset="0.2708" stop-color="#f78410"/><stop offset="0.2917" stop-color="#f57b17"/><stop offset="0.3125" stop-color="#f1731d"/><stop offset="0.3333" stop-color="#ed6925"/><stop offset="0.3542" stop-color="#e9612b"/><stop offset="0.3750" stop-color="#e45a31"/><stop offset="0.3958" stop-color="#de5238"/><stop offset="0.4167" stop-color="#d84c3e"/><stop offset="0.4375" stop-color="#d24644"/><stop offset="0.4583" stop-color="#ca404a"/><stop offset="0.4792" stop-color="#c33b4f"/><stop offset="0.5000" stop-color="#bc3754"/><stop offset="0.5208" stop-color="#b3325a"/><stop offset="0.5417" stop-color="#ab2f5e"/><stop offset="0.5625" stop-color="#a32c61"/><stop offset="0.5833" stop-color="#9a2865"/><stop offset="0.6042" stop-color="#922568"/><stop offset="0.6250" stop-color="#8a226a"/><stop offset="0.6458" stop-color="#801f6c"/><stop offset="0.6667" stop-color="#781c6d"/><stop offset="0.6875" stop-color="#71196e"/><stop offset="0.7083" stop-color="#67166e"/><stop offset="0.7292" stop-color="#5f136e"/><stop offset="0.7500" stop-color="#57106e"/><stop offset="0.7708" stop-color="#4d0d6c"/><stop offset="0.7917" stop-color="#450a69"/><stop offset="0.8125" stop-color="#3d0965"/><stop offset="0.8333" stop-color="#320a5e"/><stop offset="0.8542" stop-color="#290b55"/><stop offset="0.8750" stop-color="#210c4a"/><stop offset="0.8958" stop-color="#180c3c"/><stop offset="0.9167" stop-color="#110a30"/><stop offset="0.9375" stop-color="#0b0724"/><stop offset="0.9583" stop-color="#050417"/><stop offset="0.9792" stop-color="#02020c"/><stop offset="1.0000" stop-color="#000004"/></linearGradient></defs><rect width="760" height="703" fill="#fff"/><g filter="url(#hb)" clip-path="url(#cpa)">
<rect x="10.70" y="17.10" width="76.37" height="283.80" fill="url(#a0)"/>
<rect x="86.47" y="17.10" width="31.37" height="283.80" fill="url(#a1)"/>
<rect x="117.23" y="17.10" width="31.37" height="283.80" fill="url(#a2)"/>
<rect x="148.00" y="17.10" width="31.37" height="283.80" fill="url(#a3)"/>
<rect x="178.77" y="17.10" width="31.37" height="283.80" fill="url(#a4)"/>
<rect x="209.53" y="17.10" width="31.37" height="283.80" fill="url(#a5)"/>
<rect x="240.30" y="17.10" width="31.37" height="283.80" fill="url(#a6)"/>
<rect x="271.07" y="17.10" width="31.37" height="283.80" fill="url(#a7)"/>
<rect x="301.83" y="17.10" width="75.77" height="283.80" fill="url(#a8)"/>
</g>
<g filter="url(#hb)" clip-path="url(#cpb)">
<rect x="331.30" y="17.10" width="73.60" height="283.80" fill="url(#b0)"/>
<rect x="404.30" y="17.10" width="28.60" height="283.80" fill="url(#b1)"/>
<rect x="432.30" y="17.10" width="28.60" height="283.80" fill="url(#b2)"/>
<rect x="460.30" y="17.10" width="28.60" height="283.80" fill="url(#b3)"/>
<rect x="488.30" y="17.10" width="28.60" height="283.80" fill="url(#b4)"/>
<rect x="516.30" y="17.10" width="28.60" height="283.80" fill="url(#b5)"/>
<rect x="544.30" y="17.10" width="28.60" height="283.80" fill="url(#b6)"/>
<rect x="572.30" y="17.10" width="28.60" height="283.80" fill="url(#b7)"/>
<rect x="600.30" y="17.10" width="28.60" height="283.80" fill="url(#b8)"/>
<rect x="628.30" y="17.10" width="73.00" height="283.80" fill="url(#b9)"/>
</g>
<g filter="url(#hb)" clip-path="url(#cpc)">
<rect x="10.70" y="372.10" width="76.37" height="283.80" fill="url(#c0)"/>
<rect x="86.47" y="372.10" width="31.37" height="283.80" fill="url(#c1)"/>
<rect x="117.23" y="372.10" width="31.37" height="283.80" fill="url(#c2)"/>
<rect x="148.00" y="372.10" width="31.37" height="283.80" fill="url(#c3)"/>
<rect x="178.77" y="372.10" width="31.37" height="283.80" fill="url(#c4)"/>
<rect x="209.53" y="372.10" width="31.37" height="283.80" fill="url(#c5)"/>
<rect x="240.30" y="372.10" width="31.37" height="283.80" fill="url(#c6)"/>
<rect x="271.07" y="372.10" width="31.37" height="283.80" fill="url(#c7)"/>
<rect x="301.83" y="372.10" width="75.77" height="283.80" fill="url(#c8)"/>
</g>
<g filter="url(#hb)" clip-path="url(#cpd)">
<rect x="331.30" y="372.10" width="73.60" height="283.80" fill="url(#d0)"/>
<rect x="404.30" y="372.10" width="28.60" height="283.80" fill="url(#d1)"/>
<rect x="432.30" y="372.10" width="28.60" height="283.80" fill="url(#d2)"/>
<rect x="460.30" y="372.10" width="28.60" height="283.80" fill="url(#d3)"/>
<rect x="488.30" y="372.10" width="28.60" height="283.80" fill="url(#d4)"/>
<rect x="516.30" y="372.10" width="28.60" height="283.80" fill="url(#d5)"/>
<rect x="544.30" y="372.10" width="28.60" height="283.80" fill="url(#d6)"/>
<rect x="572.30" y="372.10" width="28.60" height="283.80" fill="url(#d7)"/>
<rect x="600.30" y="372.10" width="28.60" height="283.80" fill="url(#d8)"/>
<rect x="628.30" y="372.10" width="73.00" height="283.80" fill="url(#d9)"/>
</g>
<path d="M55.7 32.4 L100.0 32.8 L142.8 33.1" fill="none" stroke="#000" stroke-linejoin="round" stroke-width="1.7"/>
<text x="167.0" y="37.1" text-anchor="middle" font-size="17.2" style="font-family:'Liberation Sans',sans-serif" textLength="42.3" lengthAdjust="spacingAndGlyphs">170 K</text>
<path d="M191.0 32.4 L230.0 31.7 L266.8 30.8" fill="none" stroke="#000" stroke-linejoin="round" stroke-width="1.7"/>
<text x="291.5" y="34.0" text-anchor="middle" font-size="17.2" style="font-family:'Liberation Sans',sans-serif" textLength="42.3" lengthAdjust="spacingAndGlyphs" transform="rotate(-2.8 291.5 28.9)">170 K</text>
<path d="M315.3 28.3 L333.0 26.1" fill="none" stroke="#000" stroke-linejoin="round" stroke-width="1.7" clip-path="url(#cpa)"/>
<path d="M291.5 19.3 L310.0 21.3 L333.0 24.0" fill="none" stroke="#000" stroke-linejoin="round" stroke-width="1.7" clip-path="url(#cpa)"/>
<path d="M55.7 35.3 L120.0 36.0 L200.0 37.0 L332.6 36.4" fill="none" stroke="#000" stroke-linejoin="round" stroke-width="1.7"/>
<path d="M55.7 44.0 L200.0 47.0 L208.7 47.2" fill="none" stroke="#000" stroke-linejoin="round" stroke-width="1.7" stroke-dasharray="5.6 2.4"/>
<text x="229.0" y="52.2" text-anchor="middle" font-size="17.2" style="font-family:'Liberation Sans',sans-serif" textLength="35.0" lengthAdjust="spacingAndGlyphs">80 K</text>
<path d="M249.2 48.2 L332.6 49.5" fill="none" stroke="#000" stroke-linejoin="round" stroke-width="1.7" stroke-dasharray="5.6 2.4"/>
<path d="M55.7 69.9 L147.7 71.3" fill="none" stroke="#000" stroke-linejoin="round" stroke-width="1.7" stroke-dasharray="5.6 2.4"/>
<text x="166.8" y="76.0" text-anchor="middle" font-size="17.2" style="font-family:'Liberation Sans',sans-serif" textLength="35.0" lengthAdjust="spacingAndGlyphs">30 K</text>
<path d="M186.5 72.0 L332.6 73.6" fill="none" stroke="#000" stroke-linejoin="round" stroke-width="1.7" stroke-dasharray="5.6 2.4"/>
<path d="M55.7 95.9 L85.1 96.0" fill="none" stroke="#000" stroke-linejoin="round" stroke-width="1.7"/>
<text x="105.5" y="100.9" text-anchor="middle" font-size="17.2" style="font-family:'Liberation Sans',sans-serif" textLength="35.0" lengthAdjust="spacingAndGlyphs">15 K</text>
<path d="M126.0 96.4 L200.0 97.3 L332.6 98.9" fill="none" stroke="#000" stroke-linejoin="round" stroke-width="1.7"/>
<path d="M376.3 60.4 L420.0 62.0 L455.8 63.3" fill="none" stroke="#000" stroke-linejoin="round" stroke-width="1.7"/>
<text x="480.5" y="67.5" text-anchor="middle" font-size="17.2" style="font-family:'Liberation Sans',sans-serif" textLength="42.3" lengthAdjust="spacingAndGlyphs">170 K</text>
<path d="M505.2 63.4 L520.0 63.0 L550.0 62.3 L585.0 60.8 L620.0 58.0 L656.3 53.5" fill="none" stroke="#000" stroke-linejoin="round" stroke-width="1.7"/>
<path d="M376.3 67.9 L410.0 71.0 L445.0 73.2 L480.0 74.6 L520.0 75.5 L585.0 76.6 L656.3 77.2" fill="none" stroke="#000" stroke-linejoin="round" stroke-width="1.7"/>
<path d="M596.0 18.6 L604.7 20.3" fill="none" stroke="#000" stroke-linejoin="round" stroke-width="1.7" clip-path="url(#cpb)"/>
<g clip-path="url(#cpb)"><text x="619.8" y="23.0" text-anchor="middle" font-size="17.2" style="font-family:'Liberation Sans',sans-serif" textLength="42.3" lengthAdjust="spacingAndGlyphs" transform="rotate(10.7 619.8 17.9)">170 K</text></g>
<path d="M644.2 23.3 L656.3 24.9" fill="none" stroke="#000" stroke-linejoin="round" stroke-width="1.7" clip-path="url(#cpb)"/>
<path d="M376.3 95.3 L522.7 108.7" fill="none" stroke="#000" stroke-linejoin="round" stroke-width="1.7" stroke-dasharray="5.6 2.4"/>
<text x="542.7" y="114.3" text-anchor="middle" font-size="17.2" style="font-family:'Liberation Sans',sans-serif" textLength="35.0" lengthAdjust="spacingAndGlyphs" transform="rotate(3.3 542.7 109.2)">80 K</text>
<path d="M563.3 111.7 L656.3 117.4" fill="none" stroke="#000" stroke-linejoin="round" stroke-width="1.7" stroke-dasharray="5.6 2.4"/>
<path d="M376.3 175.8 L459.5 181.4" fill="none" stroke="#000" stroke-linejoin="round" stroke-width="1.7" stroke-dasharray="5.6 2.4"/>
<text x="479.9" y="187.4" text-anchor="middle" font-size="17.2" style="font-family:'Liberation Sans',sans-serif" textLength="35.0" lengthAdjust="spacingAndGlyphs" transform="rotate(3 479.9 182.3)">30 K</text>
<path d="M500.5 184.1 L656.3 194.5" fill="none" stroke="#000" stroke-linejoin="round" stroke-width="1.7" stroke-dasharray="5.6 2.4"/>
<path d="M376.3 265.2 L398.6 265.9" fill="none" stroke="#000" stroke-linejoin="round" stroke-width="1.7"/>
<text x="419.6" y="271.4" text-anchor="middle" font-size="17.2" style="font-family:'Liberation Sans',sans-serif" textLength="35.0" lengthAdjust="spacingAndGlyphs" transform="rotate(2 419.6 266.3)">15 K</text>
<path d="M440.6 267.6 L656.3 275.5" fill="none" stroke="#000" stroke-linejoin="round" stroke-width="1.7"/>
<path d="M55.7 381.8 L200.0 377.9 L256.0 374.7" fill="none" stroke="#000" stroke-linejoin="round" stroke-width="1.7" clip-path="url(#cpc)"/>
<path d="M55.7 389.7 L146.7 389.9" fill="none" stroke="#000" stroke-linejoin="round" stroke-width="1.7" stroke-dasharray="5.6 2.4"/>
<text x="167.0" y="394.8" text-anchor="middle" font-size="17.2" style="font-family:'Liberation Sans',sans-serif" textLength="35.0" lengthAdjust="spacingAndGlyphs">25 K</text>
<path d="M187.2 390.3 L332.6 390.7" fill="none" stroke="#000" stroke-linejoin="round" stroke-width="1.7" stroke-dasharray="5.6 2.4"/>
<path d="M55.7 400.1 L200.0 401.9 L271.0 402.2" fill="none" stroke="#000" stroke-linejoin="round" stroke-width="1.7" stroke-dasharray="5.6 2.4"/>
<text x="291.3" y="406.9" text-anchor="middle" font-size="17.2" style="font-family:'Liberation Sans',sans-serif" textLength="35.0" lengthAdjust="spacingAndGlyphs">20 K</text>
<path d="M312.0 402.4 L332.6 402.5" fill="none" stroke="#000" stroke-linejoin="round" stroke-width="1.7" stroke-dasharray="5.6 2.4"/>
<path d="M55.7 417.7 L84.5 417.8" fill="none" stroke="#000" stroke-linejoin="round" stroke-width="1.7"/>
<text x="105.0" y="422.3" text-anchor="middle" font-size="17.2" style="font-family:'Liberation Sans',sans-serif" textLength="35.0" lengthAdjust="spacingAndGlyphs">15 K</text>
<path d="M125.4 417.9 L146.7 418.0" fill="none" stroke="#000" stroke-linejoin="round" stroke-width="1.7"/>
<text x="167.2" y="422.5" text-anchor="middle" font-size="17.2" style="font-family:'Liberation Sans',sans-serif" textLength="35.0" lengthAdjust="spacingAndGlyphs">15 K</text>
<path d="M187.8 418.2 L209.0 418.3" fill="none" stroke="#000" stroke-linejoin="round" stroke-width="1.7"/>
<text x="229.3" y="422.7" text-anchor="middle" font-size="17.2" style="font-family:'Liberation Sans',sans-serif" textLength="35.0" lengthAdjust="spacingAndGlyphs">15 K</text>
<path d="M249.2 418.7 L332.6 419.0" fill="none" stroke="#000" stroke-linejoin="round" stroke-width="1.7"/>
<path d="M376.3 403.2 L420.0 402.0 L459.7 400.1" fill="none" stroke="#000" stroke-linejoin="round" stroke-width="1.7"/>
<text x="479.9" y="402.7" text-anchor="middle" font-size="17.2" style="font-family:'Liberation Sans',sans-serif" textLength="35.0" lengthAdjust="spacingAndGlyphs" transform="rotate(-5 479.9 397.6)">30 K</text>
<path d="M500.9 396.2 L522.0 393.8 L541.8 390.0 L552.0 387.7 L560.0 385.6 L566.0 383.8 L571.0 382.0 L575.0 380.2 L577.8 378.6 L580.0 376.8 L581.4 375.2 L582.2 373.6" fill="none" stroke="#000" stroke-linejoin="round" stroke-width="1.7" clip-path="url(#cpd)"/>
<path d="M376.3 428.0 L560.0 435.2 L583.7 435.6" fill="none" stroke="#000" stroke-linejoin="round" stroke-width="1.7" stroke-dasharray="5.6 2.4"/>
<text x="604.8" y="440.5" text-anchor="middle" font-size="17.2" style="font-family:'Liberation Sans',sans-serif" textLength="35.0" lengthAdjust="spacingAndGlyphs" transform="rotate(0.5 604.8 435.4)">25 K</text>
<path d="M625.0 435.9 L656.3 436.2" fill="none" stroke="#000" stroke-linejoin="round" stroke-width="1.7" stroke-dasharray="5.6 2.4"/>
<path d="M376.3 471.1 L459.7 474.5" fill="none" stroke="#000" stroke-linejoin="round" stroke-width="1.7" stroke-dasharray="5.6 2.4"/>
<text x="481.3" y="479.7" text-anchor="middle" font-size="17.2" style="font-family:'Liberation Sans',sans-serif" textLength="35.0" lengthAdjust="spacingAndGlyphs" transform="rotate(2 481.3 474.6)">20 K</text>
<path d="M501.0 476.2 L523.0 477.0" fill="none" stroke="#000" stroke-linejoin="round" stroke-width="1.7" stroke-dasharray="5.6 2.4"/>
<text x="542.3" y="482.7" text-anchor="middle" font-size="17.2" style="font-family:'Liberation Sans',sans-serif" textLength="35.0" lengthAdjust="spacingAndGlyphs" transform="rotate(2 542.3 477.6)">20 K</text>
<path d="M562.7 478.7 L656.3 482.6" fill="none" stroke="#000" stroke-linejoin="round" stroke-width="1.7" stroke-dasharray="5.6 2.4"/>
<path d="M376.3 542.5 L398.6 542.9" fill="none" stroke="#000" stroke-linejoin="round" stroke-width="1.7"/>
<text x="419.2" y="547.7" text-anchor="middle" font-size="17.2" style="font-family:'Liberation Sans',sans-serif" textLength="35.0" lengthAdjust="spacingAndGlyphs" transform="rotate(2 419.2 542.6)">15 K</text>
<path d="M439.8 544.4 L656.3 552.0" fill="none" stroke="#000" stroke-linejoin="round" stroke-width="1.7"/>
<text x="106.2" y="235.2" font-size="20.0" text-anchor="start" fill="#f7f312" style="font-family:'Liberation Sans',sans-serif" textLength="61.4" lengthAdjust="spacingAndGlyphs">without</text>
<text x="173.3" y="235.2" font-size="20.0" text-anchor="start" fill="#f7f312" style="font-family:'Liberation Sans',sans-serif" textLength="42.4" lengthAdjust="spacingAndGlyphs">evap.</text>
<text x="225.2" y="235.2" font-size="20.0" text-anchor="start" fill="#f7f312" style="font-family:'Liberation Sans',sans-serif" textLength="58.2" lengthAdjust="spacingAndGlyphs">cooling</text>
<text x="424.2" y="235.2" font-size="20.0" text-anchor="start" fill="#f7f312" style="font-family:'Liberation Sans',sans-serif" textLength="61.4" lengthAdjust="spacingAndGlyphs">without</text>
<text x="491.3" y="235.2" font-size="20.0" text-anchor="start" fill="#f7f312" style="font-family:'Liberation Sans',sans-serif" textLength="42.4" lengthAdjust="spacingAndGlyphs">evap.</text>
<text x="543.2" y="235.2" font-size="20.0" text-anchor="start" fill="#f7f312" style="font-family:'Liberation Sans',sans-serif" textLength="58.2" lengthAdjust="spacingAndGlyphs">cooling</text>
<text x="106.2" y="590.2" font-size="20.0" text-anchor="start" fill="#f7f312" style="font-family:'Liberation Sans',sans-serif" textLength="35.1" lengthAdjust="spacingAndGlyphs">with</text>
<text x="147.0" y="590.2" font-size="20.0" text-anchor="start" fill="#f7f312" style="font-family:'Liberation Sans',sans-serif" textLength="42.4" lengthAdjust="spacingAndGlyphs">evap.</text>
<text x="198.3" y="590.2" font-size="20.0" text-anchor="start" fill="#f7f312" style="font-family:'Liberation Sans',sans-serif" textLength="57.9" lengthAdjust="spacingAndGlyphs">cooling</text>
<text x="424.2" y="590.2" font-size="20.0" text-anchor="start" fill="#f7f312" style="font-family:'Liberation Sans',sans-serif" textLength="35.1" lengthAdjust="spacingAndGlyphs">with</text>
<text x="465.0" y="590.2" font-size="20.0" text-anchor="start" fill="#f7f312" style="font-family:'Liberation Sans',sans-serif" textLength="42.4" lengthAdjust="spacingAndGlyphs">evap.</text>
<text x="516.3" y="590.2" font-size="20.0" text-anchor="start" fill="#f7f312" style="font-family:'Liberation Sans',sans-serif" textLength="57.9" lengthAdjust="spacingAndGlyphs">cooling</text>
<rect x="55.70" y="19.10" width="276.90" height="279.80" fill="none" stroke="#000" stroke-width="2.1"/>
<line x1="45.10" y1="19.10" x2="55.70" y2="19.10" stroke="#000" stroke-width="2.1"/>
<line x1="45.10" y1="50.19" x2="55.70" y2="50.19" stroke="#000" stroke-width="2.1"/>
<line x1="45.10" y1="81.28" x2="55.70" y2="81.28" stroke="#000" stroke-width="2.1"/>
<line x1="45.10" y1="112.37" x2="55.70" y2="112.37" stroke="#000" stroke-width="2.1"/>
<line x1="45.10" y1="143.46" x2="55.70" y2="143.46" stroke="#000" stroke-width="2.1"/>
<line x1="45.10" y1="174.54" x2="55.70" y2="174.54" stroke="#000" stroke-width="2.1"/>
<line x1="45.10" y1="205.63" x2="55.70" y2="205.63" stroke="#000" stroke-width="2.1"/>
<line x1="45.10" y1="236.72" x2="55.70" y2="236.72" stroke="#000" stroke-width="2.1"/>
<line x1="45.10" y1="267.81" x2="55.70" y2="267.81" stroke="#000" stroke-width="2.1"/>
<line x1="45.10" y1="298.90" x2="55.70" y2="298.90" stroke="#000" stroke-width="2.1"/>
<line x1="55.70" y1="298.90" x2="55.70" y2="308.70" stroke="#000" stroke-width="2.1"/>
<text x="55.7" y="321.8" font-size="10.8" text-anchor="middle" fill="#000" style="font-family:'Liberation Sans',sans-serif">1</text>
<line x1="186.59" y1="298.90" x2="186.59" y2="308.70" stroke="#000" stroke-width="2.1"/>
<text x="186.6" y="321.8" font-size="10.8" text-anchor="middle" fill="#000" style="font-family:'Liberation Sans',sans-serif">2</text>
<line x1="332.60" y1="298.90" x2="332.60" y2="308.70" stroke="#000" stroke-width="2.1"/>
<text x="332.6" y="321.8" font-size="10.8" text-anchor="middle" fill="#000" style="font-family:'Liberation Sans',sans-serif">3</text>
<rect x="376.30" y="19.10" width="280.00" height="279.80" fill="none" stroke="#000" stroke-width="2.1"/>
<line x1="365.70" y1="19.10" x2="376.30" y2="19.10" stroke="#000" stroke-width="2.1"/>
<line x1="365.70" y1="50.19" x2="376.30" y2="50.19" stroke="#000" stroke-width="2.1"/>
<line x1="365.70" y1="81.28" x2="376.30" y2="81.28" stroke="#000" stroke-width="2.1"/>
<line x1="365.70" y1="112.37" x2="376.30" y2="112.37" stroke="#000" stroke-width="2.1"/>
<line x1="365.70" y1="143.46" x2="376.30" y2="143.46" stroke="#000" stroke-width="2.1"/>
<line x1="365.70" y1="174.54" x2="376.30" y2="174.54" stroke="#000" stroke-width="2.1"/>
<line x1="365.70" y1="205.63" x2="376.30" y2="205.63" stroke="#000" stroke-width="2.1"/>
<line x1="365.70" y1="236.72" x2="376.30" y2="236.72" stroke="#000" stroke-width="2.1"/>
<line x1="365.70" y1="267.81" x2="376.30" y2="267.81" stroke="#000" stroke-width="2.1"/>
<line x1="365.70" y1="298.90" x2="376.30" y2="298.90" stroke="#000" stroke-width="2.1"/>
<line x1="376.30" y1="298.90" x2="376.30" y2="308.70" stroke="#000" stroke-width="2.1"/>
<text x="376.3" y="321.8" font-size="10.8" text-anchor="middle" fill="#000" style="font-family:'Liberation Sans',sans-serif">1</text>
<line x1="507.62" y1="298.90" x2="507.62" y2="308.70" stroke="#000" stroke-width="2.1"/>
<text x="507.6" y="321.8" font-size="10.8" text-anchor="middle" fill="#000" style="font-family:'Liberation Sans',sans-serif">2</text>
<line x1="656.30" y1="298.90" x2="656.30" y2="308.70" stroke="#000" stroke-width="2.1"/>
<text x="656.3" y="321.8" font-size="10.8" text-anchor="middle" fill="#000" style="font-family:'Liberation Sans',sans-serif">3</text>
<text x="40.9" y="23.4" font-size="11.4" text-anchor="end" fill="#000" style="font-family:'Liberation Sans',sans-serif">0</text>
<text x="40.9" y="54.5" font-size="11.4" text-anchor="end" fill="#000" style="font-family:'Liberation Sans',sans-serif" textLength="17.5" lengthAdjust="spacingAndGlyphs">100</text>
<text x="40.9" y="85.6" font-size="11.4" text-anchor="end" fill="#000" style="font-family:'Liberation Sans',sans-serif" textLength="17.5" lengthAdjust="spacingAndGlyphs">200</text>
<text x="40.9" y="116.7" font-size="11.4" text-anchor="end" fill="#000" style="font-family:'Liberation Sans',sans-serif" textLength="17.5" lengthAdjust="spacingAndGlyphs">300</text>
<text x="40.9" y="147.8" font-size="11.4" text-anchor="end" fill="#000" style="font-family:'Liberation Sans',sans-serif" textLength="17.5" lengthAdjust="spacingAndGlyphs">400</text>
<text x="40.9" y="178.8" font-size="11.4" text-anchor="end" fill="#000" style="font-family:'Liberation Sans',sans-serif" textLength="17.5" lengthAdjust="spacingAndGlyphs">500</text>
<text x="40.9" y="209.9" font-size="11.4" text-anchor="end" fill="#000" style="font-family:'Liberation Sans',sans-serif" textLength="17.5" lengthAdjust="spacingAndGlyphs">600</text>
<text x="40.9" y="241.0" font-size="11.4" text-anchor="end" fill="#000" style="font-family:'Liberation Sans',sans-serif" textLength="17.5" lengthAdjust="spacingAndGlyphs">700</text>
<text x="40.9" y="272.1" font-size="11.4" text-anchor="end" fill="#000" style="font-family:'Liberation Sans',sans-serif" textLength="17.5" lengthAdjust="spacingAndGlyphs">800</text>
<text x="40.9" y="303.2" font-size="11.4" text-anchor="end" fill="#000" style="font-family:'Liberation Sans',sans-serif" textLength="17.5" lengthAdjust="spacingAndGlyphs">900</text>
<text x="16.3" y="216.2" font-size="20.5" text-anchor="start" fill="#000" style="font-family:'Liberation Sans',sans-serif" textLength="54.6" lengthAdjust="spacingAndGlyphs" transform="rotate(-90 16.3 216.2)">Depth,</text>
<text x="16.3" y="157.7" font-size="20.5" text-anchor="start" fill="#000" style="font-family:'Liberation Sans',sans-serif" textLength="9.9" lengthAdjust="spacingAndGlyphs" transform="rotate(-90 16.3 157.7)">z</text>
<text x="16.3" y="140.1" font-size="20.5" text-anchor="start" fill="#000" style="font-family:'Liberation Sans',sans-serif" textLength="37.1" lengthAdjust="spacingAndGlyphs" transform="rotate(-90 16.3 140.1)">(cm)</text>
<text x="228.3" y="342.6" font-size="20.5" text-anchor="start" fill="#000" style="font-family:'Liberation Sans',sans-serif" textLength="95.6" lengthAdjust="spacingAndGlyphs">Heliocentric</text>
<text x="330.5" y="342.6" font-size="20.5" text-anchor="start" fill="#000" style="font-family:'Liberation Sans',sans-serif" textLength="68.6" lengthAdjust="spacingAndGlyphs">Distance,</text>
<text x="410.4" y="342.6" font-size="20.5" text-anchor="start" fill="#000" style="font-family:'Liberation Sans',sans-serif" textLength="10.6" lengthAdjust="spacingAndGlyphs">d</text>
<text x="427.4" y="342.6" font-size="20.5" text-anchor="start" fill="#000" style="font-family:'Liberation Sans',sans-serif" textLength="33.6" lengthAdjust="spacingAndGlyphs">(au)</text>
<rect x="55.70" y="374.10" width="276.90" height="279.80" fill="none" stroke="#000" stroke-width="2.1"/>
<line x1="45.10" y1="374.10" x2="55.70" y2="374.10" stroke="#000" stroke-width="2.1"/>
<line x1="45.10" y1="405.19" x2="55.70" y2="405.19" stroke="#000" stroke-width="2.1"/>
<line x1="45.10" y1="436.28" x2="55.70" y2="436.28" stroke="#000" stroke-width="2.1"/>
<line x1="45.10" y1="467.37" x2="55.70" y2="467.37" stroke="#000" stroke-width="2.1"/>
<line x1="45.10" y1="498.46" x2="55.70" y2="498.46" stroke="#000" stroke-width="2.1"/>
<line x1="45.10" y1="529.54" x2="55.70" y2="529.54" stroke="#000" stroke-width="2.1"/>
<line x1="45.10" y1="560.63" x2="55.70" y2="560.63" stroke="#000" stroke-width="2.1"/>
<line x1="45.10" y1="591.72" x2="55.70" y2="591.72" stroke="#000" stroke-width="2.1"/>
<line x1="45.10" y1="622.81" x2="55.70" y2="622.81" stroke="#000" stroke-width="2.1"/>
<line x1="45.10" y1="653.90" x2="55.70" y2="653.90" stroke="#000" stroke-width="2.1"/>
<line x1="55.70" y1="653.90" x2="55.70" y2="663.70" stroke="#000" stroke-width="2.1"/>
<text x="55.7" y="676.8" font-size="10.8" text-anchor="middle" fill="#000" style="font-family:'Liberation Sans',sans-serif">1</text>
<line x1="186.59" y1="653.90" x2="186.59" y2="663.70" stroke="#000" stroke-width="2.1"/>
<text x="186.6" y="676.8" font-size="10.8" text-anchor="middle" fill="#000" style="font-family:'Liberation Sans',sans-serif">2</text>
<line x1="332.60" y1="653.90" x2="332.60" y2="663.70" stroke="#000" stroke-width="2.1"/>
<text x="332.6" y="676.8" font-size="10.8" text-anchor="middle" fill="#000" style="font-family:'Liberation Sans',sans-serif">3</text>
<rect x="376.30" y="374.10" width="280.00" height="279.80" fill="none" stroke="#000" stroke-width="2.1"/>
<line x1="365.70" y1="374.10" x2="376.30" y2="374.10" stroke="#000" stroke-width="2.1"/>
<line x1="365.70" y1="405.19" x2="376.30" y2="405.19" stroke="#000" stroke-width="2.1"/>
<line x1="365.70" y1="436.28" x2="376.30" y2="436.28" stroke="#000" stroke-width="2.1"/>
<line x1="365.70" y1="467.37" x2="376.30" y2="467.37" stroke="#000" stroke-width="2.1"/>
<line x1="365.70" y1="498.46" x2="376.30" y2="498.46" stroke="#000" stroke-width="2.1"/>
<line x1="365.70" y1="529.54" x2="376.30" y2="529.54" stroke="#000" stroke-width="2.1"/>
<line x1="365.70" y1="560.63" x2="376.30" y2="560.63" stroke="#000" stroke-width="2.1"/>
<line x1="365.70" y1="591.72" x2="376.30" y2="591.72" stroke="#000" stroke-width="2.1"/>
<line x1="365.70" y1="622.81" x2="376.30" y2="622.81" stroke="#000" stroke-width="2.1"/>
<line x1="365.70" y1="653.90" x2="376.30" y2="653.90" stroke="#000" stroke-width="2.1"/>
<line x1="376.30" y1="653.90" x2="376.30" y2="663.70" stroke="#000" stroke-width="2.1"/>
<text x="376.3" y="676.8" font-size="10.8" text-anchor="middle" fill="#000" style="font-family:'Liberation Sans',sans-serif">1</text>
<line x1="507.62" y1="653.90" x2="507.62" y2="663.70" stroke="#000" stroke-width="2.1"/>
<text x="507.6" y="676.8" font-size="10.8" text-anchor="middle" fill="#000" style="font-family:'Liberation Sans',sans-serif">2</text>
<line x1="656.30" y1="653.90" x2="656.30" y2="663.70" stroke="#000" stroke-width="2.1"/>
<text x="656.3" y="676.8" font-size="10.8" text-anchor="middle" fill="#000" style="font-family:'Liberation Sans',sans-serif">3</text>
<text x="40.9" y="378.4" font-size="11.4" text-anchor="end" fill="#000" style="font-family:'Liberation Sans',sans-serif">0</text>
<text x="40.9" y="409.5" font-size="11.4" text-anchor="end" fill="#000" style="font-family:'Liberation Sans',sans-serif" textLength="17.5" lengthAdjust="spacingAndGlyphs">100</text>
<text x="40.9" y="440.6" font-size="11.4" text-anchor="end" fill="#000" style="font-family:'Liberation Sans',sans-serif" textLength="17.5" lengthAdjust="spacingAndGlyphs">200</text>
<text x="40.9" y="471.7" font-size="11.4" text-anchor="end" fill="#000" style="font-family:'Liberation Sans',sans-serif" textLength="17.5" lengthAdjust="spacingAndGlyphs">300</text>
<text x="40.9" y="502.8" font-size="11.4" text-anchor="end" fill="#000" style="font-family:'Liberation Sans',sans-serif" textLength="17.5" lengthAdjust="spacingAndGlyphs">400</text>
<text x="40.9" y="533.8" font-size="11.4" text-anchor="end" fill="#000" style="font-family:'Liberation Sans',sans-serif" textLength="17.5" lengthAdjust="spacingAndGlyphs">500</text>
<text x="40.9" y="564.9" font-size="11.4" text-anchor="end" fill="#000" style="font-family:'Liberation Sans',sans-serif" textLength="17.5" lengthAdjust="spacingAndGlyphs">600</text>
<text x="40.9" y="596.0" font-size="11.4" text-anchor="end" fill="#000" style="font-family:'Liberation Sans',sans-serif" textLength="17.5" lengthAdjust="spacingAndGlyphs">700</text>
<text x="40.9" y="627.1" font-size="11.4" text-anchor="end" fill="#000" style="font-family:'Liberation Sans',sans-serif" textLength="17.5" lengthAdjust="spacingAndGlyphs">800</text>
<text x="40.9" y="658.2" font-size="11.4" text-anchor="end" fill="#000" style="font-family:'Liberation Sans',sans-serif" textLength="17.5" lengthAdjust="spacingAndGlyphs">900</text>
<text x="16.3" y="571.2" font-size="20.5" text-anchor="start" fill="#000" style="font-family:'Liberation Sans',sans-serif" textLength="54.6" lengthAdjust="spacingAndGlyphs" transform="rotate(-90 16.3 571.2)">Depth,</text>
<text x="16.3" y="512.7" font-size="20.5" text-anchor="start" fill="#000" style="font-family:'Liberation Sans',sans-serif" textLength="9.9" lengthAdjust="spacingAndGlyphs" transform="rotate(-90 16.3 512.7)">z</text>
<text x="16.3" y="495.1" font-size="20.5" text-anchor="start" fill="#000" style="font-family:'Liberation Sans',sans-serif" textLength="37.1" lengthAdjust="spacingAndGlyphs" transform="rotate(-90 16.3 495.1)">(cm)</text>
<text x="228.3" y="697.6" font-size="20.5" text-anchor="start" fill="#000" style="font-family:'Liberation Sans',sans-serif" textLength="95.6" lengthAdjust="spacingAndGlyphs">Heliocentric</text>
<text x="330.5" y="697.6" font-size="20.5" text-anchor="start" fill="#000" style="font-family:'Liberation Sans',sans-serif" textLength="68.6" lengthAdjust="spacingAndGlyphs">Distance,</text>
<text x="410.4" y="697.6" font-size="20.5" text-anchor="start" fill="#000" style="font-family:'Liberation Sans',sans-serif" textLength="10.6" lengthAdjust="spacingAndGlyphs">d</text>
<text x="427.4" y="697.6" font-size="20.5" text-anchor="start" fill="#000" style="font-family:'Liberation Sans',sans-serif" textLength="33.6" lengthAdjust="spacingAndGlyphs">(au)</text>
<text x="121.0" y="11.8" font-size="13.8" style="font-family:'Liberation Sans',sans-serif;font-weight:bold" textLength="18.2" lengthAdjust="spacingAndGlyphs">(a)</text>
<text x="144.4" y="11.8" font-size="13.8" style="font-family:'Liberation Sans',sans-serif;font-style:italic" textLength="7.0" lengthAdjust="spacingAndGlyphs">&#954;</text>
<text x="155.8" y="11.8" font-size="13.8" style="font-family:'Liberation Sans',sans-serif;" textLength="10.2" lengthAdjust="spacingAndGlyphs">=</text>
<text x="169.6" y="11.8" font-size="13.2" style="font-family:'Liberation Sans',sans-serif;" textLength="23.8" lengthAdjust="spacingAndGlyphs">0.01</text>
<text x="199.4" y="11.8" font-size="13.8" style="font-family:'Liberation Sans',sans-serif;" textLength="12.4" lengthAdjust="spacingAndGlyphs">W</text>
<text x="216.8" y="11.8" font-size="13.8" style="font-family:'Liberation Sans',sans-serif;" textLength="8.8" lengthAdjust="spacingAndGlyphs">K</text>
<text x="243.8" y="11.8" font-size="13.8" style="font-family:'Liberation Sans',sans-serif;" textLength="10.4" lengthAdjust="spacingAndGlyphs">m</text>
<text x="226.0" y="6.1" font-size="9.6" style="font-family:'Liberation Sans',sans-serif;" textLength="12.0" lengthAdjust="spacingAndGlyphs">&#8722;1</text>
<text x="254.8" y="6.1" font-size="9.6" style="font-family:'Liberation Sans',sans-serif;" textLength="12.0" lengthAdjust="spacingAndGlyphs">&#8722;1</text>
<text x="446.5" y="11.8" font-size="13.8" style="font-family:'Liberation Sans',sans-serif;font-weight:bold" textLength="16.6" lengthAdjust="spacingAndGlyphs">(b)</text>
<text x="469.4" y="11.8" font-size="13.8" style="font-family:'Liberation Sans',sans-serif;font-style:italic" textLength="7.0" lengthAdjust="spacingAndGlyphs">&#954;</text>
<text x="481.4" y="11.8" font-size="13.8" style="font-family:'Liberation Sans',sans-serif;" textLength="10.2" lengthAdjust="spacingAndGlyphs">=</text>
<text x="495.4" y="11.8" font-size="13.2" style="font-family:'Liberation Sans',sans-serif;" textLength="16.6" lengthAdjust="spacingAndGlyphs">0.1</text>
<text x="518.2" y="11.8" font-size="13.8" style="font-family:'Liberation Sans',sans-serif;" textLength="12.4" lengthAdjust="spacingAndGlyphs">W</text>
<text x="535.6" y="11.8" font-size="13.8" style="font-family:'Liberation Sans',sans-serif;" textLength="8.8" lengthAdjust="spacingAndGlyphs">K</text>
<text x="562.6" y="11.8" font-size="13.8" style="font-family:'Liberation Sans',sans-serif;" textLength="10.4" lengthAdjust="spacingAndGlyphs">m</text>
<text x="545.0" y="6.1" font-size="9.6" style="font-family:'Liberation Sans',sans-serif;" textLength="12.0" lengthAdjust="spacingAndGlyphs">&#8722;1</text>
<text x="573.6" y="6.1" font-size="9.6" style="font-family:'Liberation Sans',sans-serif;" textLength="12.0" lengthAdjust="spacingAndGlyphs">&#8722;1</text>
<text x="121.0" y="366.8" font-size="13.8" style="font-family:'Liberation Sans',sans-serif;font-weight:bold" textLength="18.2" lengthAdjust="spacingAndGlyphs">(a)</text>
<text x="144.4" y="366.8" font-size="13.8" style="font-family:'Liberation Sans',sans-serif;font-style:italic" textLength="7.0" lengthAdjust="spacingAndGlyphs">&#954;</text>
<text x="155.8" y="366.8" font-size="13.8" style="font-family:'Liberation Sans',sans-serif;" textLength="10.2" lengthAdjust="spacingAndGlyphs">=</text>
<text x="169.6" y="366.8" font-size="13.2" style="font-family:'Liberation Sans',sans-serif;" textLength="23.8" lengthAdjust="spacingAndGlyphs">0.01</text>
<text x="199.4" y="366.8" font-size="13.8" style="font-family:'Liberation Sans',sans-serif;" textLength="12.4" lengthAdjust="spacingAndGlyphs">W</text>
<text x="216.8" y="366.8" font-size="13.8" style="font-family:'Liberation Sans',sans-serif;" textLength="8.8" lengthAdjust="spacingAndGlyphs">K</text>
<text x="243.8" y="366.8" font-size="13.8" style="font-family:'Liberation Sans',sans-serif;" textLength="10.4" lengthAdjust="spacingAndGlyphs">m</text>
<text x="226.0" y="361.1" font-size="9.6" style="font-family:'Liberation Sans',sans-serif;" textLength="12.0" lengthAdjust="spacingAndGlyphs">&#8722;1</text>
<text x="254.8" y="361.1" font-size="9.6" style="font-family:'Liberation Sans',sans-serif;" textLength="12.0" lengthAdjust="spacingAndGlyphs">&#8722;1</text>
<text x="446.5" y="366.8" font-size="13.8" style="font-family:'Liberation Sans',sans-serif;font-weight:bold" textLength="16.6" lengthAdjust="spacingAndGlyphs">(b)</text>
<text x="469.4" y="366.8" font-size="13.8" style="font-family:'Liberation Sans',sans-serif;font-style:italic" textLength="7.0" lengthAdjust="spacingAndGlyphs">&#954;</text>
<text x="481.4" y="366.8" font-size="13.8" style="font-family:'Liberation Sans',sans-serif;" textLength="10.2" lengthAdjust="spacingAndGlyphs">=</text>
<text x="495.4" y="366.8" font-size="13.2" style="font-family:'Liberation Sans',sans-serif;" textLength="16.6" lengthAdjust="spacingAndGlyphs">0.1</text>
<text x="518.2" y="366.8" font-size="13.8" style="font-family:'Liberation Sans',sans-serif;" textLength="12.4" lengthAdjust="spacingAndGlyphs">W</text>
<text x="535.6" y="366.8" font-size="13.8" style="font-family:'Liberation Sans',sans-serif;" textLength="8.8" lengthAdjust="spacingAndGlyphs">K</text>
<text x="562.6" y="366.8" font-size="13.8" style="font-family:'Liberation Sans',sans-serif;" textLength="10.4" lengthAdjust="spacingAndGlyphs">m</text>
<text x="545.0" y="361.1" font-size="9.6" style="font-family:'Liberation Sans',sans-serif;" textLength="12.0" lengthAdjust="spacingAndGlyphs">&#8722;1</text>
<text x="573.6" y="361.1" font-size="9.6" style="font-family:'Liberation Sans',sans-serif;" textLength="12.0" lengthAdjust="spacingAndGlyphs">&#8722;1</text>
<rect x="678.80" y="22.80" width="28.10" height="277.80" fill="url(#cb)" stroke="#000" stroke-width="2.1"/>
<line x1="707.70" y1="300.60" x2="712.30" y2="300.60" stroke="#222" stroke-width="1.25"/>
<line x1="707.70" y1="279.34" x2="712.30" y2="279.34" stroke="#222" stroke-width="1.25"/>
<line x1="707.70" y1="264.26" x2="712.30" y2="264.26" stroke="#222" stroke-width="1.25"/>
<line x1="707.70" y1="252.56" x2="712.30" y2="252.56" stroke="#222" stroke-width="1.25"/>
<line x1="707.70" y1="243.00" x2="712.30" y2="243.00" stroke="#222" stroke-width="1.25"/>
<line x1="707.70" y1="234.92" x2="712.30" y2="234.92" stroke="#222" stroke-width="1.25"/>
<line x1="707.70" y1="227.91" x2="712.30" y2="227.91" stroke="#222" stroke-width="1.25"/>
<line x1="707.70" y1="221.74" x2="712.30" y2="221.74" stroke="#222" stroke-width="1.25"/>
<line x1="707.70" y1="179.87" x2="712.30" y2="179.87" stroke="#222" stroke-width="1.25"/>
<line x1="707.70" y1="158.61" x2="712.30" y2="158.61" stroke="#222" stroke-width="1.25"/>
<line x1="707.70" y1="143.53" x2="712.30" y2="143.53" stroke="#222" stroke-width="1.25"/>
<line x1="707.70" y1="131.83" x2="712.30" y2="131.83" stroke="#222" stroke-width="1.25"/>
<line x1="707.70" y1="122.27" x2="712.30" y2="122.27" stroke="#222" stroke-width="1.25"/>
<line x1="707.70" y1="114.19" x2="712.30" y2="114.19" stroke="#222" stroke-width="1.25"/>
<line x1="707.70" y1="107.19" x2="712.30" y2="107.19" stroke="#222" stroke-width="1.25"/>
<line x1="707.70" y1="101.01" x2="712.30" y2="101.01" stroke="#222" stroke-width="1.25"/>
<line x1="707.70" y1="59.14" x2="712.30" y2="59.14" stroke="#222" stroke-width="1.25"/>
<line x1="707.70" y1="37.88" x2="712.30" y2="37.88" stroke="#222" stroke-width="1.25"/>
<line x1="707.70" y1="22.80" x2="712.30" y2="22.80" stroke="#222" stroke-width="1.25"/>
<line x1="706.90" y1="216.21" x2="716.90" y2="216.21" stroke="#000" stroke-width="2.1"/>
<text x="720.7" y="220.6" font-size="11.6" text-anchor="start" fill="#000" style="font-family:'Liberation Serif',serif">10</text>
<text x="732.6" y="215.8" font-size="7.8" text-anchor="start" fill="#000" style="font-family:'Liberation Serif',serif">1</text>
<line x1="706.90" y1="95.49" x2="716.90" y2="95.49" stroke="#000" stroke-width="2.1"/>
<text x="720.7" y="99.9" font-size="11.6" text-anchor="start" fill="#000" style="font-family:'Liberation Serif',serif">10</text>
<text x="732.6" y="95.1" font-size="7.8" text-anchor="start" fill="#000" style="font-family:'Liberation Serif',serif">2</text>
<text x="754.9" y="229.8" font-size="20.5" text-anchor="start" fill="#000" style="font-family:'Liberation Sans',sans-serif" textLength="104.0" lengthAdjust="spacingAndGlyphs" transform="rotate(-90 754.9 229.8)">Temperature</text>
<text x="754.9" y="120.4" font-size="20.5" text-anchor="start" fill="#000" style="font-family:'Liberation Sans',sans-serif" textLength="27.8" lengthAdjust="spacingAndGlyphs" transform="rotate(-90 754.9 120.4)">(K)</text>
<rect x="678.80" y="377.80" width="28.10" height="277.80" fill="url(#cb)" stroke="#000" stroke-width="2.1"/>
<line x1="707.70" y1="655.60" x2="712.30" y2="655.60" stroke="#222" stroke-width="1.25"/>
<line x1="707.70" y1="634.34" x2="712.30" y2="634.34" stroke="#222" stroke-width="1.25"/>
<line x1="707.70" y1="619.26" x2="712.30" y2="619.26" stroke="#222" stroke-width="1.25"/>
<line x1="707.70" y1="607.56" x2="712.30" y2="607.56" stroke="#222" stroke-width="1.25"/>
<line x1="707.70" y1="598.00" x2="712.30" y2="598.00" stroke="#222" stroke-width="1.25"/>
<line x1="707.70" y1="589.92" x2="712.30" y2="589.92" stroke="#222" stroke-width="1.25"/>
<line x1="707.70" y1="582.91" x2="712.30" y2="582.91" stroke="#222" stroke-width="1.25"/>
<line x1="707.70" y1="576.74" x2="712.30" y2="576.74" stroke="#222" stroke-width="1.25"/>
<line x1="707.70" y1="534.87" x2="712.30" y2="534.87" stroke="#222" stroke-width="1.25"/>
<line x1="707.70" y1="513.61" x2="712.30" y2="513.61" stroke="#222" stroke-width="1.25"/>
<line x1="707.70" y1="498.53" x2="712.30" y2="498.53" stroke="#222" stroke-width="1.25"/>
<line x1="707.70" y1="486.83" x2="712.30" y2="486.83" stroke="#222" stroke-width="1.25"/>
<line x1="707.70" y1="477.27" x2="712.30" y2="477.27" stroke="#222" stroke-width="1.25"/>
<line x1="707.70" y1="469.19" x2="712.30" y2="469.19" stroke="#222" stroke-width="1.25"/>
<line x1="707.70" y1="462.19" x2="712.30" y2="462.19" stroke="#222" stroke-width="1.25"/>
<line x1="707.70" y1="456.01" x2="712.30" y2="456.01" stroke="#222" stroke-width="1.25"/>
<line x1="707.70" y1="414.14" x2="712.30" y2="414.14" stroke="#222" stroke-width="1.25"/>
<line x1="707.70" y1="392.88" x2="712.30" y2="392.88" stroke="#222" stroke-width="1.25"/>
<line x1="707.70" y1="377.80" x2="712.30" y2="377.80" stroke="#222" stroke-width="1.25"/>
<line x1="706.90" y1="571.21" x2="716.90" y2="571.21" stroke="#000" stroke-width="2.1"/>
<text x="720.7" y="575.6" font-size="11.6" text-anchor="start" fill="#000" style="font-family:'Liberation Serif',serif">10</text>
<text x="732.6" y="570.8" font-size="7.8" text-anchor="start" fill="#000" style="font-family:'Liberation Serif',serif">1</text>
<line x1="706.90" y1="450.49" x2="716.90" y2="450.49" stroke="#000" stroke-width="2.1"/>
<text x="720.7" y="454.9" font-size="11.6" text-anchor="start" fill="#000" style="font-family:'Liberation Serif',serif">10</text>
<text x="732.6" y="450.1" font-size="7.8" text-anchor="start" fill="#000" style="font-family:'Liberation Serif',serif">2</text>
<text x="754.9" y="584.8" font-size="20.5" text-anchor="start" fill="#000" style="font-family:'Liberation Sans',sans-serif" textLength="104.0" lengthAdjust="spacingAndGlyphs" transform="rotate(-90 754.9 584.8)">Temperature</text>
<text x="754.9" y="475.4" font-size="20.5" text-anchor="start" fill="#000" style="font-family:'Liberation Sans',sans-serif" textLength="27.8" lengthAdjust="spacingAndGlyphs" transform="rotate(-90 754.9 475.4)">(K)</text></svg></body></html>
